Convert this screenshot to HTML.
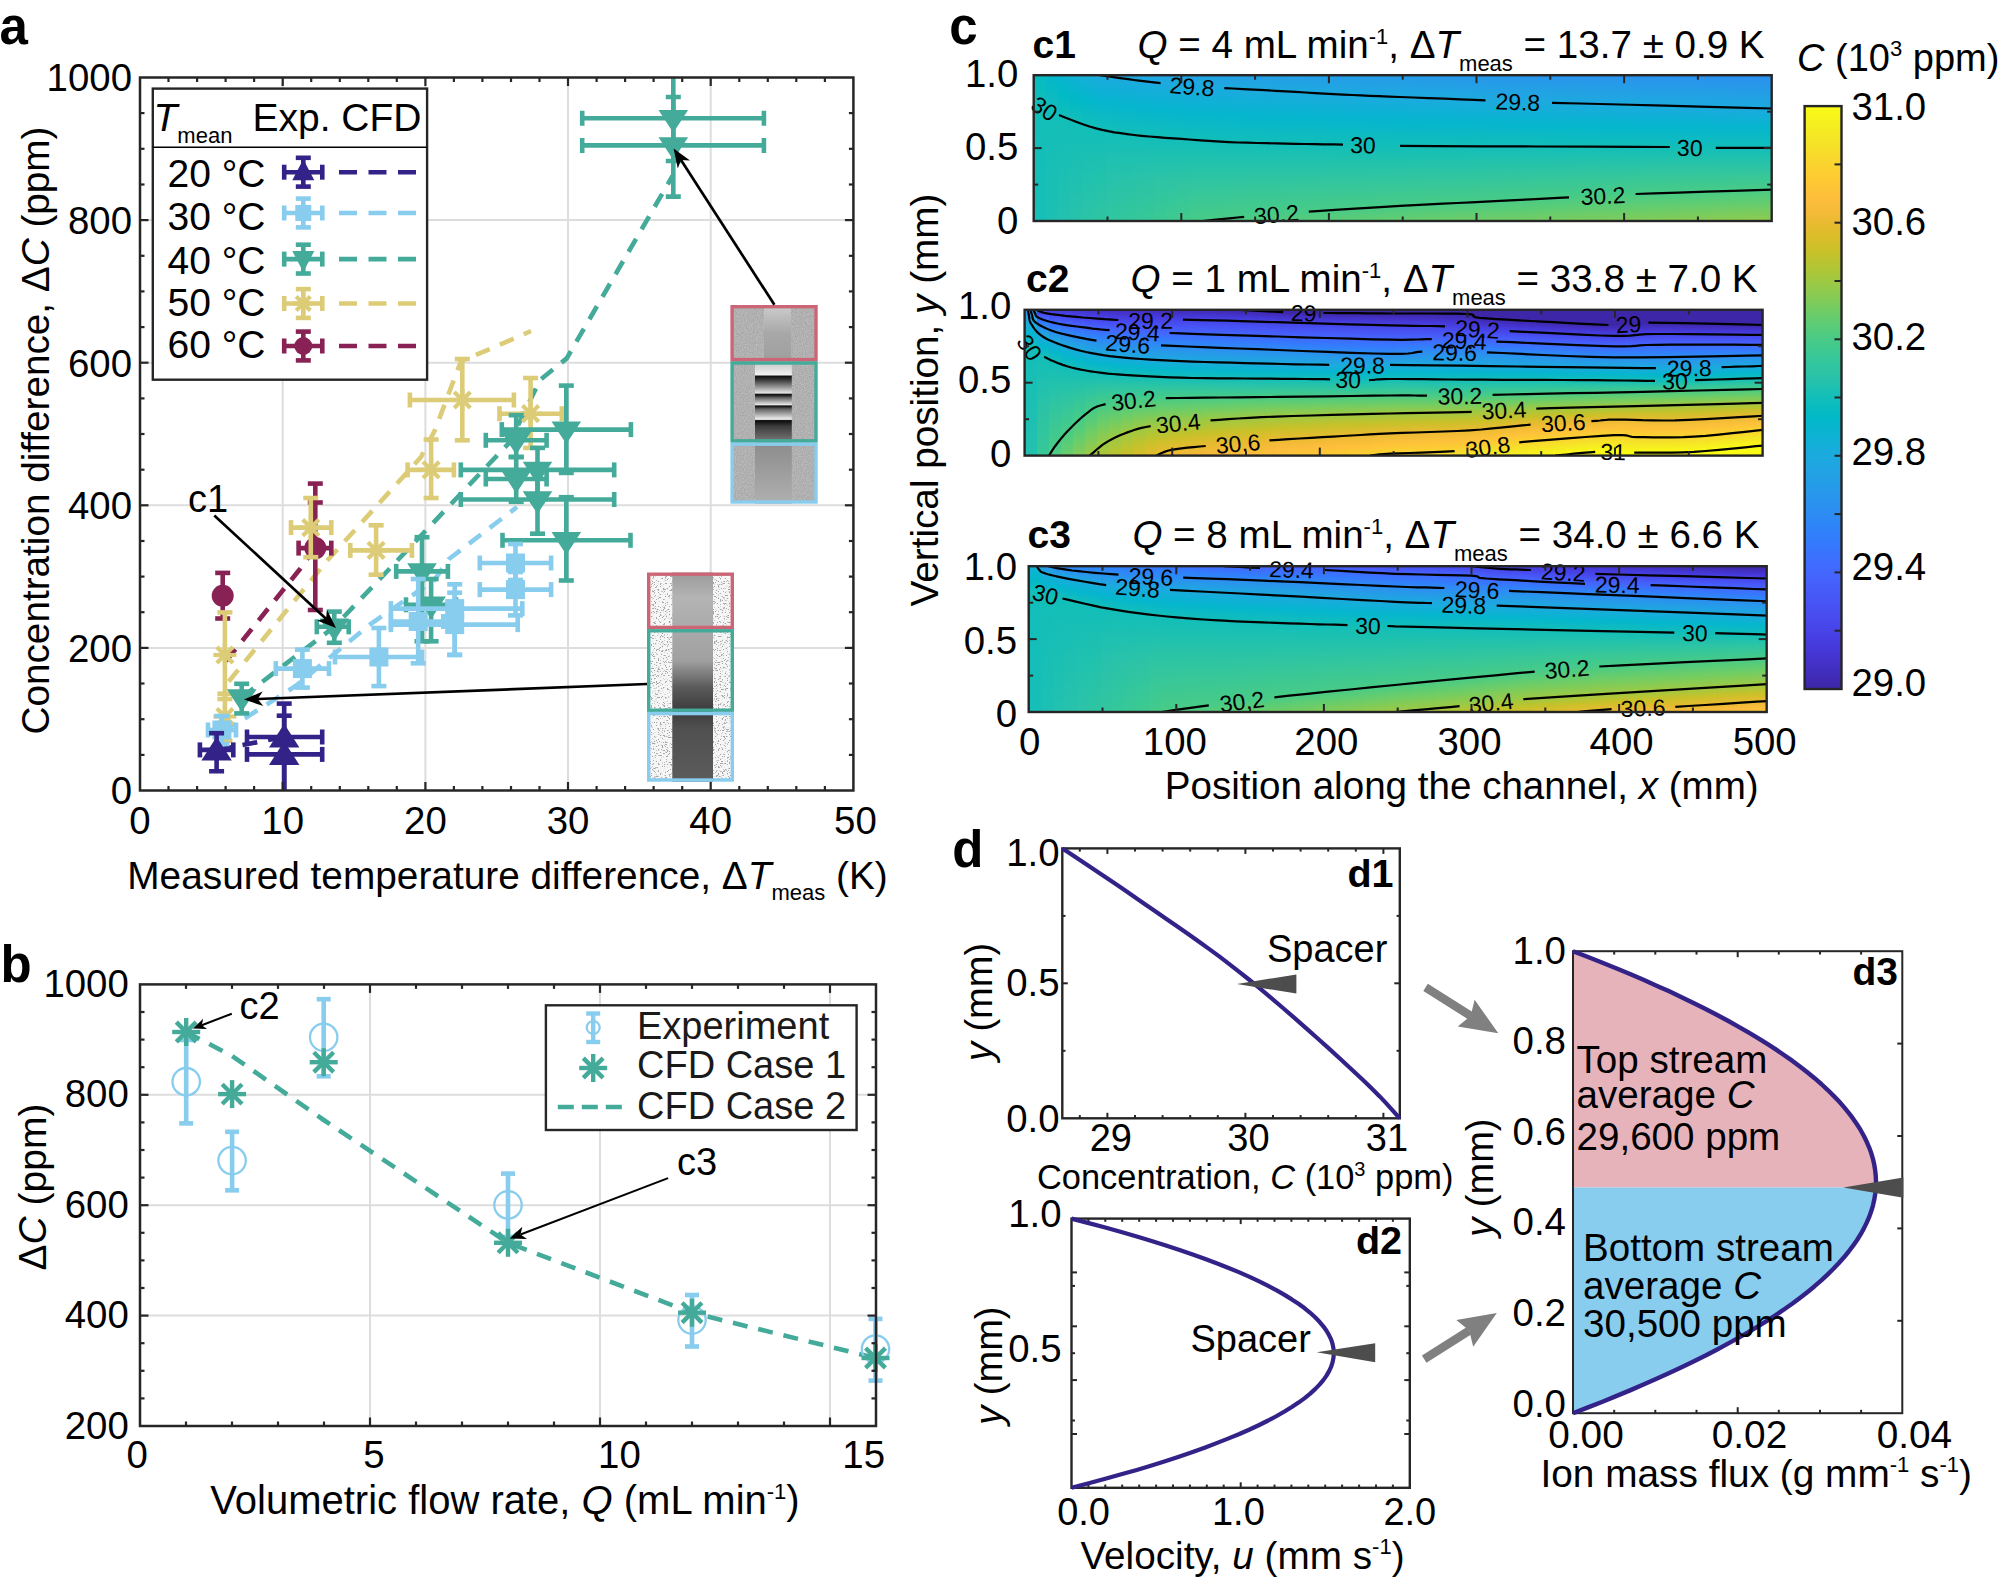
<!DOCTYPE html>
<html lang="en"><head><meta charset="utf-8"><title>Figure</title>
<style>
html,body{margin:0;padding:0;background:#fff;}
body{width:2000px;height:1580px;overflow:hidden;}
svg{display:block;font-family:"Liberation Sans",sans-serif;}
</style></head><body>
<svg width="2000" height="1580" viewBox="0 0 2000 1580">
<defs>
<filter id="noise1" x="0" y="0" width="100%" height="100%"><feTurbulence type="fractalNoise" baseFrequency="0.9" numOctaves="2" seed="3" result="n"/><feColorMatrix in="n" type="matrix" values="0 0 0 0 0.66  0 0 0 0 0.66  0 0 0 0 0.66  0.9 0 0 0 -0.25" result="m"/><feComposite in="m" in2="SourceGraphic" operator="over"/></filter>
<filter id="noise2" x="0" y="0" width="100%" height="100%"><feTurbulence type="fractalNoise" baseFrequency="0.55 0.85" numOctaves="2" seed="7" result="n"/><feColorMatrix in="n" type="matrix" values="0 0 0 0 0.38  0 0 0 0 0.38  0 0 0 0 0.38  11 0 0 0 -6.3" result="m"/><feComposite in="m" in2="SourceGraphic" operator="over"/></filter>
<linearGradient id="gi1a" x1="0" y1="0" x2="0" y2="1"><stop offset="0" stop-color="#cdcdcd"/><stop offset="0.5" stop-color="#a8a8a8"/><stop offset="1" stop-color="#9e9e9e"/></linearGradient>
<linearGradient id="gi1b" x1="0" y1="0" x2="0" y2="1"><stop offset="0" stop-color="#c4c4c4"/><stop offset="0.17" stop-color="#f2f2f2"/><stop offset="0.18" stop-color="#0a0a0a"/><stop offset="0.24" stop-color="#444"/><stop offset="0.39" stop-color="#e4e4e4"/><stop offset="0.41" stop-color="#0a0a0a"/><stop offset="0.45" stop-color="#666"/><stop offset="0.535" stop-color="#e8e8e8"/><stop offset="0.55" stop-color="#0a0a0a"/><stop offset="0.59" stop-color="#666"/><stop offset="0.715" stop-color="#f0f0f0"/><stop offset="0.73" stop-color="#0a0a0a"/><stop offset="0.8" stop-color="#3c3c3c"/><stop offset="1" stop-color="#7c7c7c"/></linearGradient>
<linearGradient id="gi1c" x1="0" y1="0" x2="0" y2="1"><stop offset="0" stop-color="#8c8c8c"/><stop offset="1" stop-color="#b0b0b0"/></linearGradient>
<linearGradient id="gi2" x1="0" y1="0" x2="0" y2="1"><stop offset="0" stop-color="#9a9a9a"/><stop offset="0.12" stop-color="#b4b4b4"/><stop offset="0.3" stop-color="#a8a8a8"/><stop offset="0.42" stop-color="#a0a0a0"/><stop offset="0.55" stop-color="#5a5a5a"/><stop offset="0.66" stop-color="#3c3c3c"/><stop offset="0.75" stop-color="#505050"/><stop offset="1" stop-color="#5c5c5c"/></linearGradient>
<linearGradient id="ca0" x1="0" y1="0" x2="0" y2="1"><stop offset="0" stop-color="#05bbc1"/><stop offset=".211" stop-color="#12beb9"/><stop offset="1" stop-color="#16bfb7"/></linearGradient>
<linearGradient id="ca1" x1="0" y1="0" x2="0" y2="1"><stop offset="0" stop-color="#02b7cb"/><stop offset=".251" stop-color="#12beb9"/><stop offset="1" stop-color="#1dc0b3"/></linearGradient>
<linearGradient id="ca2" x1="0" y1="0" x2="0" y2="1"><stop offset="0" stop-color="#09b4d1"/><stop offset=".143" stop-color="#01bac5"/><stop offset=".285" stop-color="#12beb9"/><stop offset="1" stop-color="#23c1af"/></linearGradient>
<linearGradient id="ca3" x1="0" y1="0" x2="0" y2="1"><stop offset="0" stop-color="#12b1d6"/><stop offset=".157" stop-color="#01b8c8"/><stop offset=".315" stop-color="#12beb9"/><stop offset="1" stop-color="#28c2ab"/></linearGradient>
<linearGradient id="ca4" x1="0" y1="0" x2="0" y2="1"><stop offset="0" stop-color="#18aedb"/><stop offset=".172" stop-color="#02b7cb"/><stop offset=".344" stop-color="#12beb9"/><stop offset="1" stop-color="#2cc4a7"/></linearGradient>
<linearGradient id="ca5" x1="0" y1="0" x2="0" y2="1"><stop offset="0" stop-color="#1caadf"/><stop offset=".185" stop-color="#05b6ce"/><stop offset=".369" stop-color="#12beb9"/><stop offset="1" stop-color="#2fc5a2"/></linearGradient>
<linearGradient id="ca6" x1="0" y1="0" x2="0" y2="1"><stop offset="0" stop-color="#1ca9df"/><stop offset=".011" stop-color="#1caadf"/><stop offset=".198" stop-color="#05b6ce"/><stop offset=".384" stop-color="#12beb9"/><stop offset=".692" stop-color="#26c2ad"/><stop offset="1" stop-color="#31c69f"/></linearGradient>
<linearGradient id="ca7" x1="0" y1="0" x2="0" y2="1"><stop offset="0" stop-color="#1da8e0"/><stop offset=".023" stop-color="#1caadf"/><stop offset=".21" stop-color="#05b6ce"/><stop offset=".398" stop-color="#12beb9"/><stop offset=".699" stop-color="#27c2ab"/><stop offset="1" stop-color="#34c79c"/></linearGradient>
<linearGradient id="ca8" x1="0" y1="0" x2="0" y2="1"><stop offset="0" stop-color="#1ea7e1"/><stop offset=".034" stop-color="#1caadf"/><stop offset=".223" stop-color="#05b6ce"/><stop offset=".411" stop-color="#12beb9"/><stop offset=".706" stop-color="#29c3aa"/><stop offset="1" stop-color="#36c799"/></linearGradient>
<linearGradient id="ca9" x1="0" y1="0" x2="0" y2="1"><stop offset="0" stop-color="#1ea6e1"/><stop offset=".044" stop-color="#1caadf"/><stop offset=".231" stop-color="#05b6ce"/><stop offset=".418" stop-color="#12beb9"/><stop offset=".709" stop-color="#2ac3a9"/><stop offset="1" stop-color="#38c896"/></linearGradient>
<linearGradient id="ca10" x1="0" y1="0" x2="0" y2="1"><stop offset="0" stop-color="#1fa6e2"/><stop offset=".054" stop-color="#1caadf"/><stop offset=".239" stop-color="#05b6ce"/><stop offset=".425" stop-color="#12beb9"/><stop offset=".712" stop-color="#2cc4a7"/><stop offset="1" stop-color="#3bc993"/></linearGradient>
<linearGradient id="ca11" x1="0" y1="0" x2="0" y2="1"><stop offset="0" stop-color="#20a5e3"/><stop offset=".063" stop-color="#1caadf"/><stop offset=".247" stop-color="#05b6ce"/><stop offset=".431" stop-color="#12beb9"/><stop offset=".716" stop-color="#2dc4a6"/><stop offset="1" stop-color="#3eca8f"/></linearGradient>
<linearGradient id="ca12" x1="0" y1="0" x2="0" y2="1"><stop offset="0" stop-color="#21a4e3"/><stop offset=".072" stop-color="#1caadf"/><stop offset=".255" stop-color="#05b6ce"/><stop offset=".438" stop-color="#12beb9"/><stop offset=".719" stop-color="#2ec4a4"/><stop offset="1" stop-color="#41ca8c"/></linearGradient>
<linearGradient id="ca13" x1="0" y1="0" x2="0" y2="1"><stop offset="0" stop-color="#21a3e3"/><stop offset=".079" stop-color="#1caadf"/><stop offset=".261" stop-color="#05b6ce"/><stop offset=".443" stop-color="#12beb9"/><stop offset=".722" stop-color="#2fc5a3"/><stop offset="1" stop-color="#46cb88"/></linearGradient>
<linearGradient id="ca14" x1="0" y1="0" x2="0" y2="1"><stop offset="0" stop-color="#22a2e4"/><stop offset=".083" stop-color="#1caadf"/><stop offset=".266" stop-color="#05b6ce"/><stop offset=".449" stop-color="#12beb9"/><stop offset=".723" stop-color="#2fc5a2"/><stop offset=".997" stop-color="#48cb86"/><stop offset="1" stop-color="#49cb86"/></linearGradient>
<linearGradient id="ca15" x1="0" y1="0" x2="0" y2="1"><stop offset="0" stop-color="#23a1e4"/><stop offset=".087" stop-color="#1caadf"/><stop offset=".271" stop-color="#05b6ce"/><stop offset=".455" stop-color="#12beb9"/><stop offset=".722" stop-color="#2fc5a2"/><stop offset=".988" stop-color="#48cb86"/><stop offset="1" stop-color="#4acb84"/></linearGradient>
<linearGradient id="ca16" x1="0" y1="0" x2="0" y2="1"><stop offset="0" stop-color="#23a0e5"/><stop offset=".091" stop-color="#1caadf"/><stop offset=".275" stop-color="#05b6ce"/><stop offset=".459" stop-color="#12beb9"/><stop offset=".72" stop-color="#2fc5a2"/><stop offset=".98" stop-color="#48cb86"/><stop offset="1" stop-color="#4ccb83"/></linearGradient>
<linearGradient id="ca17" x1="0" y1="0" x2="0" y2="1"><stop offset="0" stop-color="#249fe5"/><stop offset=".096" stop-color="#1caadf"/><stop offset=".279" stop-color="#05b6ce"/><stop offset=".462" stop-color="#12beb9"/><stop offset=".717" stop-color="#2fc5a2"/><stop offset=".972" stop-color="#48cb86"/><stop offset="1" stop-color="#4ecc82"/></linearGradient>
<linearGradient id="ca18" x1="0" y1="0" x2="0" y2="1"><stop offset="0" stop-color="#249ee6"/><stop offset=".1" stop-color="#1caadf"/><stop offset=".282" stop-color="#05b6ce"/><stop offset=".464" stop-color="#12beb9"/><stop offset=".714" stop-color="#2fc5a2"/><stop offset=".965" stop-color="#48cb86"/><stop offset="1" stop-color="#4fcc80"/></linearGradient>
<linearGradient id="ca19" x1="0" y1="0" x2="0" y2="1"><stop offset="0" stop-color="#249ee6"/><stop offset=".104" stop-color="#1caadf"/><stop offset=".285" stop-color="#05b6ce"/><stop offset=".466" stop-color="#12beb9"/><stop offset=".712" stop-color="#2fc5a2"/><stop offset=".958" stop-color="#48cb86"/><stop offset="1" stop-color="#51cc7f"/></linearGradient>
<linearGradient id="ca20" x1="0" y1="0" x2="0" y2="1"><stop offset="0" stop-color="#249de6"/><stop offset=".109" stop-color="#1caadf"/><stop offset=".288" stop-color="#05b6ce"/><stop offset=".468" stop-color="#12beb9"/><stop offset=".71" stop-color="#2fc5a2"/><stop offset=".952" stop-color="#48cb86"/><stop offset="1" stop-color="#53cc7d"/></linearGradient>
<linearGradient id="ca21" x1="0" y1="0" x2="0" y2="1"><stop offset="0" stop-color="#249de7"/><stop offset=".113" stop-color="#1caadf"/><stop offset=".292" stop-color="#05b6ce"/><stop offset=".47" stop-color="#12beb9"/><stop offset=".707" stop-color="#2fc5a2"/><stop offset=".945" stop-color="#48cb86"/><stop offset="1" stop-color="#55cc7c"/></linearGradient>
<linearGradient id="ca22" x1="0" y1="0" x2="0" y2="1"><stop offset="0" stop-color="#259de7"/><stop offset=".118" stop-color="#1caadf"/><stop offset=".295" stop-color="#05b6ce"/><stop offset=".471" stop-color="#12beb9"/><stop offset=".705" stop-color="#2fc5a2"/><stop offset=".938" stop-color="#48cb86"/><stop offset="1" stop-color="#56cc7b"/></linearGradient>
<linearGradient id="ca23" x1="0" y1="0" x2="0" y2="1"><stop offset="0" stop-color="#259ce7"/><stop offset=".123" stop-color="#1caadf"/><stop offset=".298" stop-color="#05b6ce"/><stop offset=".473" stop-color="#12beb9"/><stop offset=".703" stop-color="#2fc5a2"/><stop offset=".933" stop-color="#48cb86"/><stop offset="1" stop-color="#58cc79"/></linearGradient>
<linearGradient id="ca24" x1="0" y1="0" x2="0" y2="1"><stop offset="0" stop-color="#259ce7"/><stop offset=".127" stop-color="#1caadf"/><stop offset=".301" stop-color="#05b6ce"/><stop offset=".474" stop-color="#12beb9"/><stop offset=".701" stop-color="#2fc5a2"/><stop offset=".927" stop-color="#48cb86"/><stop offset="1" stop-color="#5acc78"/></linearGradient>
<linearGradient id="ca25" x1="0" y1="0" x2="0" y2="1"><stop offset="0" stop-color="#259be8"/><stop offset=".066" stop-color="#21a3e3"/><stop offset=".132" stop-color="#1caadf"/><stop offset=".304" stop-color="#05b6ce"/><stop offset=".476" stop-color="#12beb9"/><stop offset=".699" stop-color="#2fc5a2"/><stop offset=".922" stop-color="#48cb86"/><stop offset="1" stop-color="#5ccc76"/></linearGradient>
<linearGradient id="ca26" x1="0" y1="0" x2="0" y2="1"><stop offset="0" stop-color="#259be8"/><stop offset=".068" stop-color="#21a3e4"/><stop offset=".136" stop-color="#1caadf"/><stop offset=".306" stop-color="#05b6ce"/><stop offset=".477" stop-color="#12beb9"/><stop offset=".697" stop-color="#2fc5a2"/><stop offset=".917" stop-color="#48cb86"/><stop offset="1" stop-color="#5dcc74"/></linearGradient>
<linearGradient id="ca27" x1="0" y1="0" x2="0" y2="1"><stop offset="0" stop-color="#269ae8"/><stop offset=".07" stop-color="#21a2e4"/><stop offset=".139" stop-color="#1caadf"/><stop offset=".309" stop-color="#05b6ce"/><stop offset=".479" stop-color="#12beb9"/><stop offset=".696" stop-color="#2fc5a2"/><stop offset=".912" stop-color="#48cb86"/><stop offset="1" stop-color="#5fcd73"/></linearGradient>
<linearGradient id="ca28" x1="0" y1="0" x2="0" y2="1"><stop offset="0" stop-color="#269ae8"/><stop offset=".071" stop-color="#22a2e4"/><stop offset=".143" stop-color="#1caadf"/><stop offset=".312" stop-color="#05b6ce"/><stop offset=".481" stop-color="#12beb9"/><stop offset=".694" stop-color="#2fc5a2"/><stop offset=".907" stop-color="#48cb86"/><stop offset="1" stop-color="#61cd71"/></linearGradient>
<linearGradient id="ca29" x1="0" y1="0" x2="0" y2="1"><stop offset="0" stop-color="#269ae9"/><stop offset=".073" stop-color="#22a2e4"/><stop offset=".146" stop-color="#1caadf"/><stop offset=".314" stop-color="#05b6ce"/><stop offset=".483" stop-color="#12beb9"/><stop offset=".692" stop-color="#2fc5a2"/><stop offset=".902" stop-color="#48cb86"/><stop offset="1" stop-color="#63cd70"/></linearGradient>
<linearGradient id="ca30" x1="0" y1="0" x2="0" y2="1"><stop offset="0" stop-color="#2699e9"/><stop offset=".075" stop-color="#22a2e4"/><stop offset=".149" stop-color="#1caadf"/><stop offset=".317" stop-color="#05b6ce"/><stop offset=".485" stop-color="#12beb9"/><stop offset=".691" stop-color="#2fc5a2"/><stop offset=".897" stop-color="#48cb86"/><stop offset="1" stop-color="#65cd6e"/></linearGradient>
<linearGradient id="ca31" x1="0" y1="0" x2="0" y2="1"><stop offset="0" stop-color="#2699e9"/><stop offset=".076" stop-color="#22a2e4"/><stop offset=".153" stop-color="#1caadf"/><stop offset=".319" stop-color="#05b6ce"/><stop offset=".485" stop-color="#12beb9"/><stop offset=".689" stop-color="#2fc5a2"/><stop offset=".892" stop-color="#48cb86"/><stop offset="1" stop-color="#66cd6d"/></linearGradient>
<linearGradient id="ca32" x1="0" y1="0" x2="0" y2="1"><stop offset="0" stop-color="#2798ea"/><stop offset=".078" stop-color="#22a1e4"/><stop offset=".156" stop-color="#1caadf"/><stop offset=".321" stop-color="#05b6ce"/><stop offset=".486" stop-color="#12beb9"/><stop offset=".687" stop-color="#2fc5a2"/><stop offset=".888" stop-color="#48cb86"/><stop offset="1" stop-color="#68cd6b"/></linearGradient>
<linearGradient id="ca33" x1="0" y1="0" x2="0" y2="1"><stop offset="0" stop-color="#2798ea"/><stop offset=".079" stop-color="#22a1e4"/><stop offset=".159" stop-color="#1caadf"/><stop offset=".322" stop-color="#05b6ce"/><stop offset=".486" stop-color="#12beb9"/><stop offset=".685" stop-color="#2fc5a2"/><stop offset=".884" stop-color="#48cb86"/><stop offset="1" stop-color="#6acd6a"/></linearGradient>
<linearGradient id="ca34" x1="0" y1="0" x2="0" y2="1"><stop offset="0" stop-color="#2797ea"/><stop offset=".081" stop-color="#23a1e4"/><stop offset=".162" stop-color="#1caadf"/><stop offset=".324" stop-color="#05b6ce"/><stop offset=".486" stop-color="#12beb9"/><stop offset=".683" stop-color="#2fc5a2"/><stop offset=".88" stop-color="#48cb86"/><stop offset="1" stop-color="#6ccd68"/></linearGradient>
<linearGradient id="ca35" x1="0" y1="0" x2="0" y2="1"><stop offset="0" stop-color="#2797eb"/><stop offset=".083" stop-color="#23a1e4"/><stop offset=".165" stop-color="#1caadf"/><stop offset=".326" stop-color="#05b6ce"/><stop offset=".487" stop-color="#12beb9"/><stop offset=".681" stop-color="#2fc5a2"/><stop offset=".876" stop-color="#48cb86"/><stop offset="1" stop-color="#6ecd67"/></linearGradient>
<linearGradient id="ca36" x1="0" y1="0" x2="0" y2="1"><stop offset="0" stop-color="#2797eb"/><stop offset=".084" stop-color="#23a1e5"/><stop offset=".169" stop-color="#1caadf"/><stop offset=".328" stop-color="#05b6ce"/><stop offset=".487" stop-color="#12beb9"/><stop offset=".679" stop-color="#2fc5a2"/><stop offset=".872" stop-color="#48cb86"/><stop offset="1" stop-color="#6fcd66"/></linearGradient>
<linearGradient id="ca37" x1="0" y1="0" x2="0" y2="1"><stop offset="0" stop-color="#2896eb"/><stop offset=".086" stop-color="#23a0e5"/><stop offset=".172" stop-color="#1caadf"/><stop offset=".329" stop-color="#05b6ce"/><stop offset=".487" stop-color="#12beb9"/><stop offset=".677" stop-color="#2fc5a2"/><stop offset=".868" stop-color="#48cb86"/><stop offset="1" stop-color="#70cd65"/></linearGradient>
<linearGradient id="ca38" x1="0" y1="0" x2="0" y2="1"><stop offset="0" stop-color="#2896ec"/><stop offset=".088" stop-color="#23a0e5"/><stop offset=".176" stop-color="#1caadf"/><stop offset=".332" stop-color="#05b6ce"/><stop offset=".488" stop-color="#12beb9"/><stop offset=".676" stop-color="#2fc5a2"/><stop offset=".863" stop-color="#48cb86"/><stop offset=".932" stop-color="#5ccc76"/><stop offset="1" stop-color="#72cd64"/></linearGradient>
<linearGradient id="ca39" x1="0" y1="0" x2="0" y2="1"><stop offset="0" stop-color="#2895ec"/><stop offset=".09" stop-color="#23a0e5"/><stop offset=".18" stop-color="#1caadf"/><stop offset=".334" stop-color="#05b6ce"/><stop offset=".488" stop-color="#12beb9"/><stop offset=".674" stop-color="#2fc5a2"/><stop offset=".859" stop-color="#48cb86"/><stop offset=".93" stop-color="#5dcc75"/><stop offset="1" stop-color="#73cd63"/></linearGradient>
<linearGradient id="ca40" x1="0" y1="0" x2="0" y2="1"><stop offset="0" stop-color="#2895ec"/><stop offset=".092" stop-color="#23a0e5"/><stop offset=".184" stop-color="#1caadf"/><stop offset=".336" stop-color="#05b6ce"/><stop offset=".488" stop-color="#12beb9"/><stop offset=".672" stop-color="#2fc5a2"/><stop offset=".855" stop-color="#48cb86"/><stop offset=".928" stop-color="#5dcc75"/><stop offset="1" stop-color="#74cc62"/></linearGradient>
<linearGradient id="ca41" x1="0" y1="0" x2="0" y2="1"><stop offset="0" stop-color="#2995ec"/><stop offset=".093" stop-color="#23a0e5"/><stop offset=".186" stop-color="#1caadf"/><stop offset=".337" stop-color="#05b6ce"/><stop offset=".489" stop-color="#12beb9"/><stop offset=".67" stop-color="#2fc5a2"/><stop offset=".851" stop-color="#48cb86"/><stop offset=".926" stop-color="#5ecc74"/><stop offset="1" stop-color="#76cc61"/></linearGradient>
<linearGradient id="ca42" x1="0" y1="0" x2="0" y2="1"><stop offset="0" stop-color="#2994ed"/><stop offset=".094" stop-color="#23a0e5"/><stop offset=".188" stop-color="#1caadf"/><stop offset=".338" stop-color="#05b6ce"/><stop offset=".489" stop-color="#12beb9"/><stop offset=".668" stop-color="#2fc5a2"/><stop offset=".847" stop-color="#48cb86"/><stop offset=".923" stop-color="#5ecd74"/><stop offset="1" stop-color="#77cc60"/></linearGradient>
<linearGradient id="ca43" x1="0" y1="0" x2="0" y2="1"><stop offset="0" stop-color="#2994ed"/><stop offset=".095" stop-color="#239fe5"/><stop offset=".19" stop-color="#1caadf"/><stop offset=".34" stop-color="#05b6ce"/><stop offset=".489" stop-color="#12beb9"/><stop offset=".666" stop-color="#2fc5a2"/><stop offset=".843" stop-color="#48cb86"/><stop offset=".921" stop-color="#5fcd73"/><stop offset="1" stop-color="#79cc5f"/></linearGradient>
<linearGradient id="ca44" x1="0" y1="0" x2="0" y2="1"><stop offset="0" stop-color="#2994ed"/><stop offset=".096" stop-color="#249fe5"/><stop offset=".192" stop-color="#1caadf"/><stop offset=".341" stop-color="#05b6ce"/><stop offset=".49" stop-color="#12beb9"/><stop offset=".664" stop-color="#2fc5a2"/><stop offset=".839" stop-color="#48cb86"/><stop offset=".919" stop-color="#60cd73"/><stop offset="1" stop-color="#7acc5e"/></linearGradient>
<linearGradient id="ca45" x1="0" y1="0" x2="0" y2="1"><stop offset="0" stop-color="#2994ed"/><stop offset=".097" stop-color="#249fe5"/><stop offset=".194" stop-color="#1caadf"/><stop offset=".342" stop-color="#05b6ce"/><stop offset=".49" stop-color="#12beb9"/><stop offset=".662" stop-color="#2fc5a2"/><stop offset=".835" stop-color="#48cb86"/><stop offset=".917" stop-color="#60cd72"/><stop offset="1" stop-color="#7bcc5d"/></linearGradient>
<linearGradient id="ca46" x1="0" y1="0" x2="0" y2="1"><stop offset="0" stop-color="#2a93ed"/><stop offset=".098" stop-color="#249fe5"/><stop offset=".196" stop-color="#1caadf"/><stop offset=".343" stop-color="#05b6ce"/><stop offset=".49" stop-color="#12beb9"/><stop offset=".661" stop-color="#2fc5a2"/><stop offset=".831" stop-color="#48cb86"/><stop offset=".915" stop-color="#61cd72"/><stop offset="1" stop-color="#7dcc5c"/></linearGradient>
<linearGradient id="ca47" x1="0" y1="0" x2="0" y2="1"><stop offset="0" stop-color="#2a93ee"/><stop offset=".099" stop-color="#249fe5"/><stop offset=".198" stop-color="#1caadf"/><stop offset=".345" stop-color="#05b6ce"/><stop offset=".491" stop-color="#12beb9"/><stop offset=".659" stop-color="#2fc5a2"/><stop offset=".827" stop-color="#48cb86"/><stop offset=".913" stop-color="#61cd71"/><stop offset="1" stop-color="#7ecc5b"/></linearGradient>
<linearGradient id="ca48" x1="0" y1="0" x2="0" y2="1"><stop offset="0" stop-color="#2a93ee"/><stop offset=".1" stop-color="#249fe6"/><stop offset=".201" stop-color="#1caadf"/><stop offset=".346" stop-color="#05b6ce"/><stop offset=".491" stop-color="#12beb9"/><stop offset=".657" stop-color="#2fc5a2"/><stop offset=".822" stop-color="#48cb86"/><stop offset=".911" stop-color="#62cd71"/><stop offset="1" stop-color="#80cc5a"/></linearGradient>
<linearGradient id="ca49" x1="0" y1="0" x2="0" y2="1"><stop offset="0" stop-color="#2a92ee"/><stop offset=".101" stop-color="#249fe6"/><stop offset=".203" stop-color="#1caadf"/><stop offset=".347" stop-color="#05b6ce"/><stop offset=".491" stop-color="#12beb9"/><stop offset=".655" stop-color="#2fc5a2"/><stop offset=".818" stop-color="#48cb86"/><stop offset=".909" stop-color="#63cd70"/><stop offset="1" stop-color="#81cc58"/></linearGradient>
<linearGradient id="ca50" x1="0" y1="0" x2="0" y2="1"><stop offset="0" stop-color="#2a92ee"/><stop offset=".102" stop-color="#249ee6"/><stop offset=".205" stop-color="#1caadf"/><stop offset=".348" stop-color="#05b6ce"/><stop offset=".492" stop-color="#12beb9"/><stop offset=".653" stop-color="#2fc5a2"/><stop offset=".814" stop-color="#48cb86"/><stop offset=".907" stop-color="#63cd6f"/><stop offset="1" stop-color="#82cc57"/></linearGradient>
<linearGradient id="ca51" x1="0" y1="0" x2="0" y2="1"><stop offset="0" stop-color="#2b92ee"/><stop offset=".103" stop-color="#249ee6"/><stop offset=".207" stop-color="#1caadf"/><stop offset=".349" stop-color="#05b6ce"/><stop offset=".492" stop-color="#12beb9"/><stop offset=".652" stop-color="#2fc5a2"/><stop offset=".811" stop-color="#48cb86"/><stop offset=".906" stop-color="#64cd6f"/><stop offset="1" stop-color="#84cc56"/></linearGradient>
<linearGradient id="ca52" x1="0" y1="0" x2="0" y2="1"><stop offset="0" stop-color="#2b92ef"/><stop offset=".105" stop-color="#249ee6"/><stop offset=".209" stop-color="#1caadf"/><stop offset=".351" stop-color="#05b6ce"/><stop offset=".492" stop-color="#12beb9"/><stop offset=".65" stop-color="#2fc5a2"/><stop offset=".809" stop-color="#48cb86"/><stop offset=".904" stop-color="#64cd6e"/><stop offset="1" stop-color="#85cb55"/></linearGradient>
<linearGradient id="ca53" x1="0" y1="0" x2="0" y2="1"><stop offset="0" stop-color="#2b91ef"/><stop offset=".106" stop-color="#249ee6"/><stop offset=".211" stop-color="#1caadf"/><stop offset=".353" stop-color="#05b6ce"/><stop offset=".494" stop-color="#12beb9"/><stop offset=".65" stop-color="#2fc5a2"/><stop offset=".806" stop-color="#48cb86"/><stop offset=".903" stop-color="#65cd6e"/><stop offset="1" stop-color="#86cb54"/></linearGradient>
<linearGradient id="ca54" x1="0" y1="0" x2="0" y2="1"><stop offset="0" stop-color="#2b91ef"/><stop offset=".107" stop-color="#249ee6"/><stop offset=".213" stop-color="#1caadf"/><stop offset=".355" stop-color="#05b6ce"/><stop offset=".497" stop-color="#12beb9"/><stop offset=".65" stop-color="#2fc5a2"/><stop offset=".803" stop-color="#48cb86"/><stop offset=".902" stop-color="#66cd6d"/><stop offset="1" stop-color="#88cb53"/></linearGradient>
<linearGradient id="ca55" x1="0" y1="0" x2="0" y2="1"><stop offset="0" stop-color="#2b91ef"/><stop offset=".108" stop-color="#249ee6"/><stop offset=".215" stop-color="#1caadf"/><stop offset=".357" stop-color="#05b6ce"/><stop offset=".498" stop-color="#12beb9"/><stop offset=".649" stop-color="#2fc5a2"/><stop offset=".801" stop-color="#48cb86"/><stop offset=".9" stop-color="#66cd6d"/><stop offset="1" stop-color="#89cb52"/></linearGradient>
<linearGradient id="ca56" x1="0" y1="0" x2="0" y2="1"><stop offset="0" stop-color="#2b90ef"/><stop offset=".109" stop-color="#249ee6"/><stop offset=".218" stop-color="#1caadf"/><stop offset=".358" stop-color="#05b6ce"/><stop offset=".498" stop-color="#12beb9"/><stop offset=".648" stop-color="#2fc5a2"/><stop offset=".798" stop-color="#48cb86"/><stop offset=".899" stop-color="#67cd6c"/><stop offset="1" stop-color="#8bcb51"/></linearGradient>
<linearGradient id="ca57" x1="0" y1="0" x2="0" y2="1"><stop offset="0" stop-color="#2b90f0"/><stop offset=".11" stop-color="#249ee6"/><stop offset=".22" stop-color="#1caadf"/><stop offset=".359" stop-color="#05b6ce"/><stop offset=".498" stop-color="#12beb9"/><stop offset=".647" stop-color="#2fc5a2"/><stop offset=".795" stop-color="#48cb86"/><stop offset=".898" stop-color="#68cd6c"/><stop offset="1" stop-color="#8ccb50"/></linearGradient>
<linearGradient id="ca58" x1="0" y1="0" x2="0" y2="1"><stop offset="0" stop-color="#2c90f0"/><stop offset=".111" stop-color="#249de6"/><stop offset=".222" stop-color="#1caadf"/><stop offset=".36" stop-color="#05b6ce"/><stop offset=".498" stop-color="#12beb9"/><stop offset=".645" stop-color="#2fc5a2"/><stop offset=".793" stop-color="#48cb86"/><stop offset=".896" stop-color="#68cd6b"/><stop offset="1" stop-color="#8dcb4f"/></linearGradient>
<linearGradient id="ca59" x1="0" y1="0" x2="0" y2="1"><stop offset="0" stop-color="#2c90f0"/><stop offset=".112" stop-color="#249de6"/><stop offset=".224" stop-color="#1caadf"/><stop offset=".361" stop-color="#05b6ce"/><stop offset=".498" stop-color="#12beb9"/><stop offset=".644" stop-color="#2fc5a2"/><stop offset=".79" stop-color="#48cb86"/><stop offset=".895" stop-color="#69cd6b"/><stop offset="1" stop-color="#8fcb4e"/></linearGradient>
<linearGradient id="ca60" x1="0" y1="0" x2="0" y2="1"><stop offset="0" stop-color="#2c8ff0"/><stop offset=".113" stop-color="#249de6"/><stop offset=".226" stop-color="#1caadf"/><stop offset=".362" stop-color="#05b6ce"/><stop offset=".498" stop-color="#12beb9"/><stop offset=".643" stop-color="#2fc5a2"/><stop offset=".787" stop-color="#48cb86"/><stop offset=".894" stop-color="#6acd6a"/><stop offset="1" stop-color="#90ca4d"/></linearGradient>
<linearGradient id="ca61" x1="0" y1="0" x2="0" y2="1"><stop offset="0" stop-color="#2c8ff1"/><stop offset=".114" stop-color="#249de7"/><stop offset=".228" stop-color="#1caadf"/><stop offset=".363" stop-color="#05b6ce"/><stop offset=".498" stop-color="#12beb9"/><stop offset=".642" stop-color="#2fc5a2"/><stop offset=".786" stop-color="#48cb86"/><stop offset=".893" stop-color="#6acd6a"/><stop offset="1" stop-color="#91ca4c"/></linearGradient>
<linearGradient id="cb0" x1="0" y1="0" x2="0" y2="1"><stop offset="0" stop-color="#2d8cf3"/><stop offset=".043" stop-color="#259ce7"/><stop offset=".086" stop-color="#1caadf"/><stop offset=".172" stop-color="#05b6ce"/><stop offset=".259" stop-color="#12beb9"/><stop offset="1" stop-color="#24c1ae"/></linearGradient>
<linearGradient id="cb1" x1="0" y1="0" x2="0" y2="1"><stop offset="0" stop-color="#4741e4"/><stop offset=".016" stop-color="#4743e7"/><stop offset=".04" stop-color="#4755f6"/><stop offset=".063" stop-color="#4367fd"/><stop offset=".088" stop-color="#347afd"/><stop offset=".112" stop-color="#2d8cf3"/><stop offset=".146" stop-color="#259ce7"/><stop offset=".18" stop-color="#1caadf"/><stop offset=".247" stop-color="#05b6ce"/><stop offset=".315" stop-color="#12beb9"/><stop offset=".657" stop-color="#2ac3a8"/><stop offset="1" stop-color="#38c896"/></linearGradient>
<linearGradient id="cb2" x1="0" y1="0" x2="0" y2="1"><stop offset="0" stop-color="#463cdf"/><stop offset=".031" stop-color="#4743e7"/><stop offset=".06" stop-color="#4755f6"/><stop offset=".088" stop-color="#4367fd"/><stop offset=".117" stop-color="#347afd"/><stop offset=".147" stop-color="#2d8cf3"/><stop offset=".184" stop-color="#259ce7"/><stop offset=".221" stop-color="#1caadf"/><stop offset=".287" stop-color="#05b6ce"/><stop offset=".352" stop-color="#12beb9"/><stop offset=".647" stop-color="#2fc5a2"/><stop offset=".942" stop-color="#48cb86"/><stop offset="1" stop-color="#53cc7e"/></linearGradient>
<linearGradient id="cb3" x1="0" y1="0" x2="0" y2="1"><stop offset="0" stop-color="#4538d8"/><stop offset=".041" stop-color="#4743e7"/><stop offset=".072" stop-color="#4755f6"/><stop offset=".103" stop-color="#4367fd"/><stop offset=".137" stop-color="#347afd"/><stop offset=".171" stop-color="#2d8cf3"/><stop offset=".211" stop-color="#259ce7"/><stop offset=".25" stop-color="#1caadf"/><stop offset=".318" stop-color="#05b6ce"/><stop offset=".386" stop-color="#12beb9"/><stop offset=".613" stop-color="#2fc5a2"/><stop offset=".84" stop-color="#48cb86"/><stop offset="1" stop-color="#6bcd69"/></linearGradient>
<linearGradient id="cb4" x1="0" y1="0" x2="0" y2="1"><stop offset="0" stop-color="#4435d1"/><stop offset=".05" stop-color="#4743e7"/><stop offset=".083" stop-color="#4755f6"/><stop offset=".115" stop-color="#4367fd"/><stop offset=".151" stop-color="#347afd"/><stop offset=".188" stop-color="#2d8cf3"/><stop offset=".231" stop-color="#259ce7"/><stop offset=".274" stop-color="#1caadf"/><stop offset=".339" stop-color="#05b6ce"/><stop offset=".403" stop-color="#12beb9"/><stop offset=".582" stop-color="#2fc5a2"/><stop offset=".761" stop-color="#48cb86"/><stop offset=".881" stop-color="#65cd6e"/><stop offset="1" stop-color="#86cb55"/></linearGradient>
<linearGradient id="cb5" x1="0" y1="0" x2="0" y2="1"><stop offset="0" stop-color="#4332c9"/><stop offset=".028" stop-color="#4639da"/><stop offset=".056" stop-color="#4743e7"/><stop offset=".091" stop-color="#4755f6"/><stop offset=".126" stop-color="#4367fd"/><stop offset=".165" stop-color="#347afd"/><stop offset=".203" stop-color="#2d8cf3"/><stop offset=".249" stop-color="#259ce7"/><stop offset=".294" stop-color="#1caadf"/><stop offset=".357" stop-color="#05b6ce"/><stop offset=".42" stop-color="#12beb9"/><stop offset=".558" stop-color="#2fc5a2"/><stop offset=".695" stop-color="#48cb86"/><stop offset=".845" stop-color="#71cd64"/><stop offset=".996" stop-color="#9fc942"/><stop offset="1" stop-color="#a0c841"/></linearGradient>
<linearGradient id="cb6" x1="0" y1="0" x2="0" y2="1"><stop offset="0" stop-color="#422fc1"/><stop offset=".031" stop-color="#4538d7"/><stop offset=".062" stop-color="#4743e7"/><stop offset=".099" stop-color="#4755f6"/><stop offset=".135" stop-color="#4367fd"/><stop offset=".176" stop-color="#347afd"/><stop offset=".216" stop-color="#2d8cf3"/><stop offset=".261" stop-color="#259ce7"/><stop offset=".307" stop-color="#1caadf"/><stop offset=".369" stop-color="#05b6ce"/><stop offset=".431" stop-color="#12beb9"/><stop offset=".542" stop-color="#2fc5a2"/><stop offset=".653" stop-color="#48cb86"/><stop offset=".791" stop-color="#71cd64"/><stop offset=".928" stop-color="#9fc942"/><stop offset="1" stop-color="#b0c636"/></linearGradient>
<linearGradient id="cb7" x1="0" y1="0" x2="0" y2="1"><stop offset="0" stop-color="#422ebf"/><stop offset=".034" stop-color="#4537d6"/><stop offset=".068" stop-color="#4743e7"/><stop offset=".105" stop-color="#4755f6"/><stop offset=".142" stop-color="#4367fd"/><stop offset=".183" stop-color="#347afd"/><stop offset=".225" stop-color="#2d8cf3"/><stop offset=".272" stop-color="#259ce7"/><stop offset=".319" stop-color="#1caadf"/><stop offset=".379" stop-color="#05b6ce"/><stop offset=".439" stop-color="#12beb9"/><stop offset=".54" stop-color="#2fc5a2"/><stop offset=".641" stop-color="#48cb86"/><stop offset=".761" stop-color="#71cd64"/><stop offset=".882" stop-color="#9fc942"/><stop offset="1" stop-color="#bec32e"/></linearGradient>
<linearGradient id="cb8" x1="0" y1="0" x2="0" y2="1"><stop offset="0" stop-color="#412dbd"/><stop offset=".036" stop-color="#4537d6"/><stop offset=".071" stop-color="#4743e7"/><stop offset=".109" stop-color="#4755f6"/><stop offset=".147" stop-color="#4367fd"/><stop offset=".19" stop-color="#347afd"/><stop offset=".234" stop-color="#2d8cf3"/><stop offset=".282" stop-color="#259ce7"/><stop offset=".33" stop-color="#1caadf"/><stop offset=".388" stop-color="#05b6ce"/><stop offset=".447" stop-color="#12beb9"/><stop offset=".538" stop-color="#2fc5a2"/><stop offset=".628" stop-color="#48cb86"/><stop offset=".736" stop-color="#71cd64"/><stop offset=".844" stop-color="#9fc942"/><stop offset=".922" stop-color="#b7c532"/><stop offset="1" stop-color="#ccc028"/></linearGradient>
<linearGradient id="cb9" x1="0" y1="0" x2="0" y2="1"><stop offset="0" stop-color="#412dbb"/><stop offset=".036" stop-color="#4537d5"/><stop offset=".073" stop-color="#4743e7"/><stop offset=".113" stop-color="#4755f6"/><stop offset=".153" stop-color="#4367fd"/><stop offset=".195" stop-color="#347afd"/><stop offset=".238" stop-color="#2d8cf3"/><stop offset=".286" stop-color="#259ce7"/><stop offset=".335" stop-color="#1caadf"/><stop offset=".393" stop-color="#05b6ce"/><stop offset=".451" stop-color="#12beb9"/><stop offset=".535" stop-color="#2fc5a2"/><stop offset=".619" stop-color="#48cb86"/><stop offset=".719" stop-color="#71cd64"/><stop offset=".819" stop-color="#9fc942"/><stop offset=".91" stop-color="#bec32e"/><stop offset="1" stop-color="#d9be28"/></linearGradient>
<linearGradient id="cb10" x1="0" y1="0" x2="0" y2="1"><stop offset="0" stop-color="#412cb9"/><stop offset=".037" stop-color="#4536d4"/><stop offset=".074" stop-color="#4743e7"/><stop offset=".115" stop-color="#4755f6"/><stop offset=".155" stop-color="#4367fd"/><stop offset=".198" stop-color="#347afd"/><stop offset=".241" stop-color="#2d8cf3"/><stop offset=".29" stop-color="#259ce7"/><stop offset=".339" stop-color="#1caadf"/><stop offset=".397" stop-color="#05b6ce"/><stop offset=".455" stop-color="#12beb9"/><stop offset=".534" stop-color="#2fc5a2"/><stop offset=".613" stop-color="#48cb86"/><stop offset=".707" stop-color="#71cd64"/><stop offset=".8" stop-color="#9fc942"/><stop offset=".9" stop-color="#c5c22a"/><stop offset="1" stop-color="#e5bb2d"/></linearGradient>
<linearGradient id="cb11" x1="0" y1="0" x2="0" y2="1"><stop offset="0" stop-color="#402bb7"/><stop offset=".036" stop-color="#4536d3"/><stop offset=".072" stop-color="#4743e7"/><stop offset=".115" stop-color="#4755f6"/><stop offset=".158" stop-color="#4367fd"/><stop offset=".201" stop-color="#347afd"/><stop offset=".245" stop-color="#2d8cf3"/><stop offset=".294" stop-color="#259ce7"/><stop offset=".344" stop-color="#1caadf"/><stop offset=".402" stop-color="#05b6ce"/><stop offset=".459" stop-color="#12beb9"/><stop offset=".534" stop-color="#2fc5a2"/><stop offset=".608" stop-color="#48cb86"/><stop offset=".699" stop-color="#71cd64"/><stop offset=".79" stop-color="#9fc942"/><stop offset=".887" stop-color="#c8c129"/><stop offset=".984" stop-color="#eaba31"/><stop offset="1" stop-color="#ecba32"/></linearGradient>
<linearGradient id="cb12" x1="0" y1="0" x2="0" y2="1"><stop offset="0" stop-color="#402ab5"/><stop offset=".035" stop-color="#4435d2"/><stop offset=".069" stop-color="#4743e7"/><stop offset=".115" stop-color="#4755f6"/><stop offset=".16" stop-color="#4367fd"/><stop offset=".204" stop-color="#347afd"/><stop offset=".248" stop-color="#2d8cf3"/><stop offset=".299" stop-color="#259ce7"/><stop offset=".349" stop-color="#1caadf"/><stop offset=".406" stop-color="#05b6ce"/><stop offset=".463" stop-color="#12beb9"/><stop offset=".535" stop-color="#2fc5a2"/><stop offset=".606" stop-color="#48cb86"/><stop offset=".693" stop-color="#71cd64"/><stop offset=".781" stop-color="#9fc942"/><stop offset=".87" stop-color="#c8c129"/><stop offset=".958" stop-color="#eaba31"/><stop offset="1" stop-color="#efba35"/></linearGradient>
<linearGradient id="cb13" x1="0" y1="0" x2="0" y2="1"><stop offset="0" stop-color="#4029b3"/><stop offset=".034" stop-color="#4435d1"/><stop offset=".069" stop-color="#4743e7"/><stop offset=".116" stop-color="#4755f6"/><stop offset=".163" stop-color="#4367fd"/><stop offset=".207" stop-color="#347afd"/><stop offset=".251" stop-color="#2d8cf3"/><stop offset=".302" stop-color="#259ce7"/><stop offset=".353" stop-color="#1caadf"/><stop offset=".41" stop-color="#05b6ce"/><stop offset=".466" stop-color="#12beb9"/><stop offset=".535" stop-color="#2fc5a2"/><stop offset=".605" stop-color="#48cb86"/><stop offset=".689" stop-color="#71cd64"/><stop offset=".773" stop-color="#9fc942"/><stop offset=".861" stop-color="#c8c129"/><stop offset=".949" stop-color="#eaba31"/><stop offset="1" stop-color="#f2ba38"/></linearGradient>
<linearGradient id="cb14" x1="0" y1="0" x2="0" y2="1"><stop offset="0" stop-color="#3f29b0"/><stop offset=".035" stop-color="#4434d0"/><stop offset=".071" stop-color="#4743e7"/><stop offset=".118" stop-color="#4755f6"/><stop offset=".166" stop-color="#4367fd"/><stop offset=".21" stop-color="#347afd"/><stop offset=".254" stop-color="#2d8cf3"/><stop offset=".305" stop-color="#259ce7"/><stop offset=".356" stop-color="#1caadf"/><stop offset=".411" stop-color="#05b6ce"/><stop offset=".467" stop-color="#12beb9"/><stop offset=".535" stop-color="#2fc5a2"/><stop offset=".604" stop-color="#48cb86"/><stop offset=".685" stop-color="#71cd64"/><stop offset=".766" stop-color="#9fc942"/><stop offset=".853" stop-color="#c8c129"/><stop offset=".94" stop-color="#eaba31"/><stop offset="1" stop-color="#f5ba3a"/></linearGradient>
<linearGradient id="cb15" x1="0" y1="0" x2="0" y2="1"><stop offset="0" stop-color="#3f28ae"/><stop offset=".036" stop-color="#4434cf"/><stop offset=".073" stop-color="#4743e7"/><stop offset=".121" stop-color="#4755f6"/><stop offset=".168" stop-color="#4367fd"/><stop offset=".213" stop-color="#347afd"/><stop offset=".258" stop-color="#2d8cf3"/><stop offset=".308" stop-color="#259ce7"/><stop offset=".358" stop-color="#1caadf"/><stop offset=".413" stop-color="#05b6ce"/><stop offset=".468" stop-color="#12beb9"/><stop offset=".536" stop-color="#2fc5a2"/><stop offset=".603" stop-color="#48cb86"/><stop offset=".681" stop-color="#71cd64"/><stop offset=".759" stop-color="#9fc942"/><stop offset=".845" stop-color="#c8c129"/><stop offset=".932" stop-color="#eaba31"/><stop offset="1" stop-color="#f8ba3d"/></linearGradient>
<linearGradient id="cb16" x1="0" y1="0" x2="0" y2="1"><stop offset="0" stop-color="#3e27ac"/><stop offset=".037" stop-color="#4434ce"/><stop offset=".075" stop-color="#4743e7"/><stop offset=".123" stop-color="#4755f6"/><stop offset=".171" stop-color="#4367fd"/><stop offset=".216" stop-color="#347afd"/><stop offset=".261" stop-color="#2d8cf3"/><stop offset=".311" stop-color="#259ce7"/><stop offset=".36" stop-color="#1caadf"/><stop offset=".415" stop-color="#05b6ce"/><stop offset=".469" stop-color="#12beb9"/><stop offset=".536" stop-color="#2fc5a2"/><stop offset=".602" stop-color="#48cb86"/><stop offset=".678" stop-color="#71cd64"/><stop offset=".754" stop-color="#9fc942"/><stop offset=".84" stop-color="#c8c129"/><stop offset=".926" stop-color="#eaba31"/><stop offset="1" stop-color="#fabb3d"/></linearGradient>
<linearGradient id="cb17" x1="0" y1="0" x2="0" y2="1"><stop offset="0" stop-color="#3e27a9"/><stop offset=".038" stop-color="#4433cd"/><stop offset=".077" stop-color="#4743e7"/><stop offset=".125" stop-color="#4755f6"/><stop offset=".174" stop-color="#4367fd"/><stop offset=".219" stop-color="#347afd"/><stop offset=".264" stop-color="#2d8cf3"/><stop offset=".314" stop-color="#259ce7"/><stop offset=".363" stop-color="#1caadf"/><stop offset=".417" stop-color="#05b6ce"/><stop offset=".47" stop-color="#12beb9"/><stop offset=".536" stop-color="#2fc5a2"/><stop offset=".601" stop-color="#48cb86"/><stop offset=".675" stop-color="#71cd64"/><stop offset=".749" stop-color="#9fc942"/><stop offset=".834" stop-color="#c8c129"/><stop offset=".919" stop-color="#eaba31"/><stop offset="1" stop-color="#fcbd3d"/></linearGradient>
<linearGradient id="cb18" x1="0" y1="0" x2="0" y2="1"><stop offset="0" stop-color="#3e26a8"/><stop offset=".002" stop-color="#3e26a8"/><stop offset=".041" stop-color="#4433cc"/><stop offset=".079" stop-color="#4743e7"/><stop offset=".128" stop-color="#4755f6"/><stop offset=".177" stop-color="#4367fd"/><stop offset=".222" stop-color="#347afd"/><stop offset=".267" stop-color="#2d8cf3"/><stop offset=".316" stop-color="#259ce7"/><stop offset=".365" stop-color="#1caadf"/><stop offset=".418" stop-color="#05b6ce"/><stop offset=".471" stop-color="#12beb9"/><stop offset=".536" stop-color="#2fc5a2"/><stop offset=".6" stop-color="#48cb86"/><stop offset=".672" stop-color="#71cd64"/><stop offset=".744" stop-color="#9fc942"/><stop offset=".828" stop-color="#c8c129"/><stop offset=".912" stop-color="#eaba31"/><stop offset="1" stop-color="#febe3c"/></linearGradient>
<linearGradient id="cb19" x1="0" y1="0" x2="0" y2="1"><stop offset="0" stop-color="#3e26a8"/><stop offset=".007" stop-color="#3e26a8"/><stop offset=".044" stop-color="#4433cc"/><stop offset=".081" stop-color="#4743e7"/><stop offset=".13" stop-color="#4755f6"/><stop offset=".179" stop-color="#4367fd"/><stop offset=".225" stop-color="#347afd"/><stop offset=".271" stop-color="#2d8cf3"/><stop offset=".319" stop-color="#259ce7"/><stop offset=".368" stop-color="#1caadf"/><stop offset=".42" stop-color="#05b6ce"/><stop offset=".472" stop-color="#12beb9"/><stop offset=".536" stop-color="#2fc5a2"/><stop offset=".599" stop-color="#48cb86"/><stop offset=".669" stop-color="#71cd64"/><stop offset=".739" stop-color="#9fc942"/><stop offset=".821" stop-color="#c8c129"/><stop offset=".903" stop-color="#eaba31"/><stop offset="1" stop-color="#fec03b"/></linearGradient>
<linearGradient id="cb20" x1="0" y1="0" x2="0" y2="1"><stop offset="0" stop-color="#3e26a8"/><stop offset=".011" stop-color="#3e26a8"/><stop offset=".047" stop-color="#4433cc"/><stop offset=".084" stop-color="#4743e7"/><stop offset=".133" stop-color="#4755f6"/><stop offset=".182" stop-color="#4367fd"/><stop offset=".228" stop-color="#347afd"/><stop offset=".274" stop-color="#2d8cf3"/><stop offset=".322" stop-color="#259ce7"/><stop offset=".37" stop-color="#1caadf"/><stop offset=".421" stop-color="#05b6ce"/><stop offset=".473" stop-color="#12beb9"/><stop offset=".535" stop-color="#2fc5a2"/><stop offset=".598" stop-color="#48cb86"/><stop offset=".666" stop-color="#71cd64"/><stop offset=".735" stop-color="#9fc942"/><stop offset=".815" stop-color="#c8c129"/><stop offset=".895" stop-color="#eaba31"/><stop offset=".948" stop-color="#f9ba3d"/><stop offset="1" stop-color="#fec239"/></linearGradient>
<linearGradient id="cb21" x1="0" y1="0" x2="0" y2="1"><stop offset="0" stop-color="#3e26a8"/><stop offset=".016" stop-color="#3e26a8"/><stop offset=".051" stop-color="#4433cc"/><stop offset=".086" stop-color="#4743e7"/><stop offset=".135" stop-color="#4755f6"/><stop offset=".184" stop-color="#4367fd"/><stop offset=".23" stop-color="#347afd"/><stop offset=".276" stop-color="#2d8cf3"/><stop offset=".324" stop-color="#259ce7"/><stop offset=".371" stop-color="#1caadf"/><stop offset=".422" stop-color="#05b6ce"/><stop offset=".473" stop-color="#12beb9"/><stop offset=".535" stop-color="#2fc5a2"/><stop offset=".597" stop-color="#48cb86"/><stop offset=".664" stop-color="#71cd64"/><stop offset=".731" stop-color="#9fc942"/><stop offset=".811" stop-color="#c8c129"/><stop offset=".89" stop-color="#eaba31"/><stop offset=".945" stop-color="#fabb3d"/><stop offset="1" stop-color="#fec438"/></linearGradient>
<linearGradient id="cb22" x1="0" y1="0" x2="0" y2="1"><stop offset="0" stop-color="#3e26a8"/><stop offset=".02" stop-color="#3e26a8"/><stop offset=".054" stop-color="#4433cc"/><stop offset=".088" stop-color="#4743e7"/><stop offset=".137" stop-color="#4755f6"/><stop offset=".186" stop-color="#4367fd"/><stop offset=".233" stop-color="#347afd"/><stop offset=".279" stop-color="#2d8cf3"/><stop offset=".326" stop-color="#259ce7"/><stop offset=".373" stop-color="#1caadf"/><stop offset=".424" stop-color="#05b6ce"/><stop offset=".474" stop-color="#12beb9"/><stop offset=".535" stop-color="#2fc5a2"/><stop offset=".596" stop-color="#48cb86"/><stop offset=".663" stop-color="#71cd64"/><stop offset=".729" stop-color="#9fc942"/><stop offset=".807" stop-color="#c8c129"/><stop offset=".885" stop-color="#eaba31"/><stop offset=".943" stop-color="#fbbc3d"/><stop offset="1" stop-color="#fec636"/></linearGradient>
<linearGradient id="cb23" x1="0" y1="0" x2="0" y2="1"><stop offset="0" stop-color="#3e26a8"/><stop offset=".022" stop-color="#3e26a8"/><stop offset=".056" stop-color="#4433cc"/><stop offset=".091" stop-color="#4743e7"/><stop offset=".14" stop-color="#4755f6"/><stop offset=".189" stop-color="#4367fd"/><stop offset=".235" stop-color="#347afd"/><stop offset=".282" stop-color="#2d8cf3"/><stop offset=".328" stop-color="#259ce7"/><stop offset=".375" stop-color="#1caadf"/><stop offset=".425" stop-color="#05b6ce"/><stop offset=".475" stop-color="#12beb9"/><stop offset=".535" stop-color="#2fc5a2"/><stop offset=".595" stop-color="#48cb86"/><stop offset=".661" stop-color="#71cd64"/><stop offset=".727" stop-color="#9fc942"/><stop offset=".804" stop-color="#c8c129"/><stop offset=".881" stop-color="#eaba31"/><stop offset=".94" stop-color="#fcbc3d"/><stop offset="1" stop-color="#fec834"/></linearGradient>
<linearGradient id="cb24" x1="0" y1="0" x2="0" y2="1"><stop offset="0" stop-color="#3e26a8"/><stop offset=".022" stop-color="#3e26a8"/><stop offset=".057" stop-color="#4433cc"/><stop offset=".093" stop-color="#4743e7"/><stop offset=".142" stop-color="#4755f6"/><stop offset=".191" stop-color="#4367fd"/><stop offset=".238" stop-color="#347afd"/><stop offset=".285" stop-color="#2d8cf3"/><stop offset=".331" stop-color="#259ce7"/><stop offset=".376" stop-color="#1caadf"/><stop offset=".426" stop-color="#05b6ce"/><stop offset=".476" stop-color="#12beb9"/><stop offset=".535" stop-color="#2fc5a2"/><stop offset=".594" stop-color="#48cb86"/><stop offset=".659" stop-color="#71cd64"/><stop offset=".725" stop-color="#9fc942"/><stop offset=".8" stop-color="#c8c129"/><stop offset=".876" stop-color="#eaba31"/><stop offset=".938" stop-color="#fdbd3d"/><stop offset="1" stop-color="#fdca33"/></linearGradient>
<linearGradient id="cb25" x1="0" y1="0" x2="0" y2="1"><stop offset="0" stop-color="#3e26a8"/><stop offset=".022" stop-color="#3e26a8"/><stop offset=".059" stop-color="#4433cc"/><stop offset=".095" stop-color="#4743e7"/><stop offset=".144" stop-color="#4755f6"/><stop offset=".193" stop-color="#4367fd"/><stop offset=".241" stop-color="#347afd"/><stop offset=".288" stop-color="#2d8cf3"/><stop offset=".333" stop-color="#259ce7"/><stop offset=".378" stop-color="#1caadf"/><stop offset=".428" stop-color="#05b6ce"/><stop offset=".477" stop-color="#12beb9"/><stop offset=".535" stop-color="#2fc5a2"/><stop offset=".593" stop-color="#48cb86"/><stop offset=".658" stop-color="#71cd64"/><stop offset=".722" stop-color="#9fc942"/><stop offset=".796" stop-color="#c8c129"/><stop offset=".871" stop-color="#eaba31"/><stop offset=".935" stop-color="#febd3c"/><stop offset="1" stop-color="#fdcd32"/></linearGradient>
<linearGradient id="cb26" x1="0" y1="0" x2="0" y2="1"><stop offset="0" stop-color="#3e26a8"/><stop offset=".023" stop-color="#3e26a8"/><stop offset=".06" stop-color="#4433cc"/><stop offset=".098" stop-color="#4743e7"/><stop offset=".147" stop-color="#4755f6"/><stop offset=".196" stop-color="#4367fd"/><stop offset=".243" stop-color="#347afd"/><stop offset=".291" stop-color="#2d8cf3"/><stop offset=".335" stop-color="#259ce7"/><stop offset=".379" stop-color="#1caadf"/><stop offset=".429" stop-color="#05b6ce"/><stop offset=".48" stop-color="#12beb9"/><stop offset=".536" stop-color="#2fc5a2"/><stop offset=".592" stop-color="#48cb86"/><stop offset=".656" stop-color="#71cd64"/><stop offset=".72" stop-color="#9fc942"/><stop offset=".793" stop-color="#c8c129"/><stop offset=".866" stop-color="#eaba31"/><stop offset=".933" stop-color="#febe3c"/><stop offset="1" stop-color="#fccf30"/></linearGradient>
<linearGradient id="cb27" x1="0" y1="0" x2="0" y2="1"><stop offset="0" stop-color="#3e26a8"/><stop offset=".023" stop-color="#3e26a8"/><stop offset=".062" stop-color="#4433cc"/><stop offset=".1" stop-color="#4743e7"/><stop offset=".149" stop-color="#4755f6"/><stop offset=".198" stop-color="#4367fd"/><stop offset=".246" stop-color="#347afd"/><stop offset=".294" stop-color="#2d8cf3"/><stop offset=".337" stop-color="#259ce7"/><stop offset=".38" stop-color="#1caadf"/><stop offset=".431" stop-color="#05b6ce"/><stop offset=".481" stop-color="#12beb9"/><stop offset=".536" stop-color="#2fc5a2"/><stop offset=".591" stop-color="#48cb86"/><stop offset=".654" stop-color="#71cd64"/><stop offset=".718" stop-color="#9fc942"/><stop offset=".79" stop-color="#c8c129"/><stop offset=".861" stop-color="#eaba31"/><stop offset=".931" stop-color="#febf3b"/><stop offset="1" stop-color="#fcd12f"/></linearGradient>
<linearGradient id="cb28" x1="0" y1="0" x2="0" y2="1"><stop offset="0" stop-color="#3e26a8"/><stop offset=".024" stop-color="#3e26a8"/><stop offset=".063" stop-color="#4433cc"/><stop offset=".102" stop-color="#4743e7"/><stop offset=".151" stop-color="#4755f6"/><stop offset=".2" stop-color="#4367fd"/><stop offset=".249" stop-color="#347afd"/><stop offset=".297" stop-color="#2d8cf3"/><stop offset=".339" stop-color="#259ce7"/><stop offset=".38" stop-color="#1caadf"/><stop offset=".431" stop-color="#05b6ce"/><stop offset=".482" stop-color="#12beb9"/><stop offset=".536" stop-color="#2fc5a2"/><stop offset=".59" stop-color="#48cb86"/><stop offset=".653" stop-color="#71cd64"/><stop offset=".716" stop-color="#9fc942"/><stop offset=".786" stop-color="#c8c129"/><stop offset=".857" stop-color="#eaba31"/><stop offset=".928" stop-color="#fec03a"/><stop offset="1" stop-color="#fbd32e"/></linearGradient>
<linearGradient id="cb29" x1="0" y1="0" x2="0" y2="1"><stop offset="0" stop-color="#3e26a8"/><stop offset=".025" stop-color="#3e26a8"/><stop offset=".065" stop-color="#4433cc"/><stop offset=".105" stop-color="#4743e7"/><stop offset=".154" stop-color="#4755f6"/><stop offset=".203" stop-color="#4367fd"/><stop offset=".251" stop-color="#347afd"/><stop offset=".3" stop-color="#2d8cf3"/><stop offset=".339" stop-color="#259ce7"/><stop offset=".379" stop-color="#1caadf"/><stop offset=".429" stop-color="#05b6ce"/><stop offset=".479" stop-color="#12beb9"/><stop offset=".534" stop-color="#2fc5a2"/><stop offset=".589" stop-color="#48cb86"/><stop offset=".651" stop-color="#71cd64"/><stop offset=".713" stop-color="#9fc942"/><stop offset=".783" stop-color="#c8c129"/><stop offset=".852" stop-color="#eaba31"/><stop offset=".923" stop-color="#fec13a"/><stop offset=".994" stop-color="#fad42e"/><stop offset="1" stop-color="#fad62d"/></linearGradient>
<linearGradient id="cb30" x1="0" y1="0" x2="0" y2="1"><stop offset="0" stop-color="#3e26a8"/><stop offset=".025" stop-color="#3e26a8"/><stop offset=".066" stop-color="#4433cc"/><stop offset=".107" stop-color="#4743e7"/><stop offset=".156" stop-color="#4755f6"/><stop offset=".205" stop-color="#4367fd"/><stop offset=".254" stop-color="#347afd"/><stop offset=".302" stop-color="#2d8cf3"/><stop offset=".34" stop-color="#259ce7"/><stop offset=".378" stop-color="#1caadf"/><stop offset=".426" stop-color="#05b6ce"/><stop offset=".475" stop-color="#12beb9"/><stop offset=".531" stop-color="#2fc5a2"/><stop offset=".588" stop-color="#48cb86"/><stop offset=".649" stop-color="#71cd64"/><stop offset=".711" stop-color="#9fc942"/><stop offset=".779" stop-color="#c8c129"/><stop offset=".848" stop-color="#eaba31"/><stop offset=".917" stop-color="#fec13a"/><stop offset=".987" stop-color="#fad42e"/><stop offset="1" stop-color="#f8d82c"/></linearGradient>
<linearGradient id="cb31" x1="0" y1="0" x2="0" y2="1"><stop offset="0" stop-color="#3e26a8"/><stop offset=".026" stop-color="#3e26a8"/><stop offset=".067" stop-color="#4433cc"/><stop offset=".109" stop-color="#4743e7"/><stop offset=".156" stop-color="#4755f6"/><stop offset=".204" stop-color="#4367fd"/><stop offset=".25" stop-color="#347afd"/><stop offset=".296" stop-color="#2d8cf3"/><stop offset=".338" stop-color="#259ce7"/><stop offset=".379" stop-color="#1caadf"/><stop offset=".427" stop-color="#05b6ce"/><stop offset=".475" stop-color="#12beb9"/><stop offset=".532" stop-color="#2fc5a2"/><stop offset=".588" stop-color="#48cb86"/><stop offset=".649" stop-color="#71cd64"/><stop offset=".71" stop-color="#9fc942"/><stop offset=".777" stop-color="#c8c129"/><stop offset=".844" stop-color="#eaba31"/><stop offset=".914" stop-color="#fec13a"/><stop offset=".984" stop-color="#fad42e"/><stop offset="1" stop-color="#f7db2a"/></linearGradient>
<linearGradient id="cb32" x1="0" y1="0" x2="0" y2="1"><stop offset="0" stop-color="#3e26a8"/><stop offset=".026" stop-color="#3e26a8"/><stop offset=".068" stop-color="#4433cc"/><stop offset=".11" stop-color="#4743e7"/><stop offset=".156" stop-color="#4755f6"/><stop offset=".203" stop-color="#4367fd"/><stop offset=".247" stop-color="#347afd"/><stop offset=".29" stop-color="#2d8cf3"/><stop offset=".335" stop-color="#259ce7"/><stop offset=".38" stop-color="#1caadf"/><stop offset=".428" stop-color="#05b6ce"/><stop offset=".476" stop-color="#12beb9"/><stop offset=".532" stop-color="#2fc5a2"/><stop offset=".589" stop-color="#48cb86"/><stop offset=".648" stop-color="#71cd64"/><stop offset=".708" stop-color="#9fc942"/><stop offset=".775" stop-color="#c8c129"/><stop offset=".841" stop-color="#eaba31"/><stop offset=".911" stop-color="#fec13a"/><stop offset=".98" stop-color="#fad42e"/><stop offset="1" stop-color="#f6de29"/></linearGradient>
<linearGradient id="cb33" x1="0" y1="0" x2="0" y2="1"><stop offset="0" stop-color="#3e26a8"/><stop offset=".027" stop-color="#3e26a8"/><stop offset=".069" stop-color="#4433cc"/><stop offset=".112" stop-color="#4743e7"/><stop offset=".157" stop-color="#4755f6"/><stop offset=".201" stop-color="#4367fd"/><stop offset=".244" stop-color="#347afd"/><stop offset=".287" stop-color="#2d8cf3"/><stop offset=".334" stop-color="#259ce7"/><stop offset=".381" stop-color="#1caadf"/><stop offset=".429" stop-color="#05b6ce"/><stop offset=".477" stop-color="#12beb9"/><stop offset=".533" stop-color="#2fc5a2"/><stop offset=".589" stop-color="#48cb86"/><stop offset=".648" stop-color="#71cd64"/><stop offset=".706" stop-color="#9fc942"/><stop offset=".772" stop-color="#c8c129"/><stop offset=".838" stop-color="#eaba31"/><stop offset=".908" stop-color="#fec13a"/><stop offset=".977" stop-color="#fad42e"/><stop offset="1" stop-color="#f6e028"/></linearGradient>
<linearGradient id="cb34" x1="0" y1="0" x2="0" y2="1"><stop offset="0" stop-color="#3e26a8"/><stop offset=".028" stop-color="#3e26a8"/><stop offset=".07" stop-color="#4433cc"/><stop offset=".113" stop-color="#4743e7"/><stop offset=".158" stop-color="#4755f6"/><stop offset=".203" stop-color="#4367fd"/><stop offset=".246" stop-color="#347afd"/><stop offset=".289" stop-color="#2d8cf3"/><stop offset=".336" stop-color="#259ce7"/><stop offset=".382" stop-color="#1caadf"/><stop offset=".43" stop-color="#05b6ce"/><stop offset=".477" stop-color="#12beb9"/><stop offset=".534" stop-color="#2fc5a2"/><stop offset=".59" stop-color="#48cb86"/><stop offset=".647" stop-color="#71cd64"/><stop offset=".705" stop-color="#9fc942"/><stop offset=".77" stop-color="#c8c129"/><stop offset=".835" stop-color="#eaba31"/><stop offset=".904" stop-color="#fec13a"/><stop offset=".974" stop-color="#fad42e"/><stop offset="1" stop-color="#f5e327"/></linearGradient>
<linearGradient id="cb35" x1="0" y1="0" x2="0" y2="1"><stop offset="0" stop-color="#3e26a8"/><stop offset=".028" stop-color="#3e26a8"/><stop offset=".073" stop-color="#4433cc"/><stop offset=".117" stop-color="#4743e7"/><stop offset=".162" stop-color="#4755f6"/><stop offset=".207" stop-color="#4367fd"/><stop offset=".249" stop-color="#347afd"/><stop offset=".292" stop-color="#2d8cf3"/><stop offset=".337" stop-color="#259ce7"/><stop offset=".383" stop-color="#1caadf"/><stop offset=".431" stop-color="#05b6ce"/><stop offset=".478" stop-color="#12beb9"/><stop offset=".534" stop-color="#2fc5a2"/><stop offset=".591" stop-color="#48cb86"/><stop offset=".647" stop-color="#71cd64"/><stop offset=".703" stop-color="#9fc942"/><stop offset=".767" stop-color="#c8c129"/><stop offset=".832" stop-color="#eaba31"/><stop offset=".901" stop-color="#fec13a"/><stop offset=".971" stop-color="#fad42e"/><stop offset="1" stop-color="#f5e526"/></linearGradient>
<linearGradient id="cb36" x1="0" y1="0" x2="0" y2="1"><stop offset="0" stop-color="#3e26a8"/><stop offset=".029" stop-color="#3e26a8"/><stop offset=".076" stop-color="#4433cc"/><stop offset=".124" stop-color="#4743e7"/><stop offset=".168" stop-color="#4755f6"/><stop offset=".211" stop-color="#4367fd"/><stop offset=".251" stop-color="#347afd"/><stop offset=".292" stop-color="#2d8cf3"/><stop offset=".338" stop-color="#259ce7"/><stop offset=".384" stop-color="#1caadf"/><stop offset=".431" stop-color="#05b6ce"/><stop offset=".479" stop-color="#12beb9"/><stop offset=".535" stop-color="#2fc5a2"/><stop offset=".591" stop-color="#48cb86"/><stop offset=".646" stop-color="#71cd64"/><stop offset=".701" stop-color="#9fc942"/><stop offset=".765" stop-color="#c8c129"/><stop offset=".828" stop-color="#eaba31"/><stop offset=".896" stop-color="#fec13a"/><stop offset=".963" stop-color="#fad42e"/><stop offset="1" stop-color="#f5e825"/></linearGradient>
<linearGradient id="cb37" x1="0" y1="0" x2="0" y2="1"><stop offset="0" stop-color="#3e26a8"/><stop offset=".046" stop-color="#3e26a8"/><stop offset=".089" stop-color="#4433cc"/><stop offset=".131" stop-color="#4743e7"/><stop offset=".172" stop-color="#4755f6"/><stop offset=".213" stop-color="#4367fd"/><stop offset=".253" stop-color="#347afd"/><stop offset=".292" stop-color="#2d8cf3"/><stop offset=".339" stop-color="#259ce7"/><stop offset=".385" stop-color="#1caadf"/><stop offset=".432" stop-color="#05b6ce"/><stop offset=".479" stop-color="#12beb9"/><stop offset=".533" stop-color="#2fc5a2"/><stop offset=".588" stop-color="#48cb86"/><stop offset=".643" stop-color="#71cd64"/><stop offset=".699" stop-color="#9fc942"/><stop offset=".761" stop-color="#c8c129"/><stop offset=".823" stop-color="#eaba31"/><stop offset=".888" stop-color="#fec13a"/><stop offset=".953" stop-color="#fad42e"/><stop offset=".976" stop-color="#f6df29"/><stop offset="1" stop-color="#f5ea23"/></linearGradient>
<linearGradient id="cb38" x1="0" y1="0" x2="0" y2="1"><stop offset="0" stop-color="#3e26a8"/><stop offset=".058" stop-color="#3e26a8"/><stop offset=".097" stop-color="#4433cc"/><stop offset=".137" stop-color="#4743e7"/><stop offset=".176" stop-color="#4755f6"/><stop offset=".216" stop-color="#4367fd"/><stop offset=".254" stop-color="#347afd"/><stop offset=".292" stop-color="#2d8cf3"/><stop offset=".339" stop-color="#259ce7"/><stop offset=".386" stop-color="#1caadf"/><stop offset=".433" stop-color="#05b6ce"/><stop offset=".479" stop-color="#12beb9"/><stop offset=".532" stop-color="#2fc5a2"/><stop offset=".585" stop-color="#48cb86"/><stop offset=".64" stop-color="#71cd64"/><stop offset=".695" stop-color="#9fc942"/><stop offset=".755" stop-color="#c8c129"/><stop offset=".816" stop-color="#eaba31"/><stop offset=".879" stop-color="#fec13a"/><stop offset=".942" stop-color="#fad42e"/><stop offset=".971" stop-color="#f6e128"/><stop offset="1" stop-color="#f5ed22"/></linearGradient>
<linearGradient id="cb39" x1="0" y1="0" x2="0" y2="1"><stop offset="0" stop-color="#3e26a8"/><stop offset=".063" stop-color="#3e26a8"/><stop offset=".102" stop-color="#4433cc"/><stop offset=".142" stop-color="#4743e7"/><stop offset=".18" stop-color="#4755f6"/><stop offset=".219" stop-color="#4367fd"/><stop offset=".257" stop-color="#347afd"/><stop offset=".295" stop-color="#2d8cf3"/><stop offset=".341" stop-color="#259ce7"/><stop offset=".387" stop-color="#1caadf"/><stop offset=".433" stop-color="#05b6ce"/><stop offset=".48" stop-color="#12beb9"/><stop offset=".531" stop-color="#2fc5a2"/><stop offset=".582" stop-color="#48cb86"/><stop offset=".637" stop-color="#71cd64"/><stop offset=".691" stop-color="#9fc942"/><stop offset=".75" stop-color="#c8c129"/><stop offset=".808" stop-color="#eaba31"/><stop offset=".869" stop-color="#fec13a"/><stop offset=".93" stop-color="#fad42e"/><stop offset=".965" stop-color="#f5e228"/><stop offset="1" stop-color="#f6ef20"/></linearGradient>
<linearGradient id="cb40" x1="0" y1="0" x2="0" y2="1"><stop offset="0" stop-color="#3e26a8"/><stop offset=".068" stop-color="#3e26a8"/><stop offset=".107" stop-color="#4433cc"/><stop offset=".146" stop-color="#4743e7"/><stop offset=".184" stop-color="#4755f6"/><stop offset=".222" stop-color="#4367fd"/><stop offset=".26" stop-color="#347afd"/><stop offset=".298" stop-color="#2d8cf3"/><stop offset=".343" stop-color="#259ce7"/><stop offset=".388" stop-color="#1caadf"/><stop offset=".434" stop-color="#05b6ce"/><stop offset=".48" stop-color="#12beb9"/><stop offset=".53" stop-color="#2fc5a2"/><stop offset=".581" stop-color="#48cb86"/><stop offset=".634" stop-color="#71cd64"/><stop offset=".687" stop-color="#9fc942"/><stop offset=".744" stop-color="#c8c129"/><stop offset=".8" stop-color="#eaba31"/><stop offset=".859" stop-color="#fec13a"/><stop offset=".918" stop-color="#fad42e"/><stop offset=".959" stop-color="#f5e327"/><stop offset="1" stop-color="#f6f21e"/></linearGradient>
<linearGradient id="cb41" x1="0" y1="0" x2="0" y2="1"><stop offset="0" stop-color="#3e26a8"/><stop offset=".073" stop-color="#3e26a8"/><stop offset=".112" stop-color="#4433cc"/><stop offset=".15" stop-color="#4743e7"/><stop offset=".188" stop-color="#4755f6"/><stop offset=".225" stop-color="#4367fd"/><stop offset=".263" stop-color="#347afd"/><stop offset=".302" stop-color="#2d8cf3"/><stop offset=".345" stop-color="#259ce7"/><stop offset=".389" stop-color="#1caadf"/><stop offset=".435" stop-color="#05b6ce"/><stop offset=".48" stop-color="#12beb9"/><stop offset=".53" stop-color="#2fc5a2"/><stop offset=".579" stop-color="#48cb86"/><stop offset=".631" stop-color="#71cd64"/><stop offset=".683" stop-color="#9fc942"/><stop offset=".738" stop-color="#c8c129"/><stop offset=".793" stop-color="#eaba31"/><stop offset=".85" stop-color="#fec13a"/><stop offset=".907" stop-color="#fad42e"/><stop offset=".954" stop-color="#f5e526"/><stop offset="1" stop-color="#f7f41c"/></linearGradient>
<linearGradient id="cb42" x1="0" y1="0" x2="0" y2="1"><stop offset="0" stop-color="#3e26a8"/><stop offset=".078" stop-color="#3e26a8"/><stop offset=".116" stop-color="#4433cc"/><stop offset=".154" stop-color="#4743e7"/><stop offset=".191" stop-color="#4755f6"/><stop offset=".229" stop-color="#4367fd"/><stop offset=".267" stop-color="#347afd"/><stop offset=".305" stop-color="#2d8cf3"/><stop offset=".348" stop-color="#259ce7"/><stop offset=".39" stop-color="#1caadf"/><stop offset=".436" stop-color="#05b6ce"/><stop offset=".481" stop-color="#12beb9"/><stop offset=".529" stop-color="#2fc5a2"/><stop offset=".577" stop-color="#48cb86"/><stop offset=".628" stop-color="#71cd64"/><stop offset=".678" stop-color="#9fc942"/><stop offset=".732" stop-color="#c8c129"/><stop offset=".786" stop-color="#eaba31"/><stop offset=".843" stop-color="#fec13a"/><stop offset=".901" stop-color="#fad42e"/><stop offset=".95" stop-color="#f5e626"/><stop offset="1" stop-color="#f8f719"/></linearGradient>
<linearGradient id="cb43" x1="0" y1="0" x2="0" y2="1"><stop offset="0" stop-color="#3e26a8"/><stop offset=".083" stop-color="#3e26a8"/><stop offset=".12" stop-color="#4433cc"/><stop offset=".158" stop-color="#4743e7"/><stop offset=".195" stop-color="#4755f6"/><stop offset=".232" stop-color="#4367fd"/><stop offset=".27" stop-color="#347afd"/><stop offset=".308" stop-color="#2d8cf3"/><stop offset=".35" stop-color="#259ce7"/><stop offset=".391" stop-color="#1caadf"/><stop offset=".436" stop-color="#05b6ce"/><stop offset=".481" stop-color="#12beb9"/><stop offset=".528" stop-color="#2fc5a2"/><stop offset=".576" stop-color="#48cb86"/><stop offset=".626" stop-color="#71cd64"/><stop offset=".676" stop-color="#9fc942"/><stop offset=".729" stop-color="#c8c129"/><stop offset=".781" stop-color="#eaba31"/><stop offset=".838" stop-color="#fec13a"/><stop offset=".895" stop-color="#fad42e"/><stop offset=".947" stop-color="#f5e725"/><stop offset="1" stop-color="#f9f916"/></linearGradient>
<linearGradient id="cb44" x1="0" y1="0" x2="0" y2="1"><stop offset="0" stop-color="#3e26a8"/><stop offset=".087" stop-color="#3e26a8"/><stop offset=".124" stop-color="#4433cc"/><stop offset=".161" stop-color="#4743e7"/><stop offset=".198" stop-color="#4755f6"/><stop offset=".235" stop-color="#4367fd"/><stop offset=".273" stop-color="#347afd"/><stop offset=".311" stop-color="#2d8cf3"/><stop offset=".352" stop-color="#259ce7"/><stop offset=".392" stop-color="#1caadf"/><stop offset=".437" stop-color="#05b6ce"/><stop offset=".482" stop-color="#12beb9"/><stop offset=".528" stop-color="#2fc5a2"/><stop offset=".574" stop-color="#48cb86"/><stop offset=".624" stop-color="#71cd64"/><stop offset=".674" stop-color="#9fc942"/><stop offset=".725" stop-color="#c8c129"/><stop offset=".777" stop-color="#eaba31"/><stop offset=".833" stop-color="#fec13a"/><stop offset=".889" stop-color="#fad42e"/><stop offset=".943" stop-color="#f5e825"/><stop offset=".998" stop-color="#f9fb15"/><stop offset="1" stop-color="#f9fb15"/></linearGradient>
<linearGradient id="cb45" x1="0" y1="0" x2="0" y2="1"><stop offset="0" stop-color="#3e26a8"/><stop offset=".091" stop-color="#3e26a8"/><stop offset=".128" stop-color="#4433cc"/><stop offset=".165" stop-color="#4743e7"/><stop offset=".202" stop-color="#4755f6"/><stop offset=".238" stop-color="#4367fd"/><stop offset=".276" stop-color="#347afd"/><stop offset=".314" stop-color="#2d8cf3"/><stop offset=".354" stop-color="#259ce7"/><stop offset=".393" stop-color="#1caadf"/><stop offset=".438" stop-color="#05b6ce"/><stop offset=".482" stop-color="#12beb9"/><stop offset=".527" stop-color="#2fc5a2"/><stop offset=".572" stop-color="#48cb86"/><stop offset=".622" stop-color="#71cd64"/><stop offset=".672" stop-color="#9fc942"/><stop offset=".722" stop-color="#c8c129"/><stop offset=".772" stop-color="#eaba31"/><stop offset=".827" stop-color="#fec13a"/><stop offset=".882" stop-color="#fad42e"/><stop offset=".936" stop-color="#f5e825"/><stop offset=".99" stop-color="#f9fb15"/><stop offset="1" stop-color="#f9fb15"/></linearGradient>
<linearGradient id="cb46" x1="0" y1="0" x2="0" y2="1"><stop offset="0" stop-color="#3e26a8"/><stop offset=".095" stop-color="#3e26a8"/><stop offset=".132" stop-color="#4433cc"/><stop offset=".169" stop-color="#4743e7"/><stop offset=".205" stop-color="#4755f6"/><stop offset=".242" stop-color="#4367fd"/><stop offset=".28" stop-color="#347afd"/><stop offset=".317" stop-color="#2d8cf3"/><stop offset=".356" stop-color="#259ce7"/><stop offset=".394" stop-color="#1caadf"/><stop offset=".438" stop-color="#05b6ce"/><stop offset=".482" stop-color="#12beb9"/><stop offset=".527" stop-color="#2fc5a2"/><stop offset=".571" stop-color="#48cb86"/><stop offset=".62" stop-color="#71cd64"/><stop offset=".67" stop-color="#9fc942"/><stop offset=".718" stop-color="#c8c129"/><stop offset=".767" stop-color="#eaba31"/><stop offset=".822" stop-color="#fec13a"/><stop offset=".876" stop-color="#fad42e"/><stop offset=".929" stop-color="#f5e825"/><stop offset=".982" stop-color="#f9fb15"/><stop offset="1" stop-color="#f9fb15"/></linearGradient>
<linearGradient id="cb47" x1="0" y1="0" x2="0" y2="1"><stop offset="0" stop-color="#3e26a8"/><stop offset=".099" stop-color="#3e26a8"/><stop offset=".136" stop-color="#4433cc"/><stop offset=".173" stop-color="#4743e7"/><stop offset=".209" stop-color="#4755f6"/><stop offset=".245" stop-color="#4367fd"/><stop offset=".283" stop-color="#347afd"/><stop offset=".321" stop-color="#2d8cf3"/><stop offset=".358" stop-color="#259ce7"/><stop offset=".395" stop-color="#1caadf"/><stop offset=".439" stop-color="#05b6ce"/><stop offset=".483" stop-color="#12beb9"/><stop offset=".526" stop-color="#2fc5a2"/><stop offset=".569" stop-color="#48cb86"/><stop offset=".618" stop-color="#71cd64"/><stop offset=".668" stop-color="#9fc942"/><stop offset=".715" stop-color="#c8c129"/><stop offset=".762" stop-color="#eaba31"/><stop offset=".816" stop-color="#fec13a"/><stop offset=".87" stop-color="#fad42e"/><stop offset=".922" stop-color="#f5e825"/><stop offset=".974" stop-color="#f9fb15"/><stop offset="1" stop-color="#f9fb15"/></linearGradient>
<linearGradient id="cb48" x1="0" y1="0" x2="0" y2="1"><stop offset="0" stop-color="#3e26a8"/><stop offset=".104" stop-color="#3e26a8"/><stop offset=".14" stop-color="#4433cc"/><stop offset=".177" stop-color="#4743e7"/><stop offset=".212" stop-color="#4755f6"/><stop offset=".248" stop-color="#4367fd"/><stop offset=".286" stop-color="#347afd"/><stop offset=".324" stop-color="#2d8cf3"/><stop offset=".36" stop-color="#259ce7"/><stop offset=".396" stop-color="#1caadf"/><stop offset=".44" stop-color="#05b6ce"/><stop offset=".484" stop-color="#12beb9"/><stop offset=".526" stop-color="#2fc5a2"/><stop offset=".567" stop-color="#48cb86"/><stop offset=".616" stop-color="#71cd64"/><stop offset=".666" stop-color="#9fc942"/><stop offset=".711" stop-color="#c8c129"/><stop offset=".757" stop-color="#eaba31"/><stop offset=".811" stop-color="#fec13a"/><stop offset=".864" stop-color="#fad42e"/><stop offset=".919" stop-color="#f5e825"/><stop offset=".974" stop-color="#f9fb15"/><stop offset="1" stop-color="#f9fb15"/></linearGradient>
<linearGradient id="cb49" x1="0" y1="0" x2="0" y2="1"><stop offset="0" stop-color="#3e26a8"/><stop offset=".102" stop-color="#3e26a8"/><stop offset=".14" stop-color="#4433cc"/><stop offset=".178" stop-color="#4743e7"/><stop offset=".213" stop-color="#4755f6"/><stop offset=".249" stop-color="#4367fd"/><stop offset=".287" stop-color="#347afd"/><stop offset=".325" stop-color="#2d8cf3"/><stop offset=".361" stop-color="#259ce7"/><stop offset=".397" stop-color="#1caadf"/><stop offset=".441" stop-color="#05b6ce"/><stop offset=".485" stop-color="#12beb9"/><stop offset=".525" stop-color="#2fc5a2"/><stop offset=".566" stop-color="#48cb86"/><stop offset=".615" stop-color="#71cd64"/><stop offset=".663" stop-color="#9fc942"/><stop offset=".708" stop-color="#c8c129"/><stop offset=".752" stop-color="#eaba31"/><stop offset=".808" stop-color="#fec13a"/><stop offset=".863" stop-color="#fad42e"/><stop offset=".919" stop-color="#f5e825"/><stop offset=".976" stop-color="#f9fb15"/><stop offset="1" stop-color="#f9fb15"/></linearGradient>
<linearGradient id="cb50" x1="0" y1="0" x2="0" y2="1"><stop offset="0" stop-color="#3e26a8"/><stop offset=".099" stop-color="#3e26a8"/><stop offset=".136" stop-color="#4433cc"/><stop offset=".174" stop-color="#4743e7"/><stop offset=".21" stop-color="#4755f6"/><stop offset=".246" stop-color="#4367fd"/><stop offset=".285" stop-color="#347afd"/><stop offset=".324" stop-color="#2d8cf3"/><stop offset=".361" stop-color="#259ce7"/><stop offset=".398" stop-color="#1caadf"/><stop offset=".442" stop-color="#05b6ce"/><stop offset=".486" stop-color="#12beb9"/><stop offset=".525" stop-color="#2fc5a2"/><stop offset=".564" stop-color="#48cb86"/><stop offset=".613" stop-color="#71cd64"/><stop offset=".661" stop-color="#9fc942"/><stop offset=".708" stop-color="#c8c129"/><stop offset=".754" stop-color="#eaba31"/><stop offset=".812" stop-color="#fec13a"/><stop offset=".869" stop-color="#fad42e"/><stop offset=".924" stop-color="#f5e825"/><stop offset=".979" stop-color="#f9fb15"/><stop offset="1" stop-color="#f9fb15"/></linearGradient>
<linearGradient id="cb51" x1="0" y1="0" x2="0" y2="1"><stop offset="0" stop-color="#3e26a8"/><stop offset=".091" stop-color="#3e26a8"/><stop offset=".131" stop-color="#4433cc"/><stop offset=".17" stop-color="#4743e7"/><stop offset=".207" stop-color="#4755f6"/><stop offset=".243" stop-color="#4367fd"/><stop offset=".283" stop-color="#347afd"/><stop offset=".323" stop-color="#2d8cf3"/><stop offset=".361" stop-color="#259ce7"/><stop offset=".399" stop-color="#1caadf"/><stop offset=".443" stop-color="#05b6ce"/><stop offset=".487" stop-color="#12beb9"/><stop offset=".524" stop-color="#2fc5a2"/><stop offset=".562" stop-color="#48cb86"/><stop offset=".611" stop-color="#71cd64"/><stop offset=".659" stop-color="#9fc942"/><stop offset=".707" stop-color="#c8c129"/><stop offset=".755" stop-color="#eaba31"/><stop offset=".814" stop-color="#fec13a"/><stop offset=".873" stop-color="#fad42e"/><stop offset=".926" stop-color="#f5e825"/><stop offset=".979" stop-color="#f9fb15"/><stop offset="1" stop-color="#f9fb15"/></linearGradient>
<linearGradient id="cb52" x1="0" y1="0" x2="0" y2="1"><stop offset="0" stop-color="#3e26a8"/><stop offset=".089" stop-color="#3e26a8"/><stop offset=".128" stop-color="#4433cc"/><stop offset=".166" stop-color="#4743e7"/><stop offset=".203" stop-color="#4755f6"/><stop offset=".24" stop-color="#4367fd"/><stop offset=".281" stop-color="#347afd"/><stop offset=".322" stop-color="#2d8cf3"/><stop offset=".361" stop-color="#259ce7"/><stop offset=".4" stop-color="#1caadf"/><stop offset=".444" stop-color="#05b6ce"/><stop offset=".488" stop-color="#12beb9"/><stop offset=".524" stop-color="#2fc5a2"/><stop offset=".56" stop-color="#48cb86"/><stop offset=".609" stop-color="#71cd64"/><stop offset=".657" stop-color="#9fc942"/><stop offset=".707" stop-color="#c8c129"/><stop offset=".756" stop-color="#eaba31"/><stop offset=".814" stop-color="#fec13a"/><stop offset=".872" stop-color="#fad42e"/><stop offset=".925" stop-color="#f5e825"/><stop offset=".978" stop-color="#f9fb15"/><stop offset="1" stop-color="#f9fb15"/></linearGradient>
<linearGradient id="cb53" x1="0" y1="0" x2="0" y2="1"><stop offset="0" stop-color="#3e26a8"/><stop offset=".09" stop-color="#3e26a8"/><stop offset=".128" stop-color="#4433cc"/><stop offset=".167" stop-color="#4743e7"/><stop offset=".203" stop-color="#4755f6"/><stop offset=".24" stop-color="#4367fd"/><stop offset=".281" stop-color="#347afd"/><stop offset=".321" stop-color="#2d8cf3"/><stop offset=".361" stop-color="#259ce7"/><stop offset=".4" stop-color="#1caadf"/><stop offset=".444" stop-color="#05b6ce"/><stop offset=".488" stop-color="#12beb9"/><stop offset=".523" stop-color="#2fc5a2"/><stop offset=".558" stop-color="#48cb86"/><stop offset=".607" stop-color="#71cd64"/><stop offset=".655" stop-color="#9fc942"/><stop offset=".706" stop-color="#c8c129"/><stop offset=".758" stop-color="#eaba31"/><stop offset=".814" stop-color="#fec13a"/><stop offset=".871" stop-color="#fad42e"/><stop offset=".924" stop-color="#f5e825"/><stop offset=".977" stop-color="#f9fb15"/><stop offset="1" stop-color="#f9fb15"/></linearGradient>
<linearGradient id="cb54" x1="0" y1="0" x2="0" y2="1"><stop offset="0" stop-color="#3e26a8"/><stop offset=".092" stop-color="#3e26a8"/><stop offset=".13" stop-color="#4433cc"/><stop offset=".167" stop-color="#4743e7"/><stop offset=".204" stop-color="#4755f6"/><stop offset=".24" stop-color="#4367fd"/><stop offset=".28" stop-color="#347afd"/><stop offset=".32" stop-color="#2d8cf3"/><stop offset=".36" stop-color="#259ce7"/><stop offset=".4" stop-color="#1caadf"/><stop offset=".444" stop-color="#05b6ce"/><stop offset=".487" stop-color="#12beb9"/><stop offset=".522" stop-color="#2fc5a2"/><stop offset=".556" stop-color="#48cb86"/><stop offset=".605" stop-color="#71cd64"/><stop offset=".653" stop-color="#9fc942"/><stop offset=".705" stop-color="#c8c129"/><stop offset=".757" stop-color="#eaba31"/><stop offset=".814" stop-color="#fec13a"/><stop offset=".871" stop-color="#fad42e"/><stop offset=".923" stop-color="#f5e825"/><stop offset=".976" stop-color="#f9fb15"/><stop offset="1" stop-color="#f9fb15"/></linearGradient>
<linearGradient id="cb55" x1="0" y1="0" x2="0" y2="1"><stop offset="0" stop-color="#3e26a8"/><stop offset=".094" stop-color="#3e26a8"/><stop offset=".131" stop-color="#4433cc"/><stop offset=".168" stop-color="#4743e7"/><stop offset=".204" stop-color="#4755f6"/><stop offset=".24" stop-color="#4367fd"/><stop offset=".28" stop-color="#347afd"/><stop offset=".319" stop-color="#2d8cf3"/><stop offset=".359" stop-color="#259ce7"/><stop offset=".4" stop-color="#1caadf"/><stop offset=".442" stop-color="#05b6ce"/><stop offset=".484" stop-color="#12beb9"/><stop offset=".519" stop-color="#2fc5a2"/><stop offset=".555" stop-color="#48cb86"/><stop offset=".603" stop-color="#71cd64"/><stop offset=".651" stop-color="#9fc942"/><stop offset=".702" stop-color="#c8c129"/><stop offset=".753" stop-color="#eaba31"/><stop offset=".811" stop-color="#fec13a"/><stop offset=".87" stop-color="#fad42e"/><stop offset=".922" stop-color="#f5e825"/><stop offset=".974" stop-color="#f9fb15"/><stop offset="1" stop-color="#f9fb15"/></linearGradient>
<linearGradient id="cb56" x1="0" y1="0" x2="0" y2="1"><stop offset="0" stop-color="#3e26a8"/><stop offset=".096" stop-color="#3e26a8"/><stop offset=".132" stop-color="#4433cc"/><stop offset=".169" stop-color="#4743e7"/><stop offset=".204" stop-color="#4755f6"/><stop offset=".24" stop-color="#4367fd"/><stop offset=".279" stop-color="#347afd"/><stop offset=".318" stop-color="#2d8cf3"/><stop offset=".358" stop-color="#259ce7"/><stop offset=".397" stop-color="#1caadf"/><stop offset=".439" stop-color="#05b6ce"/><stop offset=".481" stop-color="#12beb9"/><stop offset=".517" stop-color="#2fc5a2"/><stop offset=".553" stop-color="#48cb86"/><stop offset=".601" stop-color="#71cd64"/><stop offset=".649" stop-color="#9fc942"/><stop offset=".699" stop-color="#c8c129"/><stop offset=".749" stop-color="#eaba31"/><stop offset=".806" stop-color="#fec13a"/><stop offset=".864" stop-color="#fad42e"/><stop offset=".916" stop-color="#f5e825"/><stop offset=".969" stop-color="#f9fb15"/><stop offset="1" stop-color="#f9fb15"/></linearGradient>
<linearGradient id="cb57" x1="0" y1="0" x2="0" y2="1"><stop offset="0" stop-color="#3e26a8"/><stop offset=".097" stop-color="#3e26a8"/><stop offset=".133" stop-color="#4433cc"/><stop offset=".169" stop-color="#4743e7"/><stop offset=".205" stop-color="#4755f6"/><stop offset=".24" stop-color="#4367fd"/><stop offset=".279" stop-color="#347afd"/><stop offset=".317" stop-color="#2d8cf3"/><stop offset=".356" stop-color="#259ce7"/><stop offset=".395" stop-color="#1caadf"/><stop offset=".437" stop-color="#05b6ce"/><stop offset=".478" stop-color="#12beb9"/><stop offset=".515" stop-color="#2fc5a2"/><stop offset=".551" stop-color="#48cb86"/><stop offset=".599" stop-color="#71cd64"/><stop offset=".647" stop-color="#9fc942"/><stop offset=".696" stop-color="#c8c129"/><stop offset=".744" stop-color="#eaba31"/><stop offset=".8" stop-color="#fec13a"/><stop offset=".856" stop-color="#fad42e"/><stop offset=".909" stop-color="#f5e825"/><stop offset=".961" stop-color="#f9fb15"/><stop offset="1" stop-color="#f9fb15"/></linearGradient>
<linearGradient id="cb58" x1="0" y1="0" x2="0" y2="1"><stop offset="0" stop-color="#3e26a8"/><stop offset=".099" stop-color="#3e26a8"/><stop offset=".134" stop-color="#4433cc"/><stop offset=".17" stop-color="#4743e7"/><stop offset=".205" stop-color="#4755f6"/><stop offset=".24" stop-color="#4367fd"/><stop offset=".278" stop-color="#347afd"/><stop offset=".316" stop-color="#2d8cf3"/><stop offset=".354" stop-color="#259ce7"/><stop offset=".393" stop-color="#1caadf"/><stop offset=".434" stop-color="#05b6ce"/><stop offset=".476" stop-color="#12beb9"/><stop offset=".513" stop-color="#2fc5a2"/><stop offset=".549" stop-color="#48cb86"/><stop offset=".597" stop-color="#71cd64"/><stop offset=".645" stop-color="#9fc942"/><stop offset=".692" stop-color="#c8c129"/><stop offset=".74" stop-color="#eaba31"/><stop offset=".794" stop-color="#fec13a"/><stop offset=".848" stop-color="#fad42e"/><stop offset=".901" stop-color="#f5e825"/><stop offset=".954" stop-color="#f9fb15"/><stop offset="1" stop-color="#f9fb15"/></linearGradient>
<linearGradient id="cb59" x1="0" y1="0" x2="0" y2="1"><stop offset="0" stop-color="#3e26a8"/><stop offset=".101" stop-color="#3e26a8"/><stop offset=".136" stop-color="#4433cc"/><stop offset=".171" stop-color="#4743e7"/><stop offset=".205" stop-color="#4755f6"/><stop offset=".24" stop-color="#4367fd"/><stop offset=".277" stop-color="#347afd"/><stop offset=".315" stop-color="#2d8cf3"/><stop offset=".353" stop-color="#259ce7"/><stop offset=".39" stop-color="#1caadf"/><stop offset=".432" stop-color="#05b6ce"/><stop offset=".474" stop-color="#12beb9"/><stop offset=".51" stop-color="#2fc5a2"/><stop offset=".547" stop-color="#48cb86"/><stop offset=".595" stop-color="#71cd64"/><stop offset=".643" stop-color="#9fc942"/><stop offset=".689" stop-color="#c8c129"/><stop offset=".735" stop-color="#eaba31"/><stop offset=".788" stop-color="#fec13a"/><stop offset=".84" stop-color="#fad42e"/><stop offset=".893" stop-color="#f5e825"/><stop offset=".946" stop-color="#f9fb15"/><stop offset="1" stop-color="#f9fb15"/></linearGradient>
<linearGradient id="cb60" x1="0" y1="0" x2="0" y2="1"><stop offset="0" stop-color="#3e26a8"/><stop offset=".102" stop-color="#3e26a8"/><stop offset=".137" stop-color="#4433cc"/><stop offset=".171" stop-color="#4743e7"/><stop offset=".206" stop-color="#4755f6"/><stop offset=".24" stop-color="#4367fd"/><stop offset=".277" stop-color="#347afd"/><stop offset=".314" stop-color="#2d8cf3"/><stop offset=".351" stop-color="#259ce7"/><stop offset=".388" stop-color="#1caadf"/><stop offset=".43" stop-color="#05b6ce"/><stop offset=".472" stop-color="#12beb9"/><stop offset=".508" stop-color="#2fc5a2"/><stop offset=".545" stop-color="#48cb86"/><stop offset=".593" stop-color="#71cd64"/><stop offset=".641" stop-color="#9fc942"/><stop offset=".686" stop-color="#c8c129"/><stop offset=".731" stop-color="#eaba31"/><stop offset=".782" stop-color="#fec13a"/><stop offset=".832" stop-color="#fad42e"/><stop offset=".886" stop-color="#f5e825"/><stop offset=".939" stop-color="#f9fb15"/><stop offset="1" stop-color="#f9fb15"/></linearGradient>
<linearGradient id="cb61" x1="0" y1="0" x2="0" y2="1"><stop offset="0" stop-color="#3e26a8"/><stop offset=".104" stop-color="#3e26a8"/><stop offset=".138" stop-color="#4433cc"/><stop offset=".172" stop-color="#4743e7"/><stop offset=".206" stop-color="#4755f6"/><stop offset=".24" stop-color="#4367fd"/><stop offset=".277" stop-color="#347afd"/><stop offset=".313" stop-color="#2d8cf3"/><stop offset=".349" stop-color="#259ce7"/><stop offset=".386" stop-color="#1caadf"/><stop offset=".428" stop-color="#05b6ce"/><stop offset=".47" stop-color="#12beb9"/><stop offset=".507" stop-color="#2fc5a2"/><stop offset=".544" stop-color="#48cb86"/><stop offset=".592" stop-color="#71cd64"/><stop offset=".639" stop-color="#9fc942"/><stop offset=".684" stop-color="#c8c129"/><stop offset=".728" stop-color="#eaba31"/><stop offset=".777" stop-color="#fec13a"/><stop offset=".826" stop-color="#fad42e"/><stop offset=".88" stop-color="#f5e825"/><stop offset=".933" stop-color="#f9fb15"/><stop offset="1" stop-color="#f9fb15"/></linearGradient>
<linearGradient id="cc0" x1="0" y1="0" x2="0" y2="1"><stop offset="0" stop-color="#12b1d7"/><stop offset=".089" stop-color="#01b8c9"/><stop offset=".179" stop-color="#12beb9"/><stop offset="1" stop-color="#16bfb7"/></linearGradient>
<linearGradient id="cc1" x1="0" y1="0" x2="0" y2="1"><stop offset="0" stop-color="#2c90f0"/><stop offset=".025" stop-color="#249ee6"/><stop offset=".051" stop-color="#1caadf"/><stop offset=".124" stop-color="#05b6ce"/><stop offset=".198" stop-color="#12beb9"/><stop offset="1" stop-color="#1dc0b3"/></linearGradient>
<linearGradient id="cc2" x1="0" y1="0" x2="0" y2="1"><stop offset="0" stop-color="#2d8af5"/><stop offset=".013" stop-color="#2d8cf3"/><stop offset=".042" stop-color="#259ce7"/><stop offset=".072" stop-color="#1caadf"/><stop offset=".144" stop-color="#05b6ce"/><stop offset=".216" stop-color="#12beb9"/><stop offset="1" stop-color="#23c1af"/></linearGradient>
<linearGradient id="cc3" x1="0" y1="0" x2="0" y2="1"><stop offset="0" stop-color="#2d87f7"/><stop offset=".028" stop-color="#2d8cf3"/><stop offset=".058" stop-color="#259ce7"/><stop offset=".088" stop-color="#1caadf"/><stop offset=".161" stop-color="#05b6ce"/><stop offset=".234" stop-color="#12beb9"/><stop offset="1" stop-color="#28c2ab"/></linearGradient>
<linearGradient id="cc4" x1="0" y1="0" x2="0" y2="1"><stop offset="0" stop-color="#2e85f8"/><stop offset=".036" stop-color="#2d8cf3"/><stop offset=".069" stop-color="#259ce7"/><stop offset=".102" stop-color="#1caadf"/><stop offset=".177" stop-color="#05b6ce"/><stop offset=".252" stop-color="#12beb9"/><stop offset="1" stop-color="#2cc4a7"/></linearGradient>
<linearGradient id="cc5" x1="0" y1="0" x2="0" y2="1"><stop offset="0" stop-color="#2e83f9"/><stop offset=".044" stop-color="#2d8cf3"/><stop offset=".08" stop-color="#259ce7"/><stop offset=".117" stop-color="#1caadf"/><stop offset=".193" stop-color="#05b6ce"/><stop offset=".27" stop-color="#12beb9"/><stop offset="1" stop-color="#2fc5a2"/></linearGradient>
<linearGradient id="cc6" x1="0" y1="0" x2="0" y2="1"><stop offset="0" stop-color="#2f80fa"/><stop offset=".051" stop-color="#2d8cf3"/><stop offset=".091" stop-color="#259ce7"/><stop offset=".131" stop-color="#1caadf"/><stop offset=".209" stop-color="#05b6ce"/><stop offset=".288" stop-color="#12beb9"/><stop offset=".644" stop-color="#27c2ac"/><stop offset="1" stop-color="#33c69e"/></linearGradient>
<linearGradient id="cc7" x1="0" y1="0" x2="0" y2="1"><stop offset="0" stop-color="#317efb"/><stop offset=".058" stop-color="#2d8cf3"/><stop offset=".098" stop-color="#259ce7"/><stop offset=".138" stop-color="#1caadf"/><stop offset=".219" stop-color="#05b6ce"/><stop offset=".301" stop-color="#12beb9"/><stop offset=".65" stop-color="#29c3aa"/><stop offset="1" stop-color="#36c899"/></linearGradient>
<linearGradient id="cc8" x1="0" y1="0" x2="0" y2="1"><stop offset="0" stop-color="#327bfc"/><stop offset=".063" stop-color="#2d8cf3"/><stop offset=".104" stop-color="#259ce7"/><stop offset=".145" stop-color="#1caadf"/><stop offset=".229" stop-color="#05b6ce"/><stop offset=".312" stop-color="#12beb9"/><stop offset=".656" stop-color="#2bc3a8"/><stop offset="1" stop-color="#3ac994"/></linearGradient>
<linearGradient id="cc9" x1="0" y1="0" x2="0" y2="1"><stop offset="0" stop-color="#3579fd"/><stop offset=".034" stop-color="#2f83f9"/><stop offset=".068" stop-color="#2d8cf3"/><stop offset=".11" stop-color="#259ce7"/><stop offset=".152" stop-color="#1caadf"/><stop offset=".237" stop-color="#05b6ce"/><stop offset=".323" stop-color="#12beb9"/><stop offset=".661" stop-color="#2dc4a6"/><stop offset="1" stop-color="#3eca8f"/></linearGradient>
<linearGradient id="cc10" x1="0" y1="0" x2="0" y2="1"><stop offset="0" stop-color="#3876fe"/><stop offset=".036" stop-color="#2f81fa"/><stop offset=".072" stop-color="#2d8cf3"/><stop offset=".114" stop-color="#259ce7"/><stop offset=".156" stop-color="#1caadf"/><stop offset=".245" stop-color="#05b6ce"/><stop offset=".334" stop-color="#12beb9"/><stop offset=".667" stop-color="#2fc5a3"/><stop offset="1" stop-color="#44cb89"/></linearGradient>
<linearGradient id="cc11" x1="0" y1="0" x2="0" y2="1"><stop offset="0" stop-color="#3a73fe"/><stop offset=".037" stop-color="#3080fa"/><stop offset=".075" stop-color="#2d8cf3"/><stop offset=".118" stop-color="#259ce7"/><stop offset=".161" stop-color="#1caadf"/><stop offset=".253" stop-color="#05b6ce"/><stop offset=".345" stop-color="#12beb9"/><stop offset=".67" stop-color="#2fc5a2"/><stop offset=".995" stop-color="#48cb86"/><stop offset="1" stop-color="#49cb85"/></linearGradient>
<linearGradient id="cc12" x1="0" y1="0" x2="0" y2="1"><stop offset="0" stop-color="#3d71ff"/><stop offset=".039" stop-color="#307ffb"/><stop offset=".077" stop-color="#2d8cf3"/><stop offset=".121" stop-color="#259ce7"/><stop offset=".166" stop-color="#1caadf"/><stop offset=".258" stop-color="#05b6ce"/><stop offset=".351" stop-color="#12beb9"/><stop offset=".667" stop-color="#2fc5a2"/><stop offset=".983" stop-color="#48cb86"/><stop offset="1" stop-color="#4ecc82"/></linearGradient>
<linearGradient id="cc13" x1="0" y1="0" x2="0" y2="1"><stop offset="0" stop-color="#3f6eff"/><stop offset=".04" stop-color="#317efb"/><stop offset=".08" stop-color="#2d8cf3"/><stop offset=".125" stop-color="#259ce7"/><stop offset=".17" stop-color="#1caadf"/><stop offset=".263" stop-color="#05b6ce"/><stop offset=".357" stop-color="#12beb9"/><stop offset=".664" stop-color="#2fc5a2"/><stop offset=".972" stop-color="#48cb86"/><stop offset="1" stop-color="#52cc7e"/></linearGradient>
<linearGradient id="cc14" x1="0" y1="0" x2="0" y2="1"><stop offset="0" stop-color="#416bfe"/><stop offset=".042" stop-color="#327cfc"/><stop offset=".083" stop-color="#2d8cf3"/><stop offset=".129" stop-color="#259ce7"/><stop offset=".174" stop-color="#1caadf"/><stop offset=".269" stop-color="#05b6ce"/><stop offset=".363" stop-color="#12beb9"/><stop offset=".662" stop-color="#2fc5a2"/><stop offset=".961" stop-color="#48cb86"/><stop offset="1" stop-color="#56cc7b"/></linearGradient>
<linearGradient id="cc15" x1="0" y1="0" x2="0" y2="1"><stop offset="0" stop-color="#4369fe"/><stop offset=".043" stop-color="#337bfc"/><stop offset=".087" stop-color="#2d8cf3"/><stop offset=".132" stop-color="#259ce7"/><stop offset=".178" stop-color="#1caadf"/><stop offset=".274" stop-color="#05b6ce"/><stop offset=".369" stop-color="#12beb9"/><stop offset=".66" stop-color="#2fc5a2"/><stop offset=".95" stop-color="#48cb86"/><stop offset="1" stop-color="#5acc77"/></linearGradient>
<linearGradient id="cc16" x1="0" y1="0" x2="0" y2="1"><stop offset="0" stop-color="#4466fd"/><stop offset=".001" stop-color="#4367fd"/><stop offset=".045" stop-color="#347afd"/><stop offset=".09" stop-color="#2d8cf3"/><stop offset=".136" stop-color="#259ce7"/><stop offset=".183" stop-color="#1caadf"/><stop offset=".279" stop-color="#05b6ce"/><stop offset=".375" stop-color="#12beb9"/><stop offset=".657" stop-color="#2fc5a2"/><stop offset=".94" stop-color="#48cb86"/><stop offset="1" stop-color="#5ecd74"/></linearGradient>
<linearGradient id="cc17" x1="0" y1="0" x2="0" y2="1"><stop offset="0" stop-color="#4465fd"/><stop offset=".005" stop-color="#4367fd"/><stop offset=".049" stop-color="#347afd"/><stop offset=".093" stop-color="#2d8cf3"/><stop offset=".14" stop-color="#259ce7"/><stop offset=".187" stop-color="#1caadf"/><stop offset=".282" stop-color="#05b6ce"/><stop offset=".378" stop-color="#12beb9"/><stop offset=".654" stop-color="#2fc5a2"/><stop offset=".931" stop-color="#48cb86"/><stop offset="1" stop-color="#62cd70"/></linearGradient>
<linearGradient id="cc18" x1="0" y1="0" x2="0" y2="1"><stop offset="0" stop-color="#4563fc"/><stop offset=".009" stop-color="#4367fd"/><stop offset=".053" stop-color="#347afd"/><stop offset=".096" stop-color="#2d8cf3"/><stop offset=".144" stop-color="#259ce7"/><stop offset=".191" stop-color="#1caadf"/><stop offset=".286" stop-color="#05b6ce"/><stop offset=".381" stop-color="#12beb9"/><stop offset=".651" stop-color="#2fc5a2"/><stop offset=".92" stop-color="#48cb86"/><stop offset="1" stop-color="#67cd6d"/></linearGradient>
<linearGradient id="cc19" x1="0" y1="0" x2="0" y2="1"><stop offset="0" stop-color="#4561fc"/><stop offset=".013" stop-color="#4367fd"/><stop offset=".056" stop-color="#347afd"/><stop offset=".099" stop-color="#2d8cf3"/><stop offset=".147" stop-color="#259ce7"/><stop offset=".195" stop-color="#1caadf"/><stop offset=".29" stop-color="#05b6ce"/><stop offset=".384" stop-color="#12beb9"/><stop offset=".647" stop-color="#2fc5a2"/><stop offset=".91" stop-color="#48cb86"/><stop offset="1" stop-color="#6bcd69"/></linearGradient>
<linearGradient id="cc20" x1="0" y1="0" x2="0" y2="1"><stop offset="0" stop-color="#465ffb"/><stop offset=".017" stop-color="#4367fd"/><stop offset=".06" stop-color="#347afd"/><stop offset=".103" stop-color="#2d8cf3"/><stop offset=".151" stop-color="#259ce7"/><stop offset=".199" stop-color="#1caadf"/><stop offset=".293" stop-color="#05b6ce"/><stop offset=".388" stop-color="#12beb9"/><stop offset=".643" stop-color="#2fc5a2"/><stop offset=".899" stop-color="#48cb86"/><stop offset="1" stop-color="#70cd65"/></linearGradient>
<linearGradient id="cc21" x1="0" y1="0" x2="0" y2="1"><stop offset="0" stop-color="#465efb"/><stop offset=".021" stop-color="#4367fd"/><stop offset=".064" stop-color="#347afd"/><stop offset=".106" stop-color="#2d8cf3"/><stop offset=".155" stop-color="#259ce7"/><stop offset=".204" stop-color="#1caadf"/><stop offset=".297" stop-color="#05b6ce"/><stop offset=".391" stop-color="#12beb9"/><stop offset=".641" stop-color="#2fc5a2"/><stop offset=".891" stop-color="#48cb86"/><stop offset=".945" stop-color="#5dcc75"/><stop offset="1" stop-color="#74cc62"/></linearGradient>
<linearGradient id="cc22" x1="0" y1="0" x2="0" y2="1"><stop offset="0" stop-color="#475cfa"/><stop offset=".023" stop-color="#4367fd"/><stop offset=".067" stop-color="#347afd"/><stop offset=".11" stop-color="#2d8cf3"/><stop offset=".159" stop-color="#259ce7"/><stop offset=".208" stop-color="#1caadf"/><stop offset=".301" stop-color="#05b6ce"/><stop offset=".394" stop-color="#12beb9"/><stop offset=".638" stop-color="#2fc5a2"/><stop offset=".882" stop-color="#48cb86"/><stop offset=".941" stop-color="#5fcd73"/><stop offset="1" stop-color="#79cc5e"/></linearGradient>
<linearGradient id="cc23" x1="0" y1="0" x2="0" y2="1"><stop offset="0" stop-color="#475af9"/><stop offset=".025" stop-color="#4367fd"/><stop offset=".069" stop-color="#347afd"/><stop offset=".113" stop-color="#2d8cf3"/><stop offset=".163" stop-color="#259ce7"/><stop offset=".213" stop-color="#1caadf"/><stop offset=".305" stop-color="#05b6ce"/><stop offset=".397" stop-color="#12beb9"/><stop offset=".635" stop-color="#2fc5a2"/><stop offset=".874" stop-color="#48cb86"/><stop offset=".937" stop-color="#61cd71"/><stop offset="1" stop-color="#7ecc5b"/></linearGradient>
<linearGradient id="cc24" x1="0" y1="0" x2="0" y2="1"><stop offset="0" stop-color="#4758f8"/><stop offset=".026" stop-color="#4367fd"/><stop offset=".071" stop-color="#347afd"/><stop offset=".117" stop-color="#2d8cf3"/><stop offset=".167" stop-color="#259ce7"/><stop offset=".217" stop-color="#1caadf"/><stop offset=".308" stop-color="#05b6ce"/><stop offset=".399" stop-color="#12beb9"/><stop offset=".632" stop-color="#2fc5a2"/><stop offset=".865" stop-color="#48cb86"/><stop offset=".933" stop-color="#63cd6f"/><stop offset="1" stop-color="#83cc57"/></linearGradient>
<linearGradient id="cc25" x1="0" y1="0" x2="0" y2="1"><stop offset="0" stop-color="#4757f7"/><stop offset=".03" stop-color="#4367fd"/><stop offset=".075" stop-color="#347afd"/><stop offset=".121" stop-color="#2d8cf3"/><stop offset=".171" stop-color="#259ce7"/><stop offset=".222" stop-color="#1caadf"/><stop offset=".312" stop-color="#05b6ce"/><stop offset=".401" stop-color="#12beb9"/><stop offset=".629" stop-color="#2fc5a2"/><stop offset=".857" stop-color="#48cb86"/><stop offset=".928" stop-color="#66cd6d"/><stop offset="1" stop-color="#88cb53"/></linearGradient>
<linearGradient id="cc26" x1="0" y1="0" x2="0" y2="1"><stop offset="0" stop-color="#4755f6"/><stop offset=".034" stop-color="#4367fd"/><stop offset=".079" stop-color="#347afd"/><stop offset=".124" stop-color="#2d8cf3"/><stop offset=".175" stop-color="#259ce7"/><stop offset=".226" stop-color="#1caadf"/><stop offset=".315" stop-color="#05b6ce"/><stop offset=".404" stop-color="#12beb9"/><stop offset=".626" stop-color="#2fc5a2"/><stop offset=".849" stop-color="#48cb86"/><stop offset=".924" stop-color="#68cd6c"/><stop offset="1" stop-color="#8ccb50"/></linearGradient>
<linearGradient id="cc27" x1="0" y1="0" x2="0" y2="1"><stop offset="0" stop-color="#4853f5"/><stop offset=".019" stop-color="#465dfa"/><stop offset=".039" stop-color="#4367fd"/><stop offset=".083" stop-color="#347afd"/><stop offset=".128" stop-color="#2d8cf3"/><stop offset=".179" stop-color="#259ce7"/><stop offset=".231" stop-color="#1caadf"/><stop offset=".319" stop-color="#05b6ce"/><stop offset=".407" stop-color="#12beb9"/><stop offset=".623" stop-color="#2fc5a2"/><stop offset=".84" stop-color="#48cb86"/><stop offset=".92" stop-color="#6acd6a"/><stop offset="1" stop-color="#91ca4c"/></linearGradient>
<linearGradient id="cc28" x1="0" y1="0" x2="0" y2="1"><stop offset="0" stop-color="#4852f4"/><stop offset=".022" stop-color="#475cfa"/><stop offset=".043" stop-color="#4367fd"/><stop offset=".087" stop-color="#347afd"/><stop offset=".132" stop-color="#2d8cf3"/><stop offset=".183" stop-color="#259ce7"/><stop offset=".235" stop-color="#1caadf"/><stop offset=".322" stop-color="#05b6ce"/><stop offset=".409" stop-color="#12beb9"/><stop offset=".62" stop-color="#2fc5a2"/><stop offset=".832" stop-color="#48cb86"/><stop offset=".916" stop-color="#6ccd68"/><stop offset="1" stop-color="#96ca49"/></linearGradient>
<linearGradient id="cc29" x1="0" y1="0" x2="0" y2="1"><stop offset="0" stop-color="#4850f2"/><stop offset=".024" stop-color="#475bf9"/><stop offset=".048" stop-color="#4367fd"/><stop offset=".092" stop-color="#347afd"/><stop offset=".135" stop-color="#2d8cf3"/><stop offset=".188" stop-color="#259ce7"/><stop offset=".24" stop-color="#1caadf"/><stop offset=".325" stop-color="#05b6ce"/><stop offset=".41" stop-color="#12beb9"/><stop offset=".617" stop-color="#2fc5a2"/><stop offset=".823" stop-color="#48cb86"/><stop offset=".912" stop-color="#6fcd66"/><stop offset="1" stop-color="#9ac945"/></linearGradient>
<linearGradient id="cc30" x1="0" y1="0" x2="0" y2="1"><stop offset="0" stop-color="#484ef1"/><stop offset=".026" stop-color="#475af9"/><stop offset=".052" stop-color="#4367fd"/><stop offset=".096" stop-color="#347afd"/><stop offset=".139" stop-color="#2d8cf3"/><stop offset=".192" stop-color="#259ce7"/><stop offset=".244" stop-color="#1caadf"/><stop offset=".328" stop-color="#05b6ce"/><stop offset=".413" stop-color="#12beb9"/><stop offset=".614" stop-color="#2fc5a2"/><stop offset=".815" stop-color="#48cb86"/><stop offset=".908" stop-color="#71cd64"/><stop offset="1" stop-color="#9fc942"/></linearGradient>
<linearGradient id="cc31" x1="0" y1="0" x2="0" y2="1"><stop offset="0" stop-color="#484cf0"/><stop offset=".027" stop-color="#4759f9"/><stop offset=".054" stop-color="#4367fd"/><stop offset=".098" stop-color="#347afd"/><stop offset=".142" stop-color="#2d8cf3"/><stop offset=".194" stop-color="#259ce7"/><stop offset=".247" stop-color="#1caadf"/><stop offset=".331" stop-color="#05b6ce"/><stop offset=".415" stop-color="#12beb9"/><stop offset=".611" stop-color="#2fc5a2"/><stop offset=".807" stop-color="#48cb86"/><stop offset=".9" stop-color="#71cd64"/><stop offset=".993" stop-color="#9fc942"/><stop offset="1" stop-color="#a4c83e"/></linearGradient>
<linearGradient id="cc32" x1="0" y1="0" x2="0" y2="1"><stop offset="0" stop-color="#484bee"/><stop offset=".028" stop-color="#4759f8"/><stop offset=".056" stop-color="#4367fd"/><stop offset=".1" stop-color="#347afd"/><stop offset=".144" stop-color="#2d8cf3"/><stop offset=".197" stop-color="#259ce7"/><stop offset=".25" stop-color="#1caadf"/><stop offset=".333" stop-color="#05b6ce"/><stop offset=".417" stop-color="#12beb9"/><stop offset=".608" stop-color="#2fc5a2"/><stop offset=".799" stop-color="#48cb86"/><stop offset=".892" stop-color="#71cd64"/><stop offset=".985" stop-color="#9fc942"/><stop offset="1" stop-color="#aac73a"/></linearGradient>
<linearGradient id="cc33" x1="0" y1="0" x2="0" y2="1"><stop offset="0" stop-color="#4849ed"/><stop offset=".029" stop-color="#4758f8"/><stop offset=".058" stop-color="#4367fd"/><stop offset=".102" stop-color="#347afd"/><stop offset=".147" stop-color="#2d8cf3"/><stop offset=".2" stop-color="#259ce7"/><stop offset=".253" stop-color="#1caadf"/><stop offset=".336" stop-color="#05b6ce"/><stop offset=".418" stop-color="#12beb9"/><stop offset=".605" stop-color="#2fc5a2"/><stop offset=".791" stop-color="#48cb86"/><stop offset=".885" stop-color="#71cd64"/><stop offset=".978" stop-color="#9fc942"/><stop offset="1" stop-color="#b0c636"/></linearGradient>
<linearGradient id="cc34" x1="0" y1="0" x2="0" y2="1"><stop offset="0" stop-color="#4747eb"/><stop offset=".03" stop-color="#4757f7"/><stop offset=".06" stop-color="#4367fd"/><stop offset=".105" stop-color="#347afd"/><stop offset=".149" stop-color="#2d8cf3"/><stop offset=".204" stop-color="#259ce7"/><stop offset=".258" stop-color="#1caadf"/><stop offset=".339" stop-color="#05b6ce"/><stop offset=".42" stop-color="#12beb9"/><stop offset=".602" stop-color="#2fc5a2"/><stop offset=".783" stop-color="#48cb86"/><stop offset=".877" stop-color="#71cd64"/><stop offset=".971" stop-color="#9fc942"/><stop offset="1" stop-color="#b5c533"/></linearGradient>
<linearGradient id="cc35" x1="0" y1="0" x2="0" y2="1"><stop offset="0" stop-color="#4745e9"/><stop offset=".031" stop-color="#4756f7"/><stop offset=".062" stop-color="#4367fd"/><stop offset=".108" stop-color="#347afd"/><stop offset=".154" stop-color="#2d8cf3"/><stop offset=".208" stop-color="#259ce7"/><stop offset=".263" stop-color="#1caadf"/><stop offset=".343" stop-color="#05b6ce"/><stop offset=".422" stop-color="#12beb9"/><stop offset=".599" stop-color="#2fc5a2"/><stop offset=".776" stop-color="#48cb86"/><stop offset=".869" stop-color="#71cd64"/><stop offset=".963" stop-color="#9fc942"/><stop offset="1" stop-color="#bbc430"/></linearGradient>
<linearGradient id="cc36" x1="0" y1="0" x2="0" y2="1"><stop offset="0" stop-color="#4744e8"/><stop offset=".032" stop-color="#4755f6"/><stop offset=".064" stop-color="#4367fd"/><stop offset=".111" stop-color="#347afd"/><stop offset=".158" stop-color="#2d8cf3"/><stop offset=".213" stop-color="#259ce7"/><stop offset=".267" stop-color="#1caadf"/><stop offset=".346" stop-color="#05b6ce"/><stop offset=".424" stop-color="#12beb9"/><stop offset=".596" stop-color="#2fc5a2"/><stop offset=".768" stop-color="#48cb86"/><stop offset=".861" stop-color="#71cd64"/><stop offset=".955" stop-color="#9fc942"/><stop offset="1" stop-color="#c0c32d"/></linearGradient>
<linearGradient id="cc37" x1="0" y1="0" x2="0" y2="1"><stop offset="0" stop-color="#4742e6"/><stop offset=".005" stop-color="#4743e7"/><stop offset=".04" stop-color="#4755f6"/><stop offset=".075" stop-color="#4367fd"/><stop offset=".119" stop-color="#347afd"/><stop offset=".163" stop-color="#2d8cf3"/><stop offset=".216" stop-color="#259ce7"/><stop offset=".269" stop-color="#1caadf"/><stop offset=".347" stop-color="#05b6ce"/><stop offset=".426" stop-color="#12beb9"/><stop offset=".593" stop-color="#2fc5a2"/><stop offset=".76" stop-color="#48cb86"/><stop offset=".853" stop-color="#71cd64"/><stop offset=".946" stop-color="#9fc942"/><stop offset="1" stop-color="#c5c22a"/></linearGradient>
<linearGradient id="cc38" x1="0" y1="0" x2="0" y2="1"><stop offset="0" stop-color="#4740e4"/><stop offset=".012" stop-color="#4743e7"/><stop offset=".049" stop-color="#4755f6"/><stop offset=".086" stop-color="#4367fd"/><stop offset=".126" stop-color="#347afd"/><stop offset=".165" stop-color="#2d8cf3"/><stop offset=".218" stop-color="#259ce7"/><stop offset=".27" stop-color="#1caadf"/><stop offset=".349" stop-color="#05b6ce"/><stop offset=".428" stop-color="#12beb9"/><stop offset=".59" stop-color="#2fc5a2"/><stop offset=".752" stop-color="#48cb86"/><stop offset=".845" stop-color="#71cd64"/><stop offset=".938" stop-color="#9fc942"/><stop offset=".969" stop-color="#b5c533"/><stop offset="1" stop-color="#cac129"/></linearGradient>
<linearGradient id="cc39" x1="0" y1="0" x2="0" y2="1"><stop offset="0" stop-color="#473ee2"/><stop offset=".019" stop-color="#4743e7"/><stop offset=".054" stop-color="#4755f6"/><stop offset=".09" stop-color="#4367fd"/><stop offset=".129" stop-color="#347afd"/><stop offset=".168" stop-color="#2d8cf3"/><stop offset=".22" stop-color="#259ce7"/><stop offset=".272" stop-color="#1caadf"/><stop offset=".351" stop-color="#05b6ce"/><stop offset=".43" stop-color="#12beb9"/><stop offset=".587" stop-color="#2fc5a2"/><stop offset=".744" stop-color="#48cb86"/><stop offset=".836" stop-color="#71cd64"/><stop offset=".928" stop-color="#9fc942"/><stop offset=".964" stop-color="#b8c431"/><stop offset="1" stop-color="#cfc028"/></linearGradient>
<linearGradient id="cc40" x1="0" y1="0" x2="0" y2="1"><stop offset="0" stop-color="#463ddf"/><stop offset=".022" stop-color="#4743e7"/><stop offset=".058" stop-color="#4755f6"/><stop offset=".095" stop-color="#4367fd"/><stop offset=".133" stop-color="#347afd"/><stop offset=".171" stop-color="#2d8cf3"/><stop offset=".223" stop-color="#259ce7"/><stop offset=".275" stop-color="#1caadf"/><stop offset=".353" stop-color="#05b6ce"/><stop offset=".431" stop-color="#12beb9"/><stop offset=".584" stop-color="#2fc5a2"/><stop offset=".736" stop-color="#48cb86"/><stop offset=".828" stop-color="#71cd64"/><stop offset=".919" stop-color="#9fc942"/><stop offset=".959" stop-color="#bbc430"/><stop offset="1" stop-color="#d4bf28"/></linearGradient>
<linearGradient id="cc41" x1="0" y1="0" x2="0" y2="1"><stop offset="0" stop-color="#463bdd"/><stop offset=".025" stop-color="#4743e7"/><stop offset=".062" stop-color="#4755f6"/><stop offset=".099" stop-color="#4367fd"/><stop offset=".137" stop-color="#347afd"/><stop offset=".174" stop-color="#2d8cf3"/><stop offset=".226" stop-color="#259ce7"/><stop offset=".278" stop-color="#1caadf"/><stop offset=".356" stop-color="#05b6ce"/><stop offset=".433" stop-color="#12beb9"/><stop offset=".581" stop-color="#2fc5a2"/><stop offset=".728" stop-color="#48cb86"/><stop offset=".819" stop-color="#71cd64"/><stop offset=".911" stop-color="#9fc942"/><stop offset=".955" stop-color="#bdc32e"/><stop offset="1" stop-color="#d8be28"/></linearGradient>
<linearGradient id="cc42" x1="0" y1="0" x2="0" y2="1"><stop offset="0" stop-color="#463ada"/><stop offset=".03" stop-color="#4743e7"/><stop offset=".067" stop-color="#4755f6"/><stop offset=".104" stop-color="#4367fd"/><stop offset=".141" stop-color="#347afd"/><stop offset=".178" stop-color="#2d8cf3"/><stop offset=".23" stop-color="#259ce7"/><stop offset=".281" stop-color="#1caadf"/><stop offset=".358" stop-color="#05b6ce"/><stop offset=".435" stop-color="#12beb9"/><stop offset=".578" stop-color="#2fc5a2"/><stop offset=".721" stop-color="#48cb86"/><stop offset=".813" stop-color="#71cd64"/><stop offset=".906" stop-color="#9fc942"/><stop offset=".953" stop-color="#c0c32d"/><stop offset="1" stop-color="#ddbd29"/></linearGradient>
<linearGradient id="cc43" x1="0" y1="0" x2="0" y2="1"><stop offset="0" stop-color="#4538d8"/><stop offset=".036" stop-color="#4743e7"/><stop offset=".072" stop-color="#4755f6"/><stop offset=".108" stop-color="#4367fd"/><stop offset=".145" stop-color="#347afd"/><stop offset=".181" stop-color="#2d8cf3"/><stop offset=".233" stop-color="#259ce7"/><stop offset=".284" stop-color="#1caadf"/><stop offset=".361" stop-color="#05b6ce"/><stop offset=".437" stop-color="#12beb9"/><stop offset=".576" stop-color="#2fc5a2"/><stop offset=".714" stop-color="#48cb86"/><stop offset=".807" stop-color="#71cd64"/><stop offset=".901" stop-color="#9fc942"/><stop offset=".95" stop-color="#c3c22b"/><stop offset="1" stop-color="#e1bc2b"/></linearGradient>
<linearGradient id="cc44" x1="0" y1="0" x2="0" y2="1"><stop offset="0" stop-color="#4537d5"/><stop offset=".042" stop-color="#4743e7"/><stop offset=".077" stop-color="#4755f6"/><stop offset=".113" stop-color="#4367fd"/><stop offset=".148" stop-color="#347afd"/><stop offset=".184" stop-color="#2d8cf3"/><stop offset=".236" stop-color="#259ce7"/><stop offset=".287" stop-color="#1caadf"/><stop offset=".363" stop-color="#05b6ce"/><stop offset=".439" stop-color="#12beb9"/><stop offset=".573" stop-color="#2fc5a2"/><stop offset=".707" stop-color="#48cb86"/><stop offset=".801" stop-color="#71cd64"/><stop offset=".895" stop-color="#9fc942"/><stop offset=".948" stop-color="#c5c22a"/><stop offset="1" stop-color="#e5bb2d"/></linearGradient>
<linearGradient id="cc45" x1="0" y1="0" x2="0" y2="1"><stop offset="0" stop-color="#4435d2"/><stop offset=".046" stop-color="#4743e7"/><stop offset=".081" stop-color="#4755f6"/><stop offset=".117" stop-color="#4367fd"/><stop offset=".152" stop-color="#347afd"/><stop offset=".188" stop-color="#2d8cf3"/><stop offset=".239" stop-color="#259ce7"/><stop offset=".29" stop-color="#1caadf"/><stop offset=".366" stop-color="#05b6ce"/><stop offset=".441" stop-color="#12beb9"/><stop offset=".571" stop-color="#2fc5a2"/><stop offset=".701" stop-color="#48cb86"/><stop offset=".796" stop-color="#71cd64"/><stop offset=".89" stop-color="#9fc942"/><stop offset=".945" stop-color="#c8c129"/><stop offset="1" stop-color="#e9bb30"/></linearGradient>
<linearGradient id="cc46" x1="0" y1="0" x2="0" y2="1"><stop offset="0" stop-color="#4434ce"/><stop offset=".049" stop-color="#4743e7"/><stop offset=".085" stop-color="#4755f6"/><stop offset=".121" stop-color="#4367fd"/><stop offset=".156" stop-color="#347afd"/><stop offset=".191" stop-color="#2d8cf3"/><stop offset=".242" stop-color="#259ce7"/><stop offset=".293" stop-color="#1caadf"/><stop offset=".368" stop-color="#05b6ce"/><stop offset=".443" stop-color="#12beb9"/><stop offset=".569" stop-color="#2fc5a2"/><stop offset=".695" stop-color="#48cb86"/><stop offset=".79" stop-color="#71cd64"/><stop offset=".885" stop-color="#9fc942"/><stop offset=".94" stop-color="#c8c129"/><stop offset=".995" stop-color="#eaba31"/><stop offset="1" stop-color="#ecba32"/></linearGradient>
<linearGradient id="cc47" x1="0" y1="0" x2="0" y2="1"><stop offset="0" stop-color="#4433cb"/><stop offset=".026" stop-color="#463adb"/><stop offset=".053" stop-color="#4743e7"/><stop offset=".088" stop-color="#4755f6"/><stop offset=".123" stop-color="#4367fd"/><stop offset=".159" stop-color="#347afd"/><stop offset=".194" stop-color="#2d8cf3"/><stop offset=".245" stop-color="#259ce7"/><stop offset=".296" stop-color="#1caadf"/><stop offset=".37" stop-color="#05b6ce"/><stop offset=".444" stop-color="#12beb9"/><stop offset=".566" stop-color="#2fc5a2"/><stop offset=".688" stop-color="#48cb86"/><stop offset=".784" stop-color="#71cd64"/><stop offset=".88" stop-color="#9fc942"/><stop offset=".934" stop-color="#c8c129"/><stop offset=".988" stop-color="#eaba31"/><stop offset="1" stop-color="#eeba34"/></linearGradient>
<linearGradient id="cc48" x1="0" y1="0" x2="0" y2="1"><stop offset="0" stop-color="#4331c8"/><stop offset=".027" stop-color="#4639da"/><stop offset=".055" stop-color="#4743e7"/><stop offset=".09" stop-color="#4755f6"/><stop offset=".126" stop-color="#4367fd"/><stop offset=".162" stop-color="#347afd"/><stop offset=".197" stop-color="#2d8cf3"/><stop offset=".248" stop-color="#259ce7"/><stop offset=".299" stop-color="#1caadf"/><stop offset=".373" stop-color="#05b6ce"/><stop offset=".446" stop-color="#12beb9"/><stop offset=".565" stop-color="#2fc5a2"/><stop offset=".684" stop-color="#48cb86"/><stop offset=".78" stop-color="#71cd64"/><stop offset=".875" stop-color="#9fc942"/><stop offset=".928" stop-color="#c8c129"/><stop offset=".981" stop-color="#eaba31"/><stop offset="1" stop-color="#f1ba36"/></linearGradient>
<linearGradient id="cc49" x1="0" y1="0" x2="0" y2="1"><stop offset="0" stop-color="#4230c4"/><stop offset=".029" stop-color="#4539d9"/><stop offset=".057" stop-color="#4743e7"/><stop offset=".092" stop-color="#4755f6"/><stop offset=".127" stop-color="#4367fd"/><stop offset=".164" stop-color="#347afd"/><stop offset=".201" stop-color="#2d8cf3"/><stop offset=".252" stop-color="#259ce7"/><stop offset=".302" stop-color="#1caadf"/><stop offset=".375" stop-color="#05b6ce"/><stop offset=".448" stop-color="#12beb9"/><stop offset=".564" stop-color="#2fc5a2"/><stop offset=".68" stop-color="#48cb86"/><stop offset=".775" stop-color="#71cd64"/><stop offset=".87" stop-color="#9fc942"/><stop offset=".924" stop-color="#c8c129"/><stop offset=".978" stop-color="#eaba31"/><stop offset="1" stop-color="#f3ba38"/></linearGradient>
<linearGradient id="cc50" x1="0" y1="0" x2="0" y2="1"><stop offset="0" stop-color="#422fc1"/><stop offset=".03" stop-color="#4538d7"/><stop offset=".059" stop-color="#4743e7"/><stop offset=".094" stop-color="#4755f6"/><stop offset=".129" stop-color="#4367fd"/><stop offset=".166" stop-color="#347afd"/><stop offset=".204" stop-color="#2d8cf3"/><stop offset=".255" stop-color="#259ce7"/><stop offset=".305" stop-color="#1caadf"/><stop offset=".378" stop-color="#05b6ce"/><stop offset=".45" stop-color="#12beb9"/><stop offset=".563" stop-color="#2fc5a2"/><stop offset=".676" stop-color="#48cb86"/><stop offset=".77" stop-color="#71cd64"/><stop offset=".865" stop-color="#9fc942"/><stop offset=".92" stop-color="#c8c129"/><stop offset=".975" stop-color="#eaba31"/><stop offset="1" stop-color="#f5ba3a"/></linearGradient>
<linearGradient id="cc51" x1="0" y1="0" x2="0" y2="1"><stop offset="0" stop-color="#412ebe"/><stop offset=".031" stop-color="#4537d6"/><stop offset=".062" stop-color="#4743e7"/><stop offset=".096" stop-color="#4755f6"/><stop offset=".13" stop-color="#4367fd"/><stop offset=".169" stop-color="#347afd"/><stop offset=".207" stop-color="#2d8cf3"/><stop offset=".258" stop-color="#259ce7"/><stop offset=".309" stop-color="#1caadf"/><stop offset=".38" stop-color="#05b6ce"/><stop offset=".452" stop-color="#12beb9"/><stop offset=".562" stop-color="#2fc5a2"/><stop offset=".672" stop-color="#48cb86"/><stop offset=".766" stop-color="#71cd64"/><stop offset=".86" stop-color="#9fc942"/><stop offset=".916" stop-color="#c8c129"/><stop offset=".972" stop-color="#eaba31"/><stop offset="1" stop-color="#f7ba3c"/></linearGradient>
<linearGradient id="cc52" x1="0" y1="0" x2="0" y2="1"><stop offset="0" stop-color="#412cba"/><stop offset=".032" stop-color="#4536d4"/><stop offset=".064" stop-color="#4743e7"/><stop offset=".098" stop-color="#4755f6"/><stop offset=".132" stop-color="#4367fd"/><stop offset=".172" stop-color="#347afd"/><stop offset=".211" stop-color="#2d8cf3"/><stop offset=".261" stop-color="#259ce7"/><stop offset=".312" stop-color="#1caadf"/><stop offset=".383" stop-color="#05b6ce"/><stop offset=".454" stop-color="#12beb9"/><stop offset=".561" stop-color="#2fc5a2"/><stop offset=".668" stop-color="#48cb86"/><stop offset=".761" stop-color="#71cd64"/><stop offset=".854" stop-color="#9fc942"/><stop offset=".912" stop-color="#c8c129"/><stop offset=".969" stop-color="#eaba31"/><stop offset="1" stop-color="#f9bb3d"/></linearGradient>
<linearGradient id="cc53" x1="0" y1="0" x2="0" y2="1"><stop offset="0" stop-color="#402bb7"/><stop offset=".033" stop-color="#4536d3"/><stop offset=".066" stop-color="#4743e7"/><stop offset=".101" stop-color="#4755f6"/><stop offset=".135" stop-color="#4367fd"/><stop offset=".175" stop-color="#347afd"/><stop offset=".214" stop-color="#2d8cf3"/><stop offset=".264" stop-color="#259ce7"/><stop offset=".315" stop-color="#1caadf"/><stop offset=".385" stop-color="#05b6ce"/><stop offset=".456" stop-color="#12beb9"/><stop offset=".56" stop-color="#2fc5a2"/><stop offset=".664" stop-color="#48cb86"/><stop offset=".757" stop-color="#71cd64"/><stop offset=".849" stop-color="#9fc942"/><stop offset=".907" stop-color="#c8c129"/><stop offset=".966" stop-color="#eaba31"/><stop offset="1" stop-color="#fabc3d"/></linearGradient>
<linearGradient id="cc54" x1="0" y1="0" x2="0" y2="1"><stop offset="0" stop-color="#402ab3"/><stop offset=".034" stop-color="#4435d1"/><stop offset=".068" stop-color="#4743e7"/><stop offset=".103" stop-color="#4755f6"/><stop offset=".138" stop-color="#4367fd"/><stop offset=".178" stop-color="#347afd"/><stop offset=".217" stop-color="#2d8cf3"/><stop offset=".267" stop-color="#259ce7"/><stop offset=".318" stop-color="#1caadf"/><stop offset=".387" stop-color="#05b6ce"/><stop offset=".457" stop-color="#12beb9"/><stop offset=".559" stop-color="#2fc5a2"/><stop offset=".66" stop-color="#48cb86"/><stop offset=".752" stop-color="#71cd64"/><stop offset=".844" stop-color="#9fc942"/><stop offset=".903" stop-color="#c8c129"/><stop offset=".961" stop-color="#eaba31"/><stop offset="1" stop-color="#fcbc3d"/></linearGradient>
<linearGradient id="cc55" x1="0" y1="0" x2="0" y2="1"><stop offset="0" stop-color="#3f29b0"/><stop offset=".035" stop-color="#4434cf"/><stop offset=".071" stop-color="#4743e7"/><stop offset=".106" stop-color="#4755f6"/><stop offset=".141" stop-color="#4367fd"/><stop offset=".181" stop-color="#347afd"/><stop offset=".221" stop-color="#2d8cf3"/><stop offset=".271" stop-color="#259ce7"/><stop offset=".321" stop-color="#1caadf"/><stop offset=".389" stop-color="#05b6ce"/><stop offset=".458" stop-color="#12beb9"/><stop offset=".557" stop-color="#2fc5a2"/><stop offset=".656" stop-color="#48cb86"/><stop offset=".748" stop-color="#71cd64"/><stop offset=".839" stop-color="#9fc942"/><stop offset=".898" stop-color="#c8c129"/><stop offset=".956" stop-color="#eaba31"/><stop offset="1" stop-color="#fdbd3d"/></linearGradient>
<linearGradient id="cc56" x1="0" y1="0" x2="0" y2="1"><stop offset="0" stop-color="#3e27ac"/><stop offset=".036" stop-color="#4434ce"/><stop offset=".073" stop-color="#4743e7"/><stop offset=".109" stop-color="#4755f6"/><stop offset=".144" stop-color="#4367fd"/><stop offset=".184" stop-color="#347afd"/><stop offset=".224" stop-color="#2d8cf3"/><stop offset=".274" stop-color="#259ce7"/><stop offset=".324" stop-color="#1caadf"/><stop offset=".391" stop-color="#05b6ce"/><stop offset=".459" stop-color="#12beb9"/><stop offset=".556" stop-color="#2fc5a2"/><stop offset=".652" stop-color="#48cb86"/><stop offset=".743" stop-color="#71cd64"/><stop offset=".834" stop-color="#9fc942"/><stop offset=".892" stop-color="#c8c129"/><stop offset=".951" stop-color="#eaba31"/><stop offset="1" stop-color="#febf3c"/></linearGradient>
<linearGradient id="cc57" x1="0" y1="0" x2="0" y2="1"><stop offset="0" stop-color="#3e26a8"/><stop offset=".025" stop-color="#422fc1"/><stop offset=".05" stop-color="#4538d7"/><stop offset=".075" stop-color="#4743e7"/><stop offset=".111" stop-color="#4755f6"/><stop offset=".147" stop-color="#4367fd"/><stop offset=".187" stop-color="#347afd"/><stop offset=".227" stop-color="#2d8cf3"/><stop offset=".277" stop-color="#259ce7"/><stop offset=".327" stop-color="#1caadf"/><stop offset=".393" stop-color="#05b6ce"/><stop offset=".46" stop-color="#12beb9"/><stop offset=".554" stop-color="#2fc5a2"/><stop offset=".648" stop-color="#48cb86"/><stop offset=".738" stop-color="#71cd64"/><stop offset=".829" stop-color="#9fc942"/><stop offset=".887" stop-color="#c8c129"/><stop offset=".946" stop-color="#eaba31"/><stop offset="1" stop-color="#fec03b"/></linearGradient>
<linearGradient id="cc58" x1="0" y1="0" x2="0" y2="1"><stop offset="0" stop-color="#3e26a8"/><stop offset=".026" stop-color="#422ebf"/><stop offset=".052" stop-color="#4537d6"/><stop offset=".077" stop-color="#4743e7"/><stop offset=".114" stop-color="#4755f6"/><stop offset=".15" stop-color="#4367fd"/><stop offset=".191" stop-color="#347afd"/><stop offset=".231" stop-color="#2d8cf3"/><stop offset=".28" stop-color="#259ce7"/><stop offset=".33" stop-color="#1caadf"/><stop offset=".396" stop-color="#05b6ce"/><stop offset=".462" stop-color="#12beb9"/><stop offset=".553" stop-color="#2fc5a2"/><stop offset=".644" stop-color="#48cb86"/><stop offset=".734" stop-color="#71cd64"/><stop offset=".824" stop-color="#9fc942"/><stop offset=".882" stop-color="#c8c129"/><stop offset=".94" stop-color="#eaba31"/><stop offset=".97" stop-color="#f8ba3d"/><stop offset="1" stop-color="#fec239"/></linearGradient>
<linearGradient id="cc59" x1="0" y1="0" x2="0" y2="1"><stop offset="0" stop-color="#3e26a8"/><stop offset=".027" stop-color="#412dbd"/><stop offset=".053" stop-color="#4537d6"/><stop offset=".08" stop-color="#4743e7"/><stop offset=".117" stop-color="#4755f6"/><stop offset=".154" stop-color="#4367fd"/><stop offset=".194" stop-color="#347afd"/><stop offset=".234" stop-color="#2d8cf3"/><stop offset=".283" stop-color="#259ce7"/><stop offset=".333" stop-color="#1caadf"/><stop offset=".399" stop-color="#05b6ce"/><stop offset=".465" stop-color="#12beb9"/><stop offset=".552" stop-color="#2fc5a2"/><stop offset=".64" stop-color="#48cb86"/><stop offset=".729" stop-color="#71cd64"/><stop offset=".819" stop-color="#9fc942"/><stop offset=".877" stop-color="#c8c129"/><stop offset=".935" stop-color="#eaba31"/><stop offset=".968" stop-color="#f9bb3d"/><stop offset="1" stop-color="#fec338"/></linearGradient>
<linearGradient id="cc60" x1="0" y1="0" x2="0" y2="1"><stop offset="0" stop-color="#3e26a8"/><stop offset=".027" stop-color="#412dbb"/><stop offset=".055" stop-color="#4537d5"/><stop offset=".082" stop-color="#4743e7"/><stop offset=".119" stop-color="#4755f6"/><stop offset=".157" stop-color="#4367fd"/><stop offset=".197" stop-color="#347afd"/><stop offset=".237" stop-color="#2d8cf3"/><stop offset=".286" stop-color="#259ce7"/><stop offset=".336" stop-color="#1caadf"/><stop offset=".401" stop-color="#05b6ce"/><stop offset=".467" stop-color="#12beb9"/><stop offset=".551" stop-color="#2fc5a2"/><stop offset=".636" stop-color="#48cb86"/><stop offset=".725" stop-color="#71cd64"/><stop offset=".814" stop-color="#9fc942"/><stop offset=".872" stop-color="#c8c129"/><stop offset=".93" stop-color="#eaba31"/><stop offset=".965" stop-color="#fabb3d"/><stop offset="1" stop-color="#fec537"/></linearGradient>
<linearGradient id="cc61" x1="0" y1="0" x2="0" y2="1"><stop offset="0" stop-color="#3e26a8"/><stop offset=".028" stop-color="#412cba"/><stop offset=".056" stop-color="#4536d4"/><stop offset=".084" stop-color="#4743e7"/><stop offset=".121" stop-color="#4755f6"/><stop offset=".159" stop-color="#4367fd"/><stop offset=".199" stop-color="#347afd"/><stop offset=".24" stop-color="#2d8cf3"/><stop offset=".289" stop-color="#259ce7"/><stop offset=".338" stop-color="#1caadf"/><stop offset=".403" stop-color="#05b6ce"/><stop offset=".468" stop-color="#12beb9"/><stop offset=".551" stop-color="#2fc5a2"/><stop offset=".633" stop-color="#48cb86"/><stop offset=".721" stop-color="#71cd64"/><stop offset=".81" stop-color="#9fc942"/><stop offset=".868" stop-color="#c8c129"/><stop offset=".926" stop-color="#eaba31"/><stop offset=".963" stop-color="#fabc3d"/><stop offset="1" stop-color="#fec636"/></linearGradient>
<linearGradient id="cbar" x1="0" y1="0" x2="0" y2="1"><stop offset="0" stop-color="#f9fb15"/><stop offset="0.03125" stop-color="#f6ef20"/><stop offset="0.0625" stop-color="#f5e327"/><stop offset="0.09375" stop-color="#f9d62d"/><stop offset="0.125" stop-color="#feca33"/><stop offset="0.1562" stop-color="#febe3c"/><stop offset="0.1875" stop-color="#f1ba37"/><stop offset="0.2188" stop-color="#debc2a"/><stop offset="0.25" stop-color="#c8c129"/><stop offset="0.2812" stop-color="#afc637"/><stop offset="0.3125" stop-color="#94ca4a"/><stop offset="0.3438" stop-color="#77cc60"/><stop offset="0.375" stop-color="#5ccc76"/><stop offset="0.4062" stop-color="#44ca8a"/><stop offset="0.4375" stop-color="#34c79c"/><stop offset="0.4688" stop-color="#28c2ab"/><stop offset="0.5" stop-color="#12beb9"/><stop offset="0.5312" stop-color="#01b9c6"/><stop offset="0.5625" stop-color="#0cb3d3"/><stop offset="0.5938" stop-color="#1aacdd"/><stop offset="0.625" stop-color="#21a3e3"/><stop offset="0.6562" stop-color="#269ae9"/><stop offset="0.6875" stop-color="#2c90f0"/><stop offset="0.7188" stop-color="#2e85f8"/><stop offset="0.75" stop-color="#347afd"/><stop offset="0.7812" stop-color="#3f6efe"/><stop offset="0.8125" stop-color="#4562fc"/><stop offset="0.8438" stop-color="#4757f7"/><stop offset="0.875" stop-color="#484cef"/><stop offset="0.9062" stop-color="#4741e5"/><stop offset="0.9375" stop-color="#4536d5"/><stop offset="0.9688" stop-color="#422ebf"/><stop offset="1" stop-color="#3e26a8"/></linearGradient></defs>
<rect width="2000" height="1580" fill="#fff"/>
<g id="pa">
<line x1="282.7" y1="77.5" x2="282.7" y2="790.5" stroke="#dddddd" stroke-width="2" />
<line x1="425.4" y1="77.5" x2="425.4" y2="790.5" stroke="#dddddd" stroke-width="2" />
<line x1="568" y1="77.5" x2="568" y2="790.5" stroke="#dddddd" stroke-width="2" />
<line x1="710.7" y1="77.5" x2="710.7" y2="790.5" stroke="#dddddd" stroke-width="2" />
<line x1="140" y1="647.9" x2="853.4" y2="647.9" stroke="#dddddd" stroke-width="2" />
<line x1="140" y1="505.3" x2="853.4" y2="505.3" stroke="#dddddd" stroke-width="2" />
<line x1="140" y1="362.7" x2="853.4" y2="362.7" stroke="#dddddd" stroke-width="2" />
<line x1="140" y1="220.1" x2="853.4" y2="220.1" stroke="#dddddd" stroke-width="2" />
<clipPath id="clipa"><rect x="140" y="77.5" width="713.4" height="713"/></clipPath>
<g clip-path="url(#clipa)">
<path d="M217 750 L284 737" fill="none" stroke="#332288" stroke-width="4.6" stroke-dasharray="15 11"/>
<path d="M222 731 L245.4 718 L295.6 686 L332 655.7 L372 623 L434 580.5 L449 559 L517 507" fill="none" stroke="#88CCEE" stroke-width="4.6" stroke-dasharray="15 11"/>
<path d="M241.7 697.5 L334.3 626.8 L510 442 L540 380 L566.7 358.4 L672.5 176" fill="none" stroke="#44AA99" stroke-width="4.6" stroke-dasharray="15 11"/>
<path d="M228.7 681.5 L327.5 560.3 L421 457 L435 430 L461 361 L497 346 L531 331" fill="none" stroke="#DDCC77" stroke-width="4.6" stroke-dasharray="15 11"/>
<path d="M226 661 L300 569 L315 548" fill="none" stroke="#882255" stroke-width="4.6" stroke-dasharray="15 11"/>
<line x1="298.6" y1="548.1" x2="331.3" y2="548.1" stroke="#882255" stroke-width="4.6" />
<line x1="298.6" y1="540.6" x2="298.6" y2="555.6" stroke="#882255" stroke-width="4.6" />
<line x1="331.3" y1="540.6" x2="331.3" y2="555.6" stroke="#882255" stroke-width="4.6" />
<line x1="315.3" y1="483.6" x2="315.3" y2="610" stroke="#882255" stroke-width="4.6" />
<line x1="307.8" y1="483.6" x2="322.8" y2="483.6" stroke="#882255" stroke-width="4.6" />
<line x1="307.8" y1="610" x2="322.8" y2="610" stroke="#882255" stroke-width="4.6" />
<line x1="307.8" y1="502.5" x2="322.8" y2="502.5" stroke="#882255" stroke-width="4.6" />
<circle cx="315.3" cy="548.1" r="11" fill="#882255"/>
<line x1="222.7" y1="572.9" x2="222.7" y2="618.5" stroke="#882255" stroke-width="4.6" />
<line x1="215.2" y1="572.9" x2="230.2" y2="572.9" stroke="#882255" stroke-width="4.6" />
<line x1="215.2" y1="618.5" x2="230.2" y2="618.5" stroke="#882255" stroke-width="4.6" />
<circle cx="222.7" cy="595.7" r="11" fill="#882255"/>
<line x1="224.9" y1="693.7" x2="224.9" y2="740.8" stroke="#DDCC77" stroke-width="4.6" />
<line x1="217.4" y1="693.7" x2="232.4" y2="693.7" stroke="#DDCC77" stroke-width="4.6" />
<line x1="217.4" y1="740.8" x2="232.4" y2="740.8" stroke="#DDCC77" stroke-width="4.6" />
<line x1="213.4" y1="716.5" x2="236.4" y2="716.5" stroke="#DDCC77" stroke-width="4.2" />
<line x1="224.9" y1="705" x2="224.9" y2="728" stroke="#DDCC77" stroke-width="4.2" />
<line x1="216.8" y1="708.4" x2="233" y2="724.6" stroke="#DDCC77" stroke-width="4.2" />
<line x1="216.8" y1="724.6" x2="233" y2="708.4" stroke="#DDCC77" stroke-width="4.2" />
<line x1="224.9" y1="612.4" x2="224.9" y2="699" stroke="#DDCC77" stroke-width="4.6" />
<line x1="217.4" y1="612.4" x2="232.4" y2="612.4" stroke="#DDCC77" stroke-width="4.6" />
<line x1="217.4" y1="699" x2="232.4" y2="699" stroke="#DDCC77" stroke-width="4.6" />
<line x1="213.4" y1="655" x2="236.4" y2="655" stroke="#DDCC77" stroke-width="4.2" />
<line x1="224.9" y1="643.5" x2="224.9" y2="666.5" stroke="#DDCC77" stroke-width="4.2" />
<line x1="216.8" y1="646.9" x2="233" y2="663.1" stroke="#DDCC77" stroke-width="4.2" />
<line x1="216.8" y1="663.1" x2="233" y2="646.9" stroke="#DDCC77" stroke-width="4.2" />
<line x1="291" y1="527.6" x2="331.3" y2="527.6" stroke="#DDCC77" stroke-width="4.6" />
<line x1="291" y1="520.1" x2="291" y2="535.1" stroke="#DDCC77" stroke-width="4.6" />
<line x1="331.3" y1="520.1" x2="331.3" y2="535.1" stroke="#DDCC77" stroke-width="4.6" />
<line x1="310.8" y1="498" x2="310.8" y2="557.2" stroke="#DDCC77" stroke-width="4.6" />
<line x1="303.3" y1="498" x2="318.3" y2="498" stroke="#DDCC77" stroke-width="4.6" />
<line x1="303.3" y1="557.2" x2="318.3" y2="557.2" stroke="#DDCC77" stroke-width="4.6" />
<line x1="299.3" y1="527.6" x2="322.3" y2="527.6" stroke="#DDCC77" stroke-width="4.2" />
<line x1="310.8" y1="516.1" x2="310.8" y2="539.1" stroke="#DDCC77" stroke-width="4.2" />
<line x1="302.7" y1="519.5" x2="318.9" y2="535.7" stroke="#DDCC77" stroke-width="4.2" />
<line x1="302.7" y1="535.7" x2="318.9" y2="519.5" stroke="#DDCC77" stroke-width="4.2" />
<line x1="350.3" y1="550.4" x2="411.9" y2="550.4" stroke="#DDCC77" stroke-width="4.6" />
<line x1="350.3" y1="542.9" x2="350.3" y2="557.9" stroke="#DDCC77" stroke-width="4.6" />
<line x1="411.9" y1="542.9" x2="411.9" y2="557.9" stroke="#DDCC77" stroke-width="4.6" />
<line x1="376.1" y1="525.3" x2="376.1" y2="574.7" stroke="#DDCC77" stroke-width="4.6" />
<line x1="368.6" y1="525.3" x2="383.6" y2="525.3" stroke="#DDCC77" stroke-width="4.6" />
<line x1="368.6" y1="574.7" x2="383.6" y2="574.7" stroke="#DDCC77" stroke-width="4.6" />
<line x1="364.6" y1="550.4" x2="387.6" y2="550.4" stroke="#DDCC77" stroke-width="4.2" />
<line x1="376.1" y1="538.9" x2="376.1" y2="561.9" stroke="#DDCC77" stroke-width="4.2" />
<line x1="368" y1="542.3" x2="384.2" y2="558.5" stroke="#DDCC77" stroke-width="4.2" />
<line x1="368" y1="558.5" x2="384.2" y2="542.3" stroke="#DDCC77" stroke-width="4.2" />
<line x1="407.6" y1="469.9" x2="453.9" y2="469.9" stroke="#DDCC77" stroke-width="4.6" />
<line x1="407.6" y1="462.4" x2="407.6" y2="477.4" stroke="#DDCC77" stroke-width="4.6" />
<line x1="453.9" y1="462.4" x2="453.9" y2="477.4" stroke="#DDCC77" stroke-width="4.6" />
<line x1="431.1" y1="439.5" x2="431.1" y2="498" stroke="#DDCC77" stroke-width="4.6" />
<line x1="423.6" y1="439.5" x2="438.6" y2="439.5" stroke="#DDCC77" stroke-width="4.6" />
<line x1="423.6" y1="498" x2="438.6" y2="498" stroke="#DDCC77" stroke-width="4.6" />
<line x1="419.6" y1="469.9" x2="442.6" y2="469.9" stroke="#DDCC77" stroke-width="4.2" />
<line x1="431.1" y1="458.4" x2="431.1" y2="481.4" stroke="#DDCC77" stroke-width="4.2" />
<line x1="423" y1="461.8" x2="439.2" y2="478" stroke="#DDCC77" stroke-width="4.2" />
<line x1="423" y1="478" x2="439.2" y2="461.8" stroke="#DDCC77" stroke-width="4.2" />
<line x1="409.9" y1="400" x2="513.9" y2="400" stroke="#DDCC77" stroke-width="4.6" />
<line x1="409.9" y1="392.5" x2="409.9" y2="407.5" stroke="#DDCC77" stroke-width="4.6" />
<line x1="513.9" y1="392.5" x2="513.9" y2="407.5" stroke="#DDCC77" stroke-width="4.6" />
<line x1="462.3" y1="359" x2="462.3" y2="440.3" stroke="#DDCC77" stroke-width="4.6" />
<line x1="454.8" y1="359" x2="469.8" y2="359" stroke="#DDCC77" stroke-width="4.6" />
<line x1="454.8" y1="440.3" x2="469.8" y2="440.3" stroke="#DDCC77" stroke-width="4.6" />
<line x1="450.8" y1="400" x2="473.8" y2="400" stroke="#DDCC77" stroke-width="4.2" />
<line x1="462.3" y1="388.5" x2="462.3" y2="411.5" stroke="#DDCC77" stroke-width="4.2" />
<line x1="454.2" y1="391.9" x2="470.4" y2="408.1" stroke="#DDCC77" stroke-width="4.2" />
<line x1="454.2" y1="408.1" x2="470.4" y2="391.9" stroke="#DDCC77" stroke-width="4.2" />
<line x1="499.5" y1="413.7" x2="561.8" y2="413.7" stroke="#DDCC77" stroke-width="4.6" />
<line x1="499.5" y1="406.2" x2="499.5" y2="421.2" stroke="#DDCC77" stroke-width="4.6" />
<line x1="561.8" y1="406.2" x2="561.8" y2="421.2" stroke="#DDCC77" stroke-width="4.6" />
<line x1="530.6" y1="378" x2="530.6" y2="447.9" stroke="#DDCC77" stroke-width="4.6" />
<line x1="523.1" y1="378" x2="538.1" y2="378" stroke="#DDCC77" stroke-width="4.6" />
<line x1="523.1" y1="447.9" x2="538.1" y2="447.9" stroke="#DDCC77" stroke-width="4.6" />
<line x1="519.1" y1="413.7" x2="542.1" y2="413.7" stroke="#DDCC77" stroke-width="4.2" />
<line x1="530.6" y1="402.2" x2="530.6" y2="425.2" stroke="#DDCC77" stroke-width="4.2" />
<line x1="522.5" y1="405.6" x2="538.7" y2="421.8" stroke="#DDCC77" stroke-width="4.2" />
<line x1="522.5" y1="421.8" x2="538.7" y2="405.6" stroke="#DDCC77" stroke-width="4.2" />
<line x1="241.7" y1="683.8" x2="241.7" y2="713.4" stroke="#44AA99" stroke-width="4.6" />
<line x1="234.2" y1="683.8" x2="249.2" y2="683.8" stroke="#44AA99" stroke-width="4.6" />
<line x1="234.2" y1="713.4" x2="249.2" y2="713.4" stroke="#44AA99" stroke-width="4.6" />
<line x1="316.8" y1="626.8" x2="348.7" y2="626.8" stroke="#44AA99" stroke-width="4.6" />
<line x1="316.8" y1="619.3" x2="316.8" y2="634.3" stroke="#44AA99" stroke-width="4.6" />
<line x1="348.7" y1="619.3" x2="348.7" y2="634.3" stroke="#44AA99" stroke-width="4.6" />
<line x1="334.3" y1="611.6" x2="334.3" y2="642.8" stroke="#44AA99" stroke-width="4.6" />
<line x1="326.8" y1="611.6" x2="341.8" y2="611.6" stroke="#44AA99" stroke-width="4.6" />
<line x1="326.8" y1="642.8" x2="341.8" y2="642.8" stroke="#44AA99" stroke-width="4.6" />
<line x1="396.2" y1="571.4" x2="447.9" y2="571.4" stroke="#44AA99" stroke-width="4.6" />
<line x1="396.2" y1="563.9" x2="396.2" y2="578.9" stroke="#44AA99" stroke-width="4.6" />
<line x1="447.9" y1="563.9" x2="447.9" y2="578.9" stroke="#44AA99" stroke-width="4.6" />
<line x1="422" y1="537.2" x2="422" y2="641.3" stroke="#44AA99" stroke-width="4.6" />
<line x1="414.5" y1="537.2" x2="429.5" y2="537.2" stroke="#44AA99" stroke-width="4.6" />
<line x1="414.5" y1="641.3" x2="429.5" y2="641.3" stroke="#44AA99" stroke-width="4.6" />
<line x1="406" y1="604.8" x2="456" y2="604.8" stroke="#44AA99" stroke-width="4.6" />
<line x1="406" y1="597.3" x2="406" y2="612.3" stroke="#44AA99" stroke-width="4.6" />
<line x1="456" y1="597.3" x2="456" y2="612.3" stroke="#44AA99" stroke-width="4.6" />
<line x1="431.1" y1="579" x2="431.1" y2="641.3" stroke="#44AA99" stroke-width="4.6" />
<line x1="423.6" y1="579" x2="438.6" y2="579" stroke="#44AA99" stroke-width="4.6" />
<line x1="423.6" y1="641.3" x2="438.6" y2="641.3" stroke="#44AA99" stroke-width="4.6" />
<line x1="485.8" y1="440.3" x2="546.6" y2="440.3" stroke="#44AA99" stroke-width="4.6" />
<line x1="485.8" y1="432.8" x2="485.8" y2="447.8" stroke="#44AA99" stroke-width="4.6" />
<line x1="546.6" y1="432.8" x2="546.6" y2="447.8" stroke="#44AA99" stroke-width="4.6" />
<line x1="516.2" y1="415.2" x2="516.2" y2="457" stroke="#44AA99" stroke-width="4.6" />
<line x1="508.7" y1="415.2" x2="523.7" y2="415.2" stroke="#44AA99" stroke-width="4.6" />
<line x1="508.7" y1="457" x2="523.7" y2="457" stroke="#44AA99" stroke-width="4.6" />
<line x1="485.8" y1="479" x2="546.6" y2="479" stroke="#44AA99" stroke-width="4.6" />
<line x1="485.8" y1="471.5" x2="485.8" y2="486.5" stroke="#44AA99" stroke-width="4.6" />
<line x1="546.6" y1="471.5" x2="546.6" y2="486.5" stroke="#44AA99" stroke-width="4.6" />
<line x1="516.2" y1="457" x2="516.2" y2="501.8" stroke="#44AA99" stroke-width="4.6" />
<line x1="508.7" y1="457" x2="523.7" y2="457" stroke="#44AA99" stroke-width="4.6" />
<line x1="508.7" y1="501.8" x2="523.7" y2="501.8" stroke="#44AA99" stroke-width="4.6" />
<line x1="460.8" y1="469.9" x2="614.2" y2="469.9" stroke="#44AA99" stroke-width="4.6" />
<line x1="460.8" y1="462.4" x2="460.8" y2="477.4" stroke="#44AA99" stroke-width="4.6" />
<line x1="614.2" y1="462.4" x2="614.2" y2="477.4" stroke="#44AA99" stroke-width="4.6" />
<line x1="537.5" y1="447.9" x2="537.5" y2="501" stroke="#44AA99" stroke-width="4.6" />
<line x1="530" y1="447.9" x2="545" y2="447.9" stroke="#44AA99" stroke-width="4.6" />
<line x1="530" y1="501" x2="545" y2="501" stroke="#44AA99" stroke-width="4.6" />
<line x1="460.8" y1="499.5" x2="614.2" y2="499.5" stroke="#44AA99" stroke-width="4.6" />
<line x1="460.8" y1="492" x2="460.8" y2="507" stroke="#44AA99" stroke-width="4.6" />
<line x1="614.2" y1="492" x2="614.2" y2="507" stroke="#44AA99" stroke-width="4.6" />
<line x1="537.5" y1="470" x2="537.5" y2="533.7" stroke="#44AA99" stroke-width="4.6" />
<line x1="530" y1="470" x2="545" y2="470" stroke="#44AA99" stroke-width="4.6" />
<line x1="530" y1="533.7" x2="545" y2="533.7" stroke="#44AA99" stroke-width="4.6" />
<line x1="501.8" y1="429.6" x2="630.9" y2="429.6" stroke="#44AA99" stroke-width="4.6" />
<line x1="501.8" y1="422.1" x2="501.8" y2="437.1" stroke="#44AA99" stroke-width="4.6" />
<line x1="630.9" y1="422.1" x2="630.9" y2="437.1" stroke="#44AA99" stroke-width="4.6" />
<line x1="566.3" y1="385.6" x2="566.3" y2="472.9" stroke="#44AA99" stroke-width="4.6" />
<line x1="558.8" y1="385.6" x2="573.8" y2="385.6" stroke="#44AA99" stroke-width="4.6" />
<line x1="558.8" y1="472.9" x2="573.8" y2="472.9" stroke="#44AA99" stroke-width="4.6" />
<line x1="502.5" y1="540.3" x2="630.5" y2="540.3" stroke="#44AA99" stroke-width="4.6" />
<line x1="502.5" y1="532.8" x2="502.5" y2="547.8" stroke="#44AA99" stroke-width="4.6" />
<line x1="630.5" y1="532.8" x2="630.5" y2="547.8" stroke="#44AA99" stroke-width="4.6" />
<line x1="566.3" y1="497.2" x2="566.3" y2="580.5" stroke="#44AA99" stroke-width="4.6" />
<line x1="558.8" y1="497.2" x2="573.8" y2="497.2" stroke="#44AA99" stroke-width="4.6" />
<line x1="558.8" y1="580.5" x2="573.8" y2="580.5" stroke="#44AA99" stroke-width="4.6" />
<line x1="582.2" y1="118.3" x2="763.9" y2="118.3" stroke="#44AA99" stroke-width="4.6" />
<line x1="582.2" y1="110.8" x2="582.2" y2="125.8" stroke="#44AA99" stroke-width="4.6" />
<line x1="763.9" y1="110.8" x2="763.9" y2="125.8" stroke="#44AA99" stroke-width="4.6" />
<line x1="673.3" y1="60" x2="673.3" y2="161" stroke="#44AA99" stroke-width="4.6" />
<line x1="665.8" y1="60" x2="680.8" y2="60" stroke="#44AA99" stroke-width="4.6" />
<line x1="665.8" y1="161" x2="680.8" y2="161" stroke="#44AA99" stroke-width="4.6" />
<line x1="582.2" y1="145.4" x2="763.9" y2="145.4" stroke="#44AA99" stroke-width="4.6" />
<line x1="582.2" y1="137.9" x2="582.2" y2="152.9" stroke="#44AA99" stroke-width="4.6" />
<line x1="763.9" y1="137.9" x2="763.9" y2="152.9" stroke="#44AA99" stroke-width="4.6" />
<line x1="673.3" y1="97" x2="673.3" y2="196.6" stroke="#44AA99" stroke-width="4.6" />
<line x1="665.8" y1="97" x2="680.8" y2="97" stroke="#44AA99" stroke-width="4.6" />
<line x1="665.8" y1="196.6" x2="680.8" y2="196.6" stroke="#44AA99" stroke-width="4.6" />
<path d="M226.9 689.3 L256.5 689.3 L241.7 712Z" fill="#44AA99" stroke="none" stroke-width="0" />
<path d="M319.5 618.6 L349.1 618.6 L334.3 641.3Z" fill="#44AA99" stroke="none" stroke-width="0" />
<path d="M407.2 563.2 L436.8 563.2 L422 585.9Z" fill="#44AA99" stroke="none" stroke-width="0" />
<path d="M416.3 596.6 L445.9 596.6 L431.1 619.3Z" fill="#44AA99" stroke="none" stroke-width="0" />
<path d="M501.4 432.1 L531 432.1 L516.2 454.8Z" fill="#44AA99" stroke="none" stroke-width="0" />
<path d="M501.4 470.8 L531 470.8 L516.2 493.5Z" fill="#44AA99" stroke="none" stroke-width="0" />
<path d="M522.7 461.7 L552.3 461.7 L537.5 484.4Z" fill="#44AA99" stroke="none" stroke-width="0" />
<path d="M522.7 491.3 L552.3 491.3 L537.5 514Z" fill="#44AA99" stroke="none" stroke-width="0" />
<path d="M551.5 421.4 L581.1 421.4 L566.3 444.1Z" fill="#44AA99" stroke="none" stroke-width="0" />
<path d="M551.5 532.1 L581.1 532.1 L566.3 554.8Z" fill="#44AA99" stroke="none" stroke-width="0" />
<path d="M658.5 110.1 L688.1 110.1 L673.3 132.8Z" fill="#44AA99" stroke="none" stroke-width="0" />
<path d="M658.5 137.2 L688.1 137.2 L673.3 159.9Z" fill="#44AA99" stroke="none" stroke-width="0" />
<line x1="208" y1="730" x2="236" y2="730" stroke="#88CCEE" stroke-width="4.6" />
<line x1="208" y1="722.5" x2="208" y2="737.5" stroke="#88CCEE" stroke-width="4.6" />
<line x1="236" y1="722.5" x2="236" y2="737.5" stroke="#88CCEE" stroke-width="4.6" />
<line x1="221.9" y1="716" x2="221.9" y2="744" stroke="#88CCEE" stroke-width="4.6" />
<line x1="214.4" y1="716" x2="229.4" y2="716" stroke="#88CCEE" stroke-width="4.6" />
<line x1="214.4" y1="744" x2="229.4" y2="744" stroke="#88CCEE" stroke-width="4.6" />
<line x1="275.8" y1="668.6" x2="329" y2="668.6" stroke="#88CCEE" stroke-width="4.6" />
<line x1="275.8" y1="661.1" x2="275.8" y2="676.1" stroke="#88CCEE" stroke-width="4.6" />
<line x1="329" y1="661.1" x2="329" y2="676.1" stroke="#88CCEE" stroke-width="4.6" />
<line x1="302.4" y1="649.6" x2="302.4" y2="687.6" stroke="#88CCEE" stroke-width="4.6" />
<line x1="294.9" y1="649.6" x2="309.9" y2="649.6" stroke="#88CCEE" stroke-width="4.6" />
<line x1="294.9" y1="687.6" x2="309.9" y2="687.6" stroke="#88CCEE" stroke-width="4.6" />
<line x1="335" y1="657" x2="422" y2="657" stroke="#88CCEE" stroke-width="4.6" />
<line x1="335" y1="649.5" x2="335" y2="664.5" stroke="#88CCEE" stroke-width="4.6" />
<line x1="422" y1="649.5" x2="422" y2="664.5" stroke="#88CCEE" stroke-width="4.6" />
<line x1="378.9" y1="628" x2="378.9" y2="686.1" stroke="#88CCEE" stroke-width="4.6" />
<line x1="371.4" y1="628" x2="386.4" y2="628" stroke="#88CCEE" stroke-width="4.6" />
<line x1="371.4" y1="686.1" x2="386.4" y2="686.1" stroke="#88CCEE" stroke-width="4.6" />
<line x1="390.9" y1="621.5" x2="443.3" y2="621.5" stroke="#88CCEE" stroke-width="4.6" />
<line x1="390.9" y1="614" x2="390.9" y2="629" stroke="#88CCEE" stroke-width="4.6" />
<line x1="443.3" y1="614" x2="443.3" y2="629" stroke="#88CCEE" stroke-width="4.6" />
<line x1="418.2" y1="579" x2="418.2" y2="663.3" stroke="#88CCEE" stroke-width="4.6" />
<line x1="410.7" y1="579" x2="425.7" y2="579" stroke="#88CCEE" stroke-width="4.6" />
<line x1="410.7" y1="663.3" x2="425.7" y2="663.3" stroke="#88CCEE" stroke-width="4.6" />
<line x1="390.9" y1="608.6" x2="522.3" y2="608.6" stroke="#88CCEE" stroke-width="4.6" />
<line x1="390.9" y1="601.1" x2="390.9" y2="616.1" stroke="#88CCEE" stroke-width="4.6" />
<line x1="522.3" y1="601.1" x2="522.3" y2="616.1" stroke="#88CCEE" stroke-width="4.6" />
<line x1="454.7" y1="584.3" x2="454.7" y2="654.9" stroke="#88CCEE" stroke-width="4.6" />
<line x1="447.2" y1="584.3" x2="462.2" y2="584.3" stroke="#88CCEE" stroke-width="4.6" />
<line x1="447.2" y1="654.9" x2="462.2" y2="654.9" stroke="#88CCEE" stroke-width="4.6" />
<line x1="390.9" y1="624.6" x2="517.7" y2="624.6" stroke="#88CCEE" stroke-width="4.6" />
<line x1="390.9" y1="617.1" x2="390.9" y2="632.1" stroke="#88CCEE" stroke-width="4.6" />
<line x1="517.7" y1="617.1" x2="517.7" y2="632.1" stroke="#88CCEE" stroke-width="4.6" />
<line x1="454.7" y1="592.7" x2="454.7" y2="654.9" stroke="#88CCEE" stroke-width="4.6" />
<line x1="447.2" y1="592.7" x2="462.2" y2="592.7" stroke="#88CCEE" stroke-width="4.6" />
<line x1="447.2" y1="654.9" x2="462.2" y2="654.9" stroke="#88CCEE" stroke-width="4.6" />
<line x1="479.8" y1="563" x2="551.1" y2="563" stroke="#88CCEE" stroke-width="4.6" />
<line x1="479.8" y1="555.5" x2="479.8" y2="570.5" stroke="#88CCEE" stroke-width="4.6" />
<line x1="551.1" y1="555.5" x2="551.1" y2="570.5" stroke="#88CCEE" stroke-width="4.6" />
<line x1="515.5" y1="544" x2="515.5" y2="580" stroke="#88CCEE" stroke-width="4.6" />
<line x1="508" y1="544" x2="523" y2="544" stroke="#88CCEE" stroke-width="4.6" />
<line x1="508" y1="580" x2="523" y2="580" stroke="#88CCEE" stroke-width="4.6" />
<line x1="479.8" y1="589.6" x2="551.1" y2="589.6" stroke="#88CCEE" stroke-width="4.6" />
<line x1="479.8" y1="582.1" x2="479.8" y2="597.1" stroke="#88CCEE" stroke-width="4.6" />
<line x1="551.1" y1="582.1" x2="551.1" y2="597.1" stroke="#88CCEE" stroke-width="4.6" />
<line x1="515.5" y1="572" x2="515.5" y2="615.4" stroke="#88CCEE" stroke-width="4.6" />
<line x1="508" y1="572" x2="523" y2="572" stroke="#88CCEE" stroke-width="4.6" />
<line x1="508" y1="615.4" x2="523" y2="615.4" stroke="#88CCEE" stroke-width="4.6" />
<rect x="212.4" y="720.5" width="19" height="19" fill="#88CCEE" stroke="none" stroke-width="0" />
<rect x="292.9" y="659.1" width="19" height="19" fill="#88CCEE" stroke="none" stroke-width="0" />
<rect x="369.4" y="647.5" width="19" height="19" fill="#88CCEE" stroke="none" stroke-width="0" />
<rect x="408.7" y="612" width="19" height="19" fill="#88CCEE" stroke="none" stroke-width="0" />
<rect x="445.2" y="599.1" width="19" height="19" fill="#88CCEE" stroke="none" stroke-width="0" />
<rect x="445.2" y="615.1" width="19" height="19" fill="#88CCEE" stroke="none" stroke-width="0" />
<rect x="506" y="553.5" width="19" height="19" fill="#88CCEE" stroke="none" stroke-width="0" />
<rect x="506" y="580.1" width="19" height="19" fill="#88CCEE" stroke="none" stroke-width="0" />
<line x1="199.9" y1="749.9" x2="233.3" y2="749.9" stroke="#332288" stroke-width="4.6" />
<line x1="199.9" y1="742.4" x2="199.9" y2="757.4" stroke="#332288" stroke-width="4.6" />
<line x1="233.3" y1="742.4" x2="233.3" y2="757.4" stroke="#332288" stroke-width="4.6" />
<line x1="216.6" y1="733.2" x2="216.6" y2="771.2" stroke="#332288" stroke-width="4.6" />
<line x1="209.1" y1="733.2" x2="224.1" y2="733.2" stroke="#332288" stroke-width="4.6" />
<line x1="209.1" y1="771.2" x2="224.1" y2="771.2" stroke="#332288" stroke-width="4.6" />
<line x1="247" y1="737" x2="322.2" y2="737" stroke="#332288" stroke-width="4.6" />
<line x1="247" y1="729.5" x2="247" y2="744.5" stroke="#332288" stroke-width="4.6" />
<line x1="322.2" y1="729.5" x2="322.2" y2="744.5" stroke="#332288" stroke-width="4.6" />
<line x1="284.2" y1="703.6" x2="284.2" y2="800" stroke="#332288" stroke-width="4.6" />
<line x1="276.7" y1="703.6" x2="291.7" y2="703.6" stroke="#332288" stroke-width="4.6" />
<line x1="276.7" y1="800" x2="291.7" y2="800" stroke="#332288" stroke-width="4.6" />
<line x1="247" y1="754.4" x2="322.2" y2="754.4" stroke="#332288" stroke-width="4.6" />
<line x1="247" y1="746.9" x2="247" y2="761.9" stroke="#332288" stroke-width="4.6" />
<line x1="322.2" y1="746.9" x2="322.2" y2="761.9" stroke="#332288" stroke-width="4.6" />
<line x1="284.2" y1="715.7" x2="284.2" y2="800" stroke="#332288" stroke-width="4.6" />
<line x1="276.7" y1="715.7" x2="291.7" y2="715.7" stroke="#332288" stroke-width="4.6" />
<line x1="276.7" y1="800" x2="291.7" y2="800" stroke="#332288" stroke-width="4.6" />
<path d="M216.6 736.7 L231.8 760.4 L201.4 760.4Z" fill="#332288" stroke="none" stroke-width="0" />
<path d="M284.2 723.8 L299.4 747.5 L269 747.5Z" fill="#332288" stroke="none" stroke-width="0" />
<path d="M284.2 741.2 L299.4 764.9 L269 764.9Z" fill="#332288" stroke="none" stroke-width="0" />
</g>
<g>
<rect x="731.4" y="306" width="85.3" height="196.7" fill="#a6a6a6" stroke="none" stroke-width="0" filter="url(#noise1)"/>
<rect x="764" y="305" width="27" height="56.3" fill="url(#gi1a)" stroke="none" stroke-width="0" />
<rect x="755" y="361.3" width="36.8" height="81.2" fill="url(#gi1b)" stroke="none" stroke-width="0" />
<rect x="755" y="442.5" width="36.8" height="61.2" fill="url(#gi1c)" stroke="none" stroke-width="0" />
<rect x="732.1" y="306.7" width="83.9" height="52.9" fill="none" stroke="#CC6677" stroke-width="3.4" />
<rect x="732.1" y="363" width="83.9" height="77.8" fill="none" stroke="#44AA99" stroke-width="3.4" />
<rect x="732.1" y="444.2" width="83.9" height="57.8" fill="none" stroke="#88CCEE" stroke-width="3.4" />
</g>
<g>
<rect x="648" y="573.5" width="85" height="207.2" fill="#f6f6f6" stroke="none" stroke-width="0" filter="url(#noise2)"/>
<rect x="672.3" y="572.5" width="40.7" height="209.2" fill="url(#gi2)" stroke="none" stroke-width="0" />
<rect x="648.7" y="574.2" width="83.6" height="53.2" fill="none" stroke="#CC6677" stroke-width="3.4" />
<rect x="648.7" y="630.8" width="83.6" height="79.4" fill="none" stroke="#44AA99" stroke-width="3.4" />
<rect x="648.7" y="713.6" width="83.6" height="66.4" fill="none" stroke="#88CCEE" stroke-width="3.4" />
</g>
<rect x="140" y="77.5" width="713.4" height="713" fill="none" stroke="#262626" stroke-width="2.5" />
<line x1="168.5" y1="790.5" x2="168.5" y2="786" stroke="#262626" stroke-width="2.2" />
<line x1="168.5" y1="77.5" x2="168.5" y2="82" stroke="#262626" stroke-width="2.2" />
<line x1="197.1" y1="790.5" x2="197.1" y2="786" stroke="#262626" stroke-width="2.2" />
<line x1="197.1" y1="77.5" x2="197.1" y2="82" stroke="#262626" stroke-width="2.2" />
<line x1="225.6" y1="790.5" x2="225.6" y2="786" stroke="#262626" stroke-width="2.2" />
<line x1="225.6" y1="77.5" x2="225.6" y2="82" stroke="#262626" stroke-width="2.2" />
<line x1="254.1" y1="790.5" x2="254.1" y2="786" stroke="#262626" stroke-width="2.2" />
<line x1="254.1" y1="77.5" x2="254.1" y2="82" stroke="#262626" stroke-width="2.2" />
<line x1="282.7" y1="790.5" x2="282.7" y2="782" stroke="#262626" stroke-width="2.2" />
<line x1="282.7" y1="77.5" x2="282.7" y2="86" stroke="#262626" stroke-width="2.2" />
<line x1="311.2" y1="790.5" x2="311.2" y2="786" stroke="#262626" stroke-width="2.2" />
<line x1="311.2" y1="77.5" x2="311.2" y2="82" stroke="#262626" stroke-width="2.2" />
<line x1="339.8" y1="790.5" x2="339.8" y2="786" stroke="#262626" stroke-width="2.2" />
<line x1="339.8" y1="77.5" x2="339.8" y2="82" stroke="#262626" stroke-width="2.2" />
<line x1="368.3" y1="790.5" x2="368.3" y2="786" stroke="#262626" stroke-width="2.2" />
<line x1="368.3" y1="77.5" x2="368.3" y2="82" stroke="#262626" stroke-width="2.2" />
<line x1="396.8" y1="790.5" x2="396.8" y2="786" stroke="#262626" stroke-width="2.2" />
<line x1="396.8" y1="77.5" x2="396.8" y2="82" stroke="#262626" stroke-width="2.2" />
<line x1="425.4" y1="790.5" x2="425.4" y2="782" stroke="#262626" stroke-width="2.2" />
<line x1="425.4" y1="77.5" x2="425.4" y2="86" stroke="#262626" stroke-width="2.2" />
<line x1="453.9" y1="790.5" x2="453.9" y2="786" stroke="#262626" stroke-width="2.2" />
<line x1="453.9" y1="77.5" x2="453.9" y2="82" stroke="#262626" stroke-width="2.2" />
<line x1="482.4" y1="790.5" x2="482.4" y2="786" stroke="#262626" stroke-width="2.2" />
<line x1="482.4" y1="77.5" x2="482.4" y2="82" stroke="#262626" stroke-width="2.2" />
<line x1="511" y1="790.5" x2="511" y2="786" stroke="#262626" stroke-width="2.2" />
<line x1="511" y1="77.5" x2="511" y2="82" stroke="#262626" stroke-width="2.2" />
<line x1="539.5" y1="790.5" x2="539.5" y2="786" stroke="#262626" stroke-width="2.2" />
<line x1="539.5" y1="77.5" x2="539.5" y2="82" stroke="#262626" stroke-width="2.2" />
<line x1="568" y1="790.5" x2="568" y2="782" stroke="#262626" stroke-width="2.2" />
<line x1="568" y1="77.5" x2="568" y2="86" stroke="#262626" stroke-width="2.2" />
<line x1="596.6" y1="790.5" x2="596.6" y2="786" stroke="#262626" stroke-width="2.2" />
<line x1="596.6" y1="77.5" x2="596.6" y2="82" stroke="#262626" stroke-width="2.2" />
<line x1="625.1" y1="790.5" x2="625.1" y2="786" stroke="#262626" stroke-width="2.2" />
<line x1="625.1" y1="77.5" x2="625.1" y2="82" stroke="#262626" stroke-width="2.2" />
<line x1="653.6" y1="790.5" x2="653.6" y2="786" stroke="#262626" stroke-width="2.2" />
<line x1="653.6" y1="77.5" x2="653.6" y2="82" stroke="#262626" stroke-width="2.2" />
<line x1="682.2" y1="790.5" x2="682.2" y2="786" stroke="#262626" stroke-width="2.2" />
<line x1="682.2" y1="77.5" x2="682.2" y2="82" stroke="#262626" stroke-width="2.2" />
<line x1="710.7" y1="790.5" x2="710.7" y2="782" stroke="#262626" stroke-width="2.2" />
<line x1="710.7" y1="77.5" x2="710.7" y2="86" stroke="#262626" stroke-width="2.2" />
<line x1="739.3" y1="790.5" x2="739.3" y2="786" stroke="#262626" stroke-width="2.2" />
<line x1="739.3" y1="77.5" x2="739.3" y2="82" stroke="#262626" stroke-width="2.2" />
<line x1="767.8" y1="790.5" x2="767.8" y2="786" stroke="#262626" stroke-width="2.2" />
<line x1="767.8" y1="77.5" x2="767.8" y2="82" stroke="#262626" stroke-width="2.2" />
<line x1="796.3" y1="790.5" x2="796.3" y2="786" stroke="#262626" stroke-width="2.2" />
<line x1="796.3" y1="77.5" x2="796.3" y2="82" stroke="#262626" stroke-width="2.2" />
<line x1="824.9" y1="790.5" x2="824.9" y2="786" stroke="#262626" stroke-width="2.2" />
<line x1="824.9" y1="77.5" x2="824.9" y2="82" stroke="#262626" stroke-width="2.2" />
<line x1="140" y1="754.9" x2="144.5" y2="754.9" stroke="#262626" stroke-width="2.2" />
<line x1="853.4" y1="754.9" x2="848.9" y2="754.9" stroke="#262626" stroke-width="2.2" />
<line x1="140" y1="719.2" x2="144.5" y2="719.2" stroke="#262626" stroke-width="2.2" />
<line x1="853.4" y1="719.2" x2="848.9" y2="719.2" stroke="#262626" stroke-width="2.2" />
<line x1="140" y1="683.5" x2="144.5" y2="683.5" stroke="#262626" stroke-width="2.2" />
<line x1="853.4" y1="683.5" x2="848.9" y2="683.5" stroke="#262626" stroke-width="2.2" />
<line x1="140" y1="647.9" x2="148.5" y2="647.9" stroke="#262626" stroke-width="2.2" />
<line x1="853.4" y1="647.9" x2="844.9" y2="647.9" stroke="#262626" stroke-width="2.2" />
<line x1="140" y1="612.2" x2="144.5" y2="612.2" stroke="#262626" stroke-width="2.2" />
<line x1="853.4" y1="612.2" x2="848.9" y2="612.2" stroke="#262626" stroke-width="2.2" />
<line x1="140" y1="576.6" x2="144.5" y2="576.6" stroke="#262626" stroke-width="2.2" />
<line x1="853.4" y1="576.6" x2="848.9" y2="576.6" stroke="#262626" stroke-width="2.2" />
<line x1="140" y1="541" x2="144.5" y2="541" stroke="#262626" stroke-width="2.2" />
<line x1="853.4" y1="541" x2="848.9" y2="541" stroke="#262626" stroke-width="2.2" />
<line x1="140" y1="505.3" x2="148.5" y2="505.3" stroke="#262626" stroke-width="2.2" />
<line x1="853.4" y1="505.3" x2="844.9" y2="505.3" stroke="#262626" stroke-width="2.2" />
<line x1="140" y1="469.7" x2="144.5" y2="469.7" stroke="#262626" stroke-width="2.2" />
<line x1="853.4" y1="469.7" x2="848.9" y2="469.7" stroke="#262626" stroke-width="2.2" />
<line x1="140" y1="434" x2="144.5" y2="434" stroke="#262626" stroke-width="2.2" />
<line x1="853.4" y1="434" x2="848.9" y2="434" stroke="#262626" stroke-width="2.2" />
<line x1="140" y1="398.4" x2="144.5" y2="398.4" stroke="#262626" stroke-width="2.2" />
<line x1="853.4" y1="398.4" x2="848.9" y2="398.4" stroke="#262626" stroke-width="2.2" />
<line x1="140" y1="362.7" x2="148.5" y2="362.7" stroke="#262626" stroke-width="2.2" />
<line x1="853.4" y1="362.7" x2="844.9" y2="362.7" stroke="#262626" stroke-width="2.2" />
<line x1="140" y1="327.1" x2="144.5" y2="327.1" stroke="#262626" stroke-width="2.2" />
<line x1="853.4" y1="327.1" x2="848.9" y2="327.1" stroke="#262626" stroke-width="2.2" />
<line x1="140" y1="291.4" x2="144.5" y2="291.4" stroke="#262626" stroke-width="2.2" />
<line x1="853.4" y1="291.4" x2="848.9" y2="291.4" stroke="#262626" stroke-width="2.2" />
<line x1="140" y1="255.8" x2="144.5" y2="255.8" stroke="#262626" stroke-width="2.2" />
<line x1="853.4" y1="255.8" x2="848.9" y2="255.8" stroke="#262626" stroke-width="2.2" />
<line x1="140" y1="220.1" x2="148.5" y2="220.1" stroke="#262626" stroke-width="2.2" />
<line x1="853.4" y1="220.1" x2="844.9" y2="220.1" stroke="#262626" stroke-width="2.2" />
<line x1="140" y1="184.5" x2="144.5" y2="184.5" stroke="#262626" stroke-width="2.2" />
<line x1="853.4" y1="184.5" x2="848.9" y2="184.5" stroke="#262626" stroke-width="2.2" />
<line x1="140" y1="148.8" x2="144.5" y2="148.8" stroke="#262626" stroke-width="2.2" />
<line x1="853.4" y1="148.8" x2="848.9" y2="148.8" stroke="#262626" stroke-width="2.2" />
<line x1="140" y1="113.1" x2="144.5" y2="113.1" stroke="#262626" stroke-width="2.2" />
<line x1="853.4" y1="113.1" x2="848.9" y2="113.1" stroke="#262626" stroke-width="2.2" />
<text x="140" y="833.7" font-size="38.4" text-anchor="middle" font-weight="normal" font-style="normal" fill="#000" >0</text>
<text x="282.7" y="833.7" font-size="38.4" text-anchor="middle" font-weight="normal" font-style="normal" fill="#000" >10</text>
<text x="425.4" y="833.7" font-size="38.4" text-anchor="middle" font-weight="normal" font-style="normal" fill="#000" >20</text>
<text x="568" y="833.7" font-size="38.4" text-anchor="middle" font-weight="normal" font-style="normal" fill="#000" >30</text>
<text x="710.7" y="833.7" font-size="38.4" text-anchor="middle" font-weight="normal" font-style="normal" fill="#000" >40</text>
<text x="855.4" y="833.7" font-size="38.4" text-anchor="middle" font-weight="normal" font-style="normal" fill="#000" >50</text>
<text x="132" y="804.3" font-size="38.4" text-anchor="end" font-weight="normal" font-style="normal" fill="#000" >0</text>
<text x="132" y="661.7" font-size="38.4" text-anchor="end" font-weight="normal" font-style="normal" fill="#000" >200</text>
<text x="132" y="519.1" font-size="38.4" text-anchor="end" font-weight="normal" font-style="normal" fill="#000" >400</text>
<text x="132" y="376.5" font-size="38.4" text-anchor="end" font-weight="normal" font-style="normal" fill="#000" >600</text>
<text x="132" y="233.9" font-size="38.4" text-anchor="end" font-weight="normal" font-style="normal" fill="#000" >800</text>
<text x="132" y="91.3" font-size="38.4" text-anchor="end" font-weight="normal" font-style="normal" fill="#000" >1000</text>
<text x="507.5" y="888.5" font-size="38.8" text-anchor="middle" font-weight="normal" font-style="normal" fill="#000" >Measured temperature difference, Δ<tspan font-style="italic">T</tspan><tspan font-size="22" dy="11">meas</tspan><tspan dy="-11"> (K)</tspan></text>
<text transform="translate(49 430.5) rotate(-90)" font-size="38.7" text-anchor="middle" >Concentration difference, Δ<tspan font-style="italic">C</tspan> (ppm)</text>
<text x="188" y="511.6" font-size="38" text-anchor="start" font-weight="normal" font-style="normal" fill="#000" >c1</text>
<line x1="214.3" y1="515.5" x2="326" y2="618.7" stroke="#000" stroke-width="2.7" />
<path d="M336 628 L317.1 620.5 L326 618.7 L327 609.7Z" fill="#000" stroke="none" stroke-width="0" />
<line x1="774.4" y1="304.8" x2="681" y2="160" stroke="#000" stroke-width="2.7" />
<path d="M673.6 148.5 L690 160.5 L681 160 L677.8 168.4Z" fill="#000" stroke="none" stroke-width="0" />
<line x1="647" y1="684" x2="257.7" y2="699" stroke="#000" stroke-width="2.7" />
<path d="M244 699.5 L262.7 691.5 L257.7 699 L263.3 706.1Z" fill="#000" stroke="none" stroke-width="0" />
<rect x="152.8" y="88.6" width="274.3" height="291.1" fill="#fff" stroke="#262626" stroke-width="2.4" />
<line x1="152.8" y1="147.2" x2="427.1" y2="147.2" stroke="#000" stroke-width="1.6" />
<text x="153.5" y="131" font-size="39" text-anchor="start" font-weight="normal" font-style="normal" fill="#000" ><tspan font-style="italic">T</tspan><tspan font-size="22" dy="11.5">mean</tspan><tspan dy="-11.5"> </tspan></text>
<text x="252.5" y="131" font-size="39" text-anchor="start" font-weight="normal" font-style="normal" fill="#000" >Exp. CFD</text>
<text x="167.5" y="187.4" font-size="39" text-anchor="start" font-weight="normal" font-style="normal" fill="#000" >20 °C</text>
<line x1="284.2" y1="172.2" x2="322.3" y2="172.2" stroke="#332288" stroke-width="4.6" />
<line x1="284.2" y1="164.7" x2="284.2" y2="179.7" stroke="#332288" stroke-width="4.6" />
<line x1="322.3" y1="164.7" x2="322.3" y2="179.7" stroke="#332288" stroke-width="4.6" />
<line x1="303.3" y1="157.8" x2="303.3" y2="186.6" stroke="#332288" stroke-width="4.6" />
<line x1="295.8" y1="157.8" x2="310.8" y2="157.8" stroke="#332288" stroke-width="4.6" />
<line x1="295.8" y1="186.6" x2="310.8" y2="186.6" stroke="#332288" stroke-width="4.6" />
<path d="M303.3 159.2 L314.3 180.2 L292.3 180.2Z" fill="#332288" stroke="none" stroke-width="0" />
<line x1="339" y1="172.2" x2="419" y2="172.2" stroke="#332288" stroke-width="4.6" stroke-dasharray="18 11.5"/>
<text x="167.5" y="230" font-size="39" text-anchor="start" font-weight="normal" font-style="normal" fill="#000" >30 °C</text>
<line x1="284.2" y1="213" x2="322.3" y2="213" stroke="#88CCEE" stroke-width="4.6" />
<line x1="284.2" y1="205.5" x2="284.2" y2="220.5" stroke="#88CCEE" stroke-width="4.6" />
<line x1="322.3" y1="205.5" x2="322.3" y2="220.5" stroke="#88CCEE" stroke-width="4.6" />
<line x1="303.3" y1="198.6" x2="303.3" y2="227.4" stroke="#88CCEE" stroke-width="4.6" />
<line x1="295.8" y1="198.6" x2="310.8" y2="198.6" stroke="#88CCEE" stroke-width="4.6" />
<line x1="295.8" y1="227.4" x2="310.8" y2="227.4" stroke="#88CCEE" stroke-width="4.6" />
<rect x="295.3" y="205" width="16" height="16" fill="#88CCEE" stroke="none" stroke-width="0" />
<line x1="339" y1="213" x2="419" y2="213" stroke="#88CCEE" stroke-width="4.6" stroke-dasharray="18 11.5"/>
<text x="167.5" y="274" font-size="39" text-anchor="start" font-weight="normal" font-style="normal" fill="#000" >40 °C</text>
<line x1="284.2" y1="259.1" x2="322.3" y2="259.1" stroke="#44AA99" stroke-width="4.6" />
<line x1="284.2" y1="251.6" x2="284.2" y2="266.6" stroke="#44AA99" stroke-width="4.6" />
<line x1="322.3" y1="251.6" x2="322.3" y2="266.6" stroke="#44AA99" stroke-width="4.6" />
<line x1="303.3" y1="244.7" x2="303.3" y2="273.5" stroke="#44AA99" stroke-width="4.6" />
<line x1="295.8" y1="244.7" x2="310.8" y2="244.7" stroke="#44AA99" stroke-width="4.6" />
<line x1="295.8" y1="273.5" x2="310.8" y2="273.5" stroke="#44AA99" stroke-width="4.6" />
<path d="M292.3 251.1 L314.3 251.1 L303.3 272.1Z" fill="#44AA99" stroke="none" stroke-width="0" />
<line x1="339" y1="259.1" x2="419" y2="259.1" stroke="#44AA99" stroke-width="4.6" stroke-dasharray="18 11.5"/>
<text x="167.5" y="316" font-size="39" text-anchor="start" font-weight="normal" font-style="normal" fill="#000" >50 °C</text>
<line x1="284.2" y1="303.5" x2="322.3" y2="303.5" stroke="#DDCC77" stroke-width="4.6" />
<line x1="284.2" y1="296" x2="284.2" y2="311" stroke="#DDCC77" stroke-width="4.6" />
<line x1="322.3" y1="296" x2="322.3" y2="311" stroke="#DDCC77" stroke-width="4.6" />
<line x1="303.3" y1="289.1" x2="303.3" y2="317.9" stroke="#DDCC77" stroke-width="4.6" />
<line x1="295.8" y1="289.1" x2="310.8" y2="289.1" stroke="#DDCC77" stroke-width="4.6" />
<line x1="295.8" y1="317.9" x2="310.8" y2="317.9" stroke="#DDCC77" stroke-width="4.6" />
<line x1="293.3" y1="303.5" x2="313.3" y2="303.5" stroke="#DDCC77" stroke-width="4.2" />
<line x1="303.3" y1="293.5" x2="303.3" y2="313.5" stroke="#DDCC77" stroke-width="4.2" />
<line x1="296.2" y1="296.4" x2="310.4" y2="310.6" stroke="#DDCC77" stroke-width="4.2" />
<line x1="296.2" y1="310.6" x2="310.4" y2="296.4" stroke="#DDCC77" stroke-width="4.2" />
<line x1="339" y1="303.5" x2="419" y2="303.5" stroke="#DDCC77" stroke-width="4.6" stroke-dasharray="18 11.5"/>
<text x="167.5" y="358.2" font-size="39" text-anchor="start" font-weight="normal" font-style="normal" fill="#000" >60 °C</text>
<line x1="284.2" y1="346" x2="322.3" y2="346" stroke="#882255" stroke-width="4.6" />
<line x1="284.2" y1="338.5" x2="284.2" y2="353.5" stroke="#882255" stroke-width="4.6" />
<line x1="322.3" y1="338.5" x2="322.3" y2="353.5" stroke="#882255" stroke-width="4.6" />
<line x1="303.3" y1="331.6" x2="303.3" y2="360.4" stroke="#882255" stroke-width="4.6" />
<line x1="295.8" y1="331.6" x2="310.8" y2="331.6" stroke="#882255" stroke-width="4.6" />
<line x1="295.8" y1="360.4" x2="310.8" y2="360.4" stroke="#882255" stroke-width="4.6" />
<circle cx="303.3" cy="346" r="9" fill="#882255"/>
<line x1="339" y1="346" x2="419" y2="346" stroke="#882255" stroke-width="4.6" stroke-dasharray="18 11.5"/>
<text x="-0.5" y="44.2" font-size="51" text-anchor="start" font-weight="bold" font-style="normal" fill="#000" >a</text>
</g>
<g id="pb">
<line x1="370" y1="984.4" x2="370" y2="1426" stroke="#dddddd" stroke-width="2" />
<line x1="600" y1="984.4" x2="600" y2="1426" stroke="#dddddd" stroke-width="2" />
<line x1="830" y1="984.4" x2="830" y2="1426" stroke="#dddddd" stroke-width="2" />
<line x1="140" y1="1315.6" x2="876" y2="1315.6" stroke="#dddddd" stroke-width="2" />
<line x1="140" y1="1205.2" x2="876" y2="1205.2" stroke="#dddddd" stroke-width="2" />
<line x1="140" y1="1094.8" x2="876" y2="1094.8" stroke="#dddddd" stroke-width="2" />
<path d="M186.2 1032 L232.1 1056 L323.7 1120 L508 1242.8 L692 1312.7 L875.5 1358" fill="none" stroke="#44AA99" stroke-width="4.6" stroke-dasharray="15 11"/>
<line x1="186.2" y1="1040" x2="186.2" y2="1123.4" stroke="#88CCEE" stroke-width="4.6" />
<line x1="179.2" y1="1040" x2="193.2" y2="1040" stroke="#88CCEE" stroke-width="4.6" />
<line x1="179.2" y1="1123.4" x2="193.2" y2="1123.4" stroke="#88CCEE" stroke-width="4.6" />
<circle cx="186.2" cy="1081.7" r="13.7" fill="none" stroke="#88CCEE" stroke-width="2.3"/>
<line x1="232.1" y1="1131.8" x2="232.1" y2="1190.3" stroke="#88CCEE" stroke-width="4.6" />
<line x1="225.1" y1="1131.8" x2="239.1" y2="1131.8" stroke="#88CCEE" stroke-width="4.6" />
<line x1="225.1" y1="1190.3" x2="239.1" y2="1190.3" stroke="#88CCEE" stroke-width="4.6" />
<circle cx="232.1" cy="1160.6" r="13.7" fill="none" stroke="#88CCEE" stroke-width="2.3"/>
<line x1="323.7" y1="999.2" x2="323.7" y2="1076.3" stroke="#88CCEE" stroke-width="4.6" />
<line x1="316.7" y1="999.2" x2="330.7" y2="999.2" stroke="#88CCEE" stroke-width="4.6" />
<line x1="316.7" y1="1076.3" x2="330.7" y2="1076.3" stroke="#88CCEE" stroke-width="4.6" />
<circle cx="323.7" cy="1037.3" r="13.7" fill="none" stroke="#88CCEE" stroke-width="2.3"/>
<line x1="508" y1="1173.6" x2="508" y2="1237" stroke="#88CCEE" stroke-width="4.6" />
<line x1="501" y1="1173.6" x2="515" y2="1173.6" stroke="#88CCEE" stroke-width="4.6" />
<line x1="501" y1="1237" x2="515" y2="1237" stroke="#88CCEE" stroke-width="4.6" />
<circle cx="508" cy="1204.9" r="13.7" fill="none" stroke="#88CCEE" stroke-width="2.3"/>
<line x1="692" y1="1295" x2="692" y2="1346.5" stroke="#88CCEE" stroke-width="4.6" />
<line x1="685" y1="1295" x2="699" y2="1295" stroke="#88CCEE" stroke-width="4.6" />
<line x1="685" y1="1346.5" x2="699" y2="1346.5" stroke="#88CCEE" stroke-width="4.6" />
<circle cx="692" cy="1320.1" r="13.7" fill="none" stroke="#88CCEE" stroke-width="2.3"/>
<line x1="875.5" y1="1318.9" x2="875.5" y2="1380.6" stroke="#88CCEE" stroke-width="4.6" />
<line x1="868.5" y1="1318.9" x2="882.5" y2="1318.9" stroke="#88CCEE" stroke-width="4.6" />
<line x1="868.5" y1="1380.6" x2="882.5" y2="1380.6" stroke="#88CCEE" stroke-width="4.6" />
<circle cx="875.5" cy="1349" r="13.7" fill="none" stroke="#88CCEE" stroke-width="2.3"/>
<line x1="172.2" y1="1032" x2="200.2" y2="1032" stroke="#44AA99" stroke-width="4.4" />
<line x1="186.2" y1="1018" x2="186.2" y2="1046" stroke="#44AA99" stroke-width="4.4" />
<line x1="176.3" y1="1022.1" x2="196.1" y2="1041.9" stroke="#44AA99" stroke-width="4.4" />
<line x1="176.3" y1="1041.9" x2="196.1" y2="1022.1" stroke="#44AA99" stroke-width="4.4" />
<line x1="218.1" y1="1094.1" x2="246.1" y2="1094.1" stroke="#44AA99" stroke-width="4.4" />
<line x1="232.1" y1="1080.1" x2="232.1" y2="1108.1" stroke="#44AA99" stroke-width="4.4" />
<line x1="222.2" y1="1084.2" x2="242" y2="1104" stroke="#44AA99" stroke-width="4.4" />
<line x1="222.2" y1="1104" x2="242" y2="1084.2" stroke="#44AA99" stroke-width="4.4" />
<line x1="309.7" y1="1062.2" x2="337.7" y2="1062.2" stroke="#44AA99" stroke-width="4.4" />
<line x1="323.7" y1="1048.2" x2="323.7" y2="1076.2" stroke="#44AA99" stroke-width="4.4" />
<line x1="313.8" y1="1052.3" x2="333.6" y2="1072.1" stroke="#44AA99" stroke-width="4.4" />
<line x1="313.8" y1="1072.1" x2="333.6" y2="1052.3" stroke="#44AA99" stroke-width="4.4" />
<line x1="494" y1="1242.8" x2="522" y2="1242.8" stroke="#44AA99" stroke-width="4.4" />
<line x1="508" y1="1228.8" x2="508" y2="1256.8" stroke="#44AA99" stroke-width="4.4" />
<line x1="498.1" y1="1232.9" x2="517.9" y2="1252.7" stroke="#44AA99" stroke-width="4.4" />
<line x1="498.1" y1="1252.7" x2="517.9" y2="1232.9" stroke="#44AA99" stroke-width="4.4" />
<line x1="678" y1="1312.7" x2="706" y2="1312.7" stroke="#44AA99" stroke-width="4.4" />
<line x1="692" y1="1298.7" x2="692" y2="1326.7" stroke="#44AA99" stroke-width="4.4" />
<line x1="682.1" y1="1302.8" x2="701.9" y2="1322.6" stroke="#44AA99" stroke-width="4.4" />
<line x1="682.1" y1="1322.6" x2="701.9" y2="1302.8" stroke="#44AA99" stroke-width="4.4" />
<line x1="861.5" y1="1358" x2="889.5" y2="1358" stroke="#44AA99" stroke-width="4.4" />
<line x1="875.5" y1="1344" x2="875.5" y2="1372" stroke="#44AA99" stroke-width="4.4" />
<line x1="865.6" y1="1348.1" x2="885.4" y2="1367.9" stroke="#44AA99" stroke-width="4.4" />
<line x1="865.6" y1="1367.9" x2="885.4" y2="1348.1" stroke="#44AA99" stroke-width="4.4" />
<rect x="140" y="984.4" width="736" height="441.6" fill="none" stroke="#262626" stroke-width="2.5" />
<line x1="186" y1="1426" x2="186" y2="1421.5" stroke="#262626" stroke-width="2.2" />
<line x1="186" y1="984.4" x2="186" y2="988.9" stroke="#262626" stroke-width="2.2" />
<line x1="232" y1="1426" x2="232" y2="1421.5" stroke="#262626" stroke-width="2.2" />
<line x1="232" y1="984.4" x2="232" y2="988.9" stroke="#262626" stroke-width="2.2" />
<line x1="278" y1="1426" x2="278" y2="1421.5" stroke="#262626" stroke-width="2.2" />
<line x1="278" y1="984.4" x2="278" y2="988.9" stroke="#262626" stroke-width="2.2" />
<line x1="324" y1="1426" x2="324" y2="1421.5" stroke="#262626" stroke-width="2.2" />
<line x1="324" y1="984.4" x2="324" y2="988.9" stroke="#262626" stroke-width="2.2" />
<line x1="370" y1="1426" x2="370" y2="1417.5" stroke="#262626" stroke-width="2.2" />
<line x1="370" y1="984.4" x2="370" y2="992.9" stroke="#262626" stroke-width="2.2" />
<line x1="416" y1="1426" x2="416" y2="1421.5" stroke="#262626" stroke-width="2.2" />
<line x1="416" y1="984.4" x2="416" y2="988.9" stroke="#262626" stroke-width="2.2" />
<line x1="462" y1="1426" x2="462" y2="1421.5" stroke="#262626" stroke-width="2.2" />
<line x1="462" y1="984.4" x2="462" y2="988.9" stroke="#262626" stroke-width="2.2" />
<line x1="508" y1="1426" x2="508" y2="1421.5" stroke="#262626" stroke-width="2.2" />
<line x1="508" y1="984.4" x2="508" y2="988.9" stroke="#262626" stroke-width="2.2" />
<line x1="554" y1="1426" x2="554" y2="1421.5" stroke="#262626" stroke-width="2.2" />
<line x1="554" y1="984.4" x2="554" y2="988.9" stroke="#262626" stroke-width="2.2" />
<line x1="600" y1="1426" x2="600" y2="1417.5" stroke="#262626" stroke-width="2.2" />
<line x1="600" y1="984.4" x2="600" y2="992.9" stroke="#262626" stroke-width="2.2" />
<line x1="646" y1="1426" x2="646" y2="1421.5" stroke="#262626" stroke-width="2.2" />
<line x1="646" y1="984.4" x2="646" y2="988.9" stroke="#262626" stroke-width="2.2" />
<line x1="692" y1="1426" x2="692" y2="1421.5" stroke="#262626" stroke-width="2.2" />
<line x1="692" y1="984.4" x2="692" y2="988.9" stroke="#262626" stroke-width="2.2" />
<line x1="738" y1="1426" x2="738" y2="1421.5" stroke="#262626" stroke-width="2.2" />
<line x1="738" y1="984.4" x2="738" y2="988.9" stroke="#262626" stroke-width="2.2" />
<line x1="784" y1="1426" x2="784" y2="1421.5" stroke="#262626" stroke-width="2.2" />
<line x1="784" y1="984.4" x2="784" y2="988.9" stroke="#262626" stroke-width="2.2" />
<line x1="830" y1="1426" x2="830" y2="1417.5" stroke="#262626" stroke-width="2.2" />
<line x1="830" y1="984.4" x2="830" y2="992.9" stroke="#262626" stroke-width="2.2" />
<line x1="140" y1="1398.4" x2="144.5" y2="1398.4" stroke="#262626" stroke-width="2.2" />
<line x1="876" y1="1398.4" x2="871.5" y2="1398.4" stroke="#262626" stroke-width="2.2" />
<line x1="140" y1="1370.8" x2="144.5" y2="1370.8" stroke="#262626" stroke-width="2.2" />
<line x1="876" y1="1370.8" x2="871.5" y2="1370.8" stroke="#262626" stroke-width="2.2" />
<line x1="140" y1="1343.2" x2="144.5" y2="1343.2" stroke="#262626" stroke-width="2.2" />
<line x1="876" y1="1343.2" x2="871.5" y2="1343.2" stroke="#262626" stroke-width="2.2" />
<line x1="140" y1="1315.6" x2="148.5" y2="1315.6" stroke="#262626" stroke-width="2.2" />
<line x1="876" y1="1315.6" x2="867.5" y2="1315.6" stroke="#262626" stroke-width="2.2" />
<line x1="140" y1="1288" x2="144.5" y2="1288" stroke="#262626" stroke-width="2.2" />
<line x1="876" y1="1288" x2="871.5" y2="1288" stroke="#262626" stroke-width="2.2" />
<line x1="140" y1="1260.4" x2="144.5" y2="1260.4" stroke="#262626" stroke-width="2.2" />
<line x1="876" y1="1260.4" x2="871.5" y2="1260.4" stroke="#262626" stroke-width="2.2" />
<line x1="140" y1="1232.8" x2="144.5" y2="1232.8" stroke="#262626" stroke-width="2.2" />
<line x1="876" y1="1232.8" x2="871.5" y2="1232.8" stroke="#262626" stroke-width="2.2" />
<line x1="140" y1="1205.2" x2="148.5" y2="1205.2" stroke="#262626" stroke-width="2.2" />
<line x1="876" y1="1205.2" x2="867.5" y2="1205.2" stroke="#262626" stroke-width="2.2" />
<line x1="140" y1="1177.6" x2="144.5" y2="1177.6" stroke="#262626" stroke-width="2.2" />
<line x1="876" y1="1177.6" x2="871.5" y2="1177.6" stroke="#262626" stroke-width="2.2" />
<line x1="140" y1="1150" x2="144.5" y2="1150" stroke="#262626" stroke-width="2.2" />
<line x1="876" y1="1150" x2="871.5" y2="1150" stroke="#262626" stroke-width="2.2" />
<line x1="140" y1="1122.4" x2="144.5" y2="1122.4" stroke="#262626" stroke-width="2.2" />
<line x1="876" y1="1122.4" x2="871.5" y2="1122.4" stroke="#262626" stroke-width="2.2" />
<line x1="140" y1="1094.8" x2="148.5" y2="1094.8" stroke="#262626" stroke-width="2.2" />
<line x1="876" y1="1094.8" x2="867.5" y2="1094.8" stroke="#262626" stroke-width="2.2" />
<line x1="140" y1="1067.2" x2="144.5" y2="1067.2" stroke="#262626" stroke-width="2.2" />
<line x1="876" y1="1067.2" x2="871.5" y2="1067.2" stroke="#262626" stroke-width="2.2" />
<line x1="140" y1="1039.6" x2="144.5" y2="1039.6" stroke="#262626" stroke-width="2.2" />
<line x1="876" y1="1039.6" x2="871.5" y2="1039.6" stroke="#262626" stroke-width="2.2" />
<line x1="140" y1="1012" x2="144.5" y2="1012" stroke="#262626" stroke-width="2.2" />
<line x1="876" y1="1012" x2="871.5" y2="1012" stroke="#262626" stroke-width="2.2" />
<text x="137.2" y="1468.2" font-size="38.4" text-anchor="middle" font-weight="normal" font-style="normal" fill="#000" >0</text>
<text x="373.9" y="1468.2" font-size="38.4" text-anchor="middle" font-weight="normal" font-style="normal" fill="#000" >5</text>
<text x="619.4" y="1468.2" font-size="38.4" text-anchor="middle" font-weight="normal" font-style="normal" fill="#000" >10</text>
<text x="863.7" y="1468.2" font-size="38.4" text-anchor="middle" font-weight="normal" font-style="normal" fill="#000" >15</text>
<text x="128.8" y="1438.6" font-size="38.4" text-anchor="end" font-weight="normal" font-style="normal" fill="#000" >200</text>
<text x="128.8" y="1328.2" font-size="38.4" text-anchor="end" font-weight="normal" font-style="normal" fill="#000" >400</text>
<text x="128.8" y="1217.8" font-size="38.4" text-anchor="end" font-weight="normal" font-style="normal" fill="#000" >600</text>
<text x="128.8" y="1107.4" font-size="38.4" text-anchor="end" font-weight="normal" font-style="normal" fill="#000" >800</text>
<text x="128.8" y="997" font-size="38.4" text-anchor="end" font-weight="normal" font-style="normal" fill="#000" >1000</text>
<text x="505" y="1514.4" font-size="40" text-anchor="middle" font-weight="normal" font-style="normal" fill="#000" >Volumetric flow rate, <tspan font-style="italic">Q</tspan> (mL min<tspan font-size="22" dy="-15">-1</tspan><tspan dy="15">)</tspan></text>
<text transform="translate(45.5 1187) rotate(-90)" font-size="39" text-anchor="middle" >Δ<tspan font-style="italic">C</tspan> (ppm)</text>
<rect x="545.9" y="1005.3" width="310.7" height="124.7" fill="#fff" stroke="#262626" stroke-width="2.4" />
<text x="637" y="1039" font-size="38" text-anchor="start" font-weight="normal" font-style="normal" fill="#1a1a1a" >Experiment</text>
<text x="637" y="1078" font-size="38" text-anchor="start" font-weight="normal" font-style="normal" fill="#1a1a1a" >CFD Case 1</text>
<text x="637" y="1118.5" font-size="38" text-anchor="start" font-weight="normal" font-style="normal" fill="#1a1a1a" >CFD Case 2</text>
<line x1="593.2" y1="1013.5" x2="593.2" y2="1042" stroke="#88CCEE" stroke-width="4.4" />
<line x1="586.2" y1="1013.5" x2="600.2" y2="1013.5" stroke="#88CCEE" stroke-width="4.4" />
<line x1="586.2" y1="1042" x2="600.2" y2="1042" stroke="#88CCEE" stroke-width="4.4" />
<circle cx="593.2" cy="1027.5" r="6.5" fill="none" stroke="#88CCEE" stroke-width="2.2"/>
<line x1="579.2" y1="1068" x2="607.2" y2="1068" stroke="#44AA99" stroke-width="4.4" />
<line x1="593.2" y1="1054" x2="593.2" y2="1082" stroke="#44AA99" stroke-width="4.4" />
<line x1="583.3" y1="1058.1" x2="603.1" y2="1077.9" stroke="#44AA99" stroke-width="4.4" />
<line x1="583.3" y1="1077.9" x2="603.1" y2="1058.1" stroke="#44AA99" stroke-width="4.4" />
<line x1="557.8" y1="1107" x2="622" y2="1107" stroke="#44AA99" stroke-width="4.6" stroke-dasharray="16 8"/>
<text x="239.5" y="1019.4" font-size="38" text-anchor="start" font-weight="normal" font-style="normal" fill="#000" >c2</text>
<line x1="231.8" y1="1013.7" x2="201.7" y2="1025.2" stroke="#000" stroke-width="2.0" />
<path d="M193 1028.5 L203.2 1018.7 L201.7 1025.2 L207.1 1029Z" fill="#000" stroke="none" stroke-width="0" />
<text x="677" y="1175" font-size="38" text-anchor="start" font-weight="normal" font-style="normal" fill="#000" >c3</text>
<line x1="668.1" y1="1178.1" x2="520.5" y2="1234.5" stroke="#000" stroke-width="2.0" />
<path d="M509.7 1238.6 L522.3 1226.8 L520.5 1234.5 L527 1239Z" fill="#000" stroke="none" stroke-width="0" />
<text x="0.5" y="981.8" font-size="51" text-anchor="start" font-weight="bold" font-style="normal" fill="#000" >b</text>
</g>
<g id="pc">
<g shape-rendering="crispEdges">
<rect x="1033.7" y="75.2" width="12.6" height="145.8" fill="url(#ca0)"/>
<rect x="1045.7" y="75.2" width="12.6" height="145.8" fill="url(#ca1)"/>
<rect x="1057.7" y="75.2" width="12.6" height="145.8" fill="url(#ca2)"/>
<rect x="1069.7" y="75.2" width="12.6" height="145.8" fill="url(#ca3)"/>
<rect x="1081.7" y="75.2" width="12.6" height="145.8" fill="url(#ca4)"/>
<rect x="1093.7" y="75.2" width="12.6" height="145.8" fill="url(#ca5)"/>
<rect x="1105.7" y="75.2" width="12.6" height="145.8" fill="url(#ca6)"/>
<rect x="1117.7" y="75.2" width="12.6" height="145.8" fill="url(#ca7)"/>
<rect x="1129.7" y="75.2" width="12.6" height="145.8" fill="url(#ca8)"/>
<rect x="1141.7" y="75.2" width="12.6" height="145.8" fill="url(#ca9)"/>
<rect x="1153.7" y="75.2" width="12.6" height="145.8" fill="url(#ca10)"/>
<rect x="1165.7" y="75.2" width="12.6" height="145.8" fill="url(#ca11)"/>
<rect x="1177.7" y="75.2" width="12.6" height="145.8" fill="url(#ca12)"/>
<rect x="1189.7" y="75.2" width="12.6" height="145.8" fill="url(#ca13)"/>
<rect x="1201.7" y="75.2" width="12.6" height="145.8" fill="url(#ca14)"/>
<rect x="1213.7" y="75.2" width="12.6" height="145.8" fill="url(#ca15)"/>
<rect x="1225.7" y="75.2" width="12.6" height="145.8" fill="url(#ca16)"/>
<rect x="1237.7" y="75.2" width="12.6" height="145.8" fill="url(#ca17)"/>
<rect x="1249.7" y="75.2" width="12.6" height="145.8" fill="url(#ca18)"/>
<rect x="1261.7" y="75.2" width="12.6" height="145.8" fill="url(#ca19)"/>
<rect x="1273.7" y="75.2" width="12.6" height="145.8" fill="url(#ca20)"/>
<rect x="1285.7" y="75.2" width="12.6" height="145.8" fill="url(#ca21)"/>
<rect x="1297.7" y="75.2" width="12.6" height="145.8" fill="url(#ca22)"/>
<rect x="1309.7" y="75.2" width="12.6" height="145.8" fill="url(#ca23)"/>
<rect x="1321.7" y="75.2" width="12.6" height="145.8" fill="url(#ca24)"/>
<rect x="1333.7" y="75.2" width="12.6" height="145.8" fill="url(#ca25)"/>
<rect x="1345.7" y="75.2" width="12.6" height="145.8" fill="url(#ca26)"/>
<rect x="1357.7" y="75.2" width="12.6" height="145.8" fill="url(#ca27)"/>
<rect x="1369.7" y="75.2" width="12.6" height="145.8" fill="url(#ca28)"/>
<rect x="1381.7" y="75.2" width="12.6" height="145.8" fill="url(#ca29)"/>
<rect x="1393.7" y="75.2" width="12.6" height="145.8" fill="url(#ca30)"/>
<rect x="1405.7" y="75.2" width="12.6" height="145.8" fill="url(#ca31)"/>
<rect x="1417.7" y="75.2" width="12.6" height="145.8" fill="url(#ca32)"/>
<rect x="1429.7" y="75.2" width="12.6" height="145.8" fill="url(#ca33)"/>
<rect x="1441.7" y="75.2" width="12.6" height="145.8" fill="url(#ca34)"/>
<rect x="1453.7" y="75.2" width="12.6" height="145.8" fill="url(#ca35)"/>
<rect x="1465.7" y="75.2" width="12.6" height="145.8" fill="url(#ca36)"/>
<rect x="1477.7" y="75.2" width="12.6" height="145.8" fill="url(#ca37)"/>
<rect x="1489.7" y="75.2" width="12.6" height="145.8" fill="url(#ca38)"/>
<rect x="1501.7" y="75.2" width="12.6" height="145.8" fill="url(#ca39)"/>
<rect x="1513.7" y="75.2" width="12.6" height="145.8" fill="url(#ca40)"/>
<rect x="1525.7" y="75.2" width="12.6" height="145.8" fill="url(#ca41)"/>
<rect x="1537.7" y="75.2" width="12.6" height="145.8" fill="url(#ca42)"/>
<rect x="1549.7" y="75.2" width="12.6" height="145.8" fill="url(#ca43)"/>
<rect x="1561.7" y="75.2" width="12.6" height="145.8" fill="url(#ca44)"/>
<rect x="1573.7" y="75.2" width="12.6" height="145.8" fill="url(#ca45)"/>
<rect x="1585.7" y="75.2" width="12.6" height="145.8" fill="url(#ca46)"/>
<rect x="1597.7" y="75.2" width="12.6" height="145.8" fill="url(#ca47)"/>
<rect x="1609.7" y="75.2" width="12.6" height="145.8" fill="url(#ca48)"/>
<rect x="1621.7" y="75.2" width="12.6" height="145.8" fill="url(#ca49)"/>
<rect x="1633.7" y="75.2" width="12.6" height="145.8" fill="url(#ca50)"/>
<rect x="1645.7" y="75.2" width="12.6" height="145.8" fill="url(#ca51)"/>
<rect x="1657.7" y="75.2" width="12.6" height="145.8" fill="url(#ca52)"/>
<rect x="1669.7" y="75.2" width="12.6" height="145.8" fill="url(#ca53)"/>
<rect x="1681.7" y="75.2" width="12.6" height="145.8" fill="url(#ca54)"/>
<rect x="1693.7" y="75.2" width="12.6" height="145.8" fill="url(#ca55)"/>
<rect x="1705.7" y="75.2" width="12.6" height="145.8" fill="url(#ca56)"/>
<rect x="1717.7" y="75.2" width="12.6" height="145.8" fill="url(#ca57)"/>
<rect x="1729.7" y="75.2" width="12.6" height="145.8" fill="url(#ca58)"/>
<rect x="1741.7" y="75.2" width="12.6" height="145.8" fill="url(#ca59)"/>
<rect x="1753.7" y="75.2" width="12.6" height="145.8" fill="url(#ca60)"/>
<rect x="1765.7" y="75.2" width="6" height="145.8" fill="url(#ca61)"/>
</g>
<clipPath id="clipca"><rect x="1033.7" y="75.2" width="738" height="145.8"/></clipPath>
<g clip-path="url(#clipca)">
<path d="M1059 115.1 L1063.8 117 L1069.6 119.3 L1076 121.7 L1082.8 124.2 L1089.5 126.5 L1096 128.4 L1102.2 129.9 L1108.2 131.2 L1114.3 132.3 L1120.6 133.2 L1127.1 134.1 L1134 135 L1141.4 135.8 L1149.1 136.5 L1157.2 137.2 L1165.3 137.8 L1173.5 138.3 L1181.5 138.9 L1189.3 139.5 L1197 140.1 L1204.7 140.7 L1212.5 141.2 L1220.5 141.7 L1229 142.1 L1238 142.5 L1247.3 142.7 L1256.9 143 L1266.6 143.2 L1276.4 143.4 L1286 143.6 L1295.5 143.8 L1305 144 L1314.5 144.1 L1324 144.3 L1333.5 144.4 L1343 144.6" fill="none" stroke="#000" stroke-width="2.2" stroke-linecap="butt"/>
<path d="M1400 145.9 L1435.5 146.1 L1483.4 146.3 L1537.2 146.5 L1590.5 146.7 L1636.8 146.8 L1669.8 147" fill="none" stroke="#000" stroke-width="2.2" stroke-linecap="butt"/>
<path d="M1715.8 147.9 L1732.5 147.9 L1748.9 147.8 L1763 147.8 L1772.7 147.8" fill="none" stroke="#000" stroke-width="2.2" />
<path d="M1099.8 75.2 L1103.6 75.7 L1108.9 76.5 L1115.2 77.4 L1121.9 78.3 L1128.3 79.2 L1134 80 L1138.8 80.6 L1143.3 81.2 L1147.5 81.7 L1151.7 82.2 L1156 82.7 L1160.6 83.2" fill="none" stroke="#000" stroke-width="2.2" stroke-linecap="butt"/>
<path d="M1224.3 88.1 L1232.9 88.5 L1242.9 89.1 L1253.6 89.6 L1264.7 90.2 L1275.6 90.8 L1286 91.4 L1295.8 91.9 L1305.3 92.5 L1314.8 93.1 L1324.2 93.6 L1333.6 94.1 L1343 94.6 L1352.2 95 L1360.9 95.4 L1369.7 95.8 L1378.9 96.2 L1388.9 96.6 L1400 97 L1413.2 97.5 L1428.4 98.1 L1444.3 98.7 L1459.9 99.3 L1474 99.8 L1485.5 100.3" fill="none" stroke="#000" stroke-width="2.2" stroke-linecap="butt"/>
<path d="M1552 102.8 L1580.5 103.5 L1619.9 104.5 L1664.5 105.7 L1708.6 106.8 L1746.5 107.8 L1772.7 108.5" fill="none" stroke="#000" stroke-width="2.2" />
<path d="M1202.4 221.1 L1207.1 220.6 L1213.6 219.9 L1221.3 219.1 L1229.4 218.3 L1237.3 217.5 L1244.2 216.8" fill="none" stroke="#000" stroke-width="2.2" stroke-linecap="butt"/>
<path d="M1308.8 211.6 L1320.7 210.8 L1335 209.9 L1351.1 208.9 L1367.8 207.8 L1384.4 206.8 L1400 205.9 L1414.6 205.1 L1429 204.4 L1443.2 203.7 L1457.4 203 L1471.4 202.3 L1485.5 201.6 L1500.1 200.9 L1515.3 200.1 L1530.5 199.3 L1544.9 198.6 L1558 197.9 L1569 197.4" fill="none" stroke="#000" stroke-width="2.2" stroke-linecap="butt"/>
<path d="M1635.6 194 L1654 193.4 L1678.6 192.6 L1706.2 191.7 L1733.3 190.8 L1756.6 190.1 L1772.7 189.6" fill="none" stroke="#000" stroke-width="2.2" />
</g>
<text transform="translate(1363 145.1) rotate(1.3)" font-size="23" text-anchor="middle" y="8.2">30</text>
<text transform="translate(1689.8 147.8) rotate(1.1)" font-size="23" text-anchor="middle" y="8.2">30</text>
<text transform="translate(1192 86.6) rotate(4.4)" font-size="23" text-anchor="middle" y="8.2">29.8</text>
<text transform="translate(1517.8 102) rotate(2.2)" font-size="23" text-anchor="middle" y="8.2">29.8</text>
<text transform="translate(1276.5 214.2) rotate(-4.6)" font-size="23" text-anchor="middle" y="8.2">30.2</text>
<text transform="translate(1603 195.8) rotate(-2.9)" font-size="23" text-anchor="middle" y="8.2">30.2</text>
<text transform="translate(1044.5 108.5) rotate(33)" font-size="23" text-anchor="middle" y="8.2">30</text>
<rect x="1033.7" y="75.2" width="738" height="145.8" fill="none" stroke="#262626" stroke-width="2.4" />
<line x1="1107.5" y1="221" x2="1107.5" y2="216.5" stroke="#262626" stroke-width="2" />
<line x1="1107.5" y1="75.2" x2="1107.5" y2="79.7" stroke="#262626" stroke-width="2" />
<line x1="1181.3" y1="221" x2="1181.3" y2="213" stroke="#262626" stroke-width="2" />
<line x1="1181.3" y1="75.2" x2="1181.3" y2="83.2" stroke="#262626" stroke-width="2" />
<line x1="1255.1" y1="221" x2="1255.1" y2="216.5" stroke="#262626" stroke-width="2" />
<line x1="1255.1" y1="75.2" x2="1255.1" y2="79.7" stroke="#262626" stroke-width="2" />
<line x1="1328.9" y1="221" x2="1328.9" y2="213" stroke="#262626" stroke-width="2" />
<line x1="1328.9" y1="75.2" x2="1328.9" y2="83.2" stroke="#262626" stroke-width="2" />
<line x1="1402.7" y1="221" x2="1402.7" y2="216.5" stroke="#262626" stroke-width="2" />
<line x1="1402.7" y1="75.2" x2="1402.7" y2="79.7" stroke="#262626" stroke-width="2" />
<line x1="1476.5" y1="221" x2="1476.5" y2="213" stroke="#262626" stroke-width="2" />
<line x1="1476.5" y1="75.2" x2="1476.5" y2="83.2" stroke="#262626" stroke-width="2" />
<line x1="1550.3" y1="221" x2="1550.3" y2="216.5" stroke="#262626" stroke-width="2" />
<line x1="1550.3" y1="75.2" x2="1550.3" y2="79.7" stroke="#262626" stroke-width="2" />
<line x1="1624.1" y1="221" x2="1624.1" y2="213" stroke="#262626" stroke-width="2" />
<line x1="1624.1" y1="75.2" x2="1624.1" y2="83.2" stroke="#262626" stroke-width="2" />
<line x1="1697.9" y1="221" x2="1697.9" y2="216.5" stroke="#262626" stroke-width="2" />
<line x1="1697.9" y1="75.2" x2="1697.9" y2="79.7" stroke="#262626" stroke-width="2" />
<line x1="1033.7" y1="111.7" x2="1038.2" y2="111.7" stroke="#262626" stroke-width="2" />
<line x1="1771.7" y1="111.7" x2="1767.2" y2="111.7" stroke="#262626" stroke-width="2" />
<line x1="1033.7" y1="148.1" x2="1041.7" y2="148.1" stroke="#262626" stroke-width="2" />
<line x1="1771.7" y1="148.1" x2="1763.7" y2="148.1" stroke="#262626" stroke-width="2" />
<line x1="1033.7" y1="184.6" x2="1038.2" y2="184.6" stroke="#262626" stroke-width="2" />
<line x1="1771.7" y1="184.6" x2="1767.2" y2="184.6" stroke="#262626" stroke-width="2" />
<text x="1018.4" y="86.5" font-size="38.4" text-anchor="end" font-weight="normal" font-style="normal" fill="#000" >1.0</text>
<text x="1018.4" y="159.8" font-size="38.4" text-anchor="end" font-weight="normal" font-style="normal" fill="#000" >0.5</text>
<text x="1018.4" y="233.6" font-size="38.4" text-anchor="end" font-weight="normal" font-style="normal" fill="#000" >0</text>
<g shape-rendering="crispEdges">
<rect x="1024.6" y="309.8" width="12.6" height="145.8" fill="url(#cb0)"/>
<rect x="1036.6" y="309.8" width="12.6" height="145.8" fill="url(#cb1)"/>
<rect x="1048.6" y="309.8" width="12.6" height="145.8" fill="url(#cb2)"/>
<rect x="1060.6" y="309.8" width="12.6" height="145.8" fill="url(#cb3)"/>
<rect x="1072.6" y="309.8" width="12.6" height="145.8" fill="url(#cb4)"/>
<rect x="1084.6" y="309.8" width="12.6" height="145.8" fill="url(#cb5)"/>
<rect x="1096.6" y="309.8" width="12.6" height="145.8" fill="url(#cb6)"/>
<rect x="1108.6" y="309.8" width="12.6" height="145.8" fill="url(#cb7)"/>
<rect x="1120.6" y="309.8" width="12.6" height="145.8" fill="url(#cb8)"/>
<rect x="1132.6" y="309.8" width="12.6" height="145.8" fill="url(#cb9)"/>
<rect x="1144.6" y="309.8" width="12.6" height="145.8" fill="url(#cb10)"/>
<rect x="1156.6" y="309.8" width="12.6" height="145.8" fill="url(#cb11)"/>
<rect x="1168.6" y="309.8" width="12.6" height="145.8" fill="url(#cb12)"/>
<rect x="1180.6" y="309.8" width="12.6" height="145.8" fill="url(#cb13)"/>
<rect x="1192.6" y="309.8" width="12.6" height="145.8" fill="url(#cb14)"/>
<rect x="1204.6" y="309.8" width="12.6" height="145.8" fill="url(#cb15)"/>
<rect x="1216.6" y="309.8" width="12.6" height="145.8" fill="url(#cb16)"/>
<rect x="1228.6" y="309.8" width="12.6" height="145.8" fill="url(#cb17)"/>
<rect x="1240.6" y="309.8" width="12.6" height="145.8" fill="url(#cb18)"/>
<rect x="1252.6" y="309.8" width="12.6" height="145.8" fill="url(#cb19)"/>
<rect x="1264.6" y="309.8" width="12.6" height="145.8" fill="url(#cb20)"/>
<rect x="1276.6" y="309.8" width="12.6" height="145.8" fill="url(#cb21)"/>
<rect x="1288.6" y="309.8" width="12.6" height="145.8" fill="url(#cb22)"/>
<rect x="1300.6" y="309.8" width="12.6" height="145.8" fill="url(#cb23)"/>
<rect x="1312.6" y="309.8" width="12.6" height="145.8" fill="url(#cb24)"/>
<rect x="1324.6" y="309.8" width="12.6" height="145.8" fill="url(#cb25)"/>
<rect x="1336.6" y="309.8" width="12.6" height="145.8" fill="url(#cb26)"/>
<rect x="1348.6" y="309.8" width="12.6" height="145.8" fill="url(#cb27)"/>
<rect x="1360.6" y="309.8" width="12.6" height="145.8" fill="url(#cb28)"/>
<rect x="1372.6" y="309.8" width="12.6" height="145.8" fill="url(#cb29)"/>
<rect x="1384.6" y="309.8" width="12.6" height="145.8" fill="url(#cb30)"/>
<rect x="1396.6" y="309.8" width="12.6" height="145.8" fill="url(#cb31)"/>
<rect x="1408.6" y="309.8" width="12.6" height="145.8" fill="url(#cb32)"/>
<rect x="1420.6" y="309.8" width="12.6" height="145.8" fill="url(#cb33)"/>
<rect x="1432.6" y="309.8" width="12.6" height="145.8" fill="url(#cb34)"/>
<rect x="1444.6" y="309.8" width="12.6" height="145.8" fill="url(#cb35)"/>
<rect x="1456.6" y="309.8" width="12.6" height="145.8" fill="url(#cb36)"/>
<rect x="1468.6" y="309.8" width="12.6" height="145.8" fill="url(#cb37)"/>
<rect x="1480.6" y="309.8" width="12.6" height="145.8" fill="url(#cb38)"/>
<rect x="1492.6" y="309.8" width="12.6" height="145.8" fill="url(#cb39)"/>
<rect x="1504.6" y="309.8" width="12.6" height="145.8" fill="url(#cb40)"/>
<rect x="1516.6" y="309.8" width="12.6" height="145.8" fill="url(#cb41)"/>
<rect x="1528.6" y="309.8" width="12.6" height="145.8" fill="url(#cb42)"/>
<rect x="1540.6" y="309.8" width="12.6" height="145.8" fill="url(#cb43)"/>
<rect x="1552.6" y="309.8" width="12.6" height="145.8" fill="url(#cb44)"/>
<rect x="1564.6" y="309.8" width="12.6" height="145.8" fill="url(#cb45)"/>
<rect x="1576.6" y="309.8" width="12.6" height="145.8" fill="url(#cb46)"/>
<rect x="1588.6" y="309.8" width="12.6" height="145.8" fill="url(#cb47)"/>
<rect x="1600.6" y="309.8" width="12.6" height="145.8" fill="url(#cb48)"/>
<rect x="1612.6" y="309.8" width="12.6" height="145.8" fill="url(#cb49)"/>
<rect x="1624.6" y="309.8" width="12.6" height="145.8" fill="url(#cb50)"/>
<rect x="1636.6" y="309.8" width="12.6" height="145.8" fill="url(#cb51)"/>
<rect x="1648.6" y="309.8" width="12.6" height="145.8" fill="url(#cb52)"/>
<rect x="1660.6" y="309.8" width="12.6" height="145.8" fill="url(#cb53)"/>
<rect x="1672.6" y="309.8" width="12.6" height="145.8" fill="url(#cb54)"/>
<rect x="1684.6" y="309.8" width="12.6" height="145.8" fill="url(#cb55)"/>
<rect x="1696.6" y="309.8" width="12.6" height="145.8" fill="url(#cb56)"/>
<rect x="1708.6" y="309.8" width="12.6" height="145.8" fill="url(#cb57)"/>
<rect x="1720.6" y="309.8" width="12.6" height="145.8" fill="url(#cb58)"/>
<rect x="1732.6" y="309.8" width="12.6" height="145.8" fill="url(#cb59)"/>
<rect x="1744.6" y="309.8" width="12.6" height="145.8" fill="url(#cb60)"/>
<rect x="1756.6" y="309.8" width="6" height="145.8" fill="url(#cb61)"/>
</g>
<clipPath id="clipcb"><rect x="1024.6" y="309.8" width="738" height="145.8"/></clipPath>
<g clip-path="url(#clipcb)">
<path d="M1240 309.8 L1245.9 310.1 L1254.3 310.6 L1264.1 311.1 L1274.2 311.7 L1283.2 312.1" fill="none" stroke="#000" stroke-width="2.2" stroke-linecap="butt"/>
<path d="M1323.5 313 L1330 313 L1337.9 313.1 L1346.9 313.1 L1356.9 313.2 L1367.6 313.3 L1378.7 313.4 L1390 313.5 L1402.5 313.5 L1416.5 313.5 L1430.9 313.5 L1444.7 313.6 L1456.8 313.7 L1466 314 L1471.3 314.4 L1473.2 315 L1473.5 315.7 L1473.5 316.4 L1475 317.1 L1479.3 317.8 L1486.8 318.4 L1496.4 319.1 L1507.3 319.7 L1519 320.4 L1530.8 321 L1542 321.6 L1553.4 322.2 L1565.6 322.9 L1577.9 323.6 L1589.6 324.2 L1600.1 324.7 L1608.5 325" fill="none" stroke="#000" stroke-width="2.2" stroke-linecap="butt"/>
<path d="M1648.4 322.6 L1663.4 322.8 L1684 323.2 L1707.2 323.7 L1730.2 324.2 L1750 324.7 L1763.6 325" fill="none" stroke="#000" stroke-width="2.2" />
<path d="M1036 309.8 L1036.4 310 L1036.9 310.2 L1037.5 310.5 L1038.2 310.8 L1039.1 311.2 L1040 311.5 L1040.9 311.8 L1041.6 312.1 L1042.5 312.4 L1043.7 312.8 L1045.4 313.2 L1048 313.6 L1051.4 314.1 L1055.5 314.6 L1060.1 315.2 L1065.3 315.8 L1070.7 316.3 L1076.5 316.9 L1082.8 317.5 L1089.8 318 L1097.2 318.6 L1104.6 319.2 L1111.7 319.6 L1118.3 320" fill="none" stroke="#000" stroke-width="2.2" stroke-linecap="butt"/>
<path d="M1182.9 319.7 L1192.1 319.8 L1202.3 320.1 L1213.7 320.4 L1226.4 320.7 L1240.8 321.1 L1257 321.6 L1276.7 322.2 L1299.9 322.8 L1324.7 323.6 L1349.3 324.3 L1371.7 324.9 L1390 325.4 L1403.9 325.7 L1414.9 325.9 L1423.8 326 L1431.2 326 L1438 326.2 L1445 326.4" fill="none" stroke="#000" stroke-width="2.2" stroke-linecap="butt"/>
<path d="M1509.7 331.1 L1523.7 331.8 L1541.5 332.7 L1561.4 333.7 L1581.3 334.7 L1599.6 335.5 L1614.2 335.9 L1624 335.9 L1630.3 335.7 L1634.9 335.2 L1639.5 334.7 L1646 334.2 L1656 334 L1671.4 334 L1691 334.1 L1712.4 334.3 L1733.3 334.6 L1751.1 334.8 L1763.6 334.9" fill="none" stroke="#000" stroke-width="2.2" />
<path d="M1033.2 309.8 L1033.4 310.1 L1033.6 310.6 L1033.9 311.1 L1034.2 311.7 L1034.6 312.3 L1035 313 L1035.3 313.7 L1035.5 314.4 L1035.7 315.2 L1036.1 316.1 L1037 316.9 L1038.5 317.8 L1040.7 318.7 L1043.3 319.7 L1046.4 320.7 L1049.9 321.7 L1053.6 322.6 L1057.5 323.5 L1061.8 324.3 L1066.6 325.1 L1071.8 325.8 L1076.9 326.5 L1081.7 327.1 L1086 327.7 L1089.6 328.2 L1092.5 328.6 L1095.3 328.9 L1098 329.2 L1101.2 329.5 L1105 329.8 L1109.6 330.2" fill="none" stroke="#000" stroke-width="2.2" stroke-linecap="butt"/>
<path d="M1169.6 333 L1180.5 333.4 L1193 333.8 L1207 334.3 L1222.4 334.8 L1239.2 335.3 L1257 335.9 L1277.6 336.5 L1301.3 337.3 L1326.3 338 L1350.7 338.7 L1372.6 339.3 L1390 339.7 L1402.4 339.8 L1411 339.7 L1417.2 339.5 L1421.9 339.3 L1426.4 339.1 L1431.8 339.1" fill="none" stroke="#000" stroke-width="2.2" stroke-linecap="butt"/>
<path d="M1496.4 341.6 L1512 342.2 L1532.1 343.1 L1554.7 344.1 L1577.4 345.1 L1598 345.8 L1614.2 346.3 L1624.8 346.4 L1631.3 346.2 L1635.7 345.8 L1640 345.4 L1646.1 345 L1656 344.8 L1671.4 344.7 L1691 344.7 L1712.4 344.7 L1733.3 344.7 L1751.1 344.8 L1763.6 344.8" fill="none" stroke="#000" stroke-width="2.2" />
<path d="M1030.6 309.8 L1030.7 310.3 L1030.9 311.1 L1031.1 312 L1031.4 313 L1031.7 314 L1032 315 L1032.3 316 L1032.4 317.1 L1032.6 318.2 L1033 319.3 L1033.6 320.4 L1034.7 321.6 L1036.2 322.8 L1038.1 324.1 L1040.3 325.5 L1042.8 326.8 L1045.3 328 L1048 329.2 L1050.7 330.3 L1053.5 331.2 L1056.5 332.2 L1059.7 333.1 L1063.2 334 L1067 334.9 L1071.3 335.9 L1076 336.9 L1081 337.9 L1086.1 338.9 L1091.4 339.8 L1096.5 340.6" fill="none" stroke="#000" stroke-width="2.2" stroke-linecap="butt"/>
<path d="M1161 345.4 L1172.9 345.9 L1187 346.5 L1202.8 347.1 L1219.9 347.8 L1238.1 348.5 L1257 349.2 L1278.2 350 L1302.3 351 L1327.5 351.9 L1351.8 352.8 L1373.2 353.5 L1390 353.9 L1401.2 353.9 L1408.2 353.5 L1412.4 353 L1415.3 352.4 L1418.1 351.9 L1422.3 351.6" fill="none" stroke="#000" stroke-width="2.2" stroke-linecap="butt"/>
<path d="M1486.9 352.4 L1502.4 353 L1521.5 353.9 L1543.2 355 L1566.6 356 L1590.6 356.8 L1614.2 357.3 L1639.6 357.4 L1667.9 357.1 L1696.9 356.7 L1724 356.1 L1747.1 355.7 L1763.6 355.4" fill="none" stroke="#000" stroke-width="2.2" />
<path d="M1028 309.8 L1028.1 310.5 L1028.2 311.4 L1028.4 312.4 L1028.6 313.6 L1028.8 314.8 L1029 316 L1029.2 317.1 L1029.3 318.3 L1029.4 319.4 L1029.7 320.7 L1030.1 322 L1030.9 323.5 L1032 325.2 L1033.2 327.1 L1034.7 329.1 L1036.4 331.2 L1038.3 333.1 L1040.4 334.9 L1042.7 336.5 L1045.1 338 L1047.8 339.4 L1050.7 340.7 L1053.9 342.1 L1057.5 343.5 L1061.5 345 L1065.8 346.4 L1070.4 347.9 L1075.4 349.4 L1080.6 350.7 L1086 352 L1091.6 353.1 L1097.3 354.2 L1103.2 355.2 L1109.6 356.1 L1116.5 356.9 L1124 357.7 L1132.2 358.4 L1140.9 359 L1150.1 359.6 L1159.9 360.1 L1170.2 360.6 L1181 361.1 L1192.6 361.6 L1205.1 362 L1218 362.4 L1231.2 362.7 L1244.3 363.1 L1257 363.4 L1269.7 363.7 L1282.8 364 L1295.8 364.3 L1308.2 364.5 L1319.5 364.7 L1329.2 364.9" fill="none" stroke="#000" stroke-width="2.2" stroke-linecap="butt"/>
<path d="M1390 364.9 L1408.6 365.1 L1432.9 365.4 L1460.6 365.7 L1489.5 366.1 L1517.4 366.5 L1542 366.8 L1564.1 367.1 L1585.8 367.4 L1606.4 367.6 L1625.4 367.9 L1642.1 368.1 L1656 368.2" fill="none" stroke="#000" stroke-width="2.2" stroke-linecap="butt"/>
<path d="M1721.6 367.2 L1728.5 367 L1736.4 366.7 L1744.6 366.5 L1752.4 366.3 L1758.9 366 L1763.6 365.9" fill="none" stroke="#000" stroke-width="2.2" />
<path d="M1044.2 356.8 L1047.5 358.5 L1051 360.2 L1054.8 361.8 L1058.7 363.4 L1062.8 364.9 L1067 366.3 L1071.4 367.5 L1076.1 368.6 L1080.9 369.6 L1085.8 370.5 L1090.7 371.3 L1095.5 372 L1099.9 372.6 L1103.9 373.1 L1108 373.6 L1112.4 374 L1117.6 374.4 L1124 374.8 L1131.6 375.3 L1140.2 375.8 L1149.5 376.4 L1159.5 376.9 L1170.1 377.3 L1181 377.7 L1192.7 378 L1205.3 378.2 L1218.4 378.3 L1231.7 378.4 L1244.7 378.5 L1257 378.6 L1269.1 378.7 L1281.4 378.8 L1293.5 378.9 L1304.8 379 L1314.9 379.1 L1323.5 379.2 L1330.1 379.3" fill="none" stroke="#000" stroke-width="2.2" stroke-linecap="butt"/>
<path d="M1369 380.1 L1371.9 380 L1373.9 379.8 L1376 379.5 L1378.9 379.3 L1383.3 379.1 L1390 379 L1399 379 L1409.9 379.1 L1422.2 379.2 L1435.8 379.3 L1450.5 379.5 L1466 379.6 L1483.3 379.7 L1502.6 379.8 L1523.1 379.8 L1543.5 379.9 L1562.8 380 L1580 380.1 L1595.4 380.2 L1609.9 380.4 L1623.4 380.5 L1635.5 380.7 L1646.1 380.8 L1655 380.9" fill="none" stroke="#000" stroke-width="2.2" stroke-linecap="butt"/>
<path d="M1695 380.1 L1704.4 379.8 L1716.8 379.5 L1730.5 379.1 L1744 378.7 L1755.6 378.4 L1763.6 378.2" fill="none" stroke="#000" stroke-width="2.2" />
<path d="M1049 455.6 L1049.7 454.5 L1050.7 452.9 L1051.8 451.1 L1053.1 449.1 L1054.5 447 L1056 445 L1057.5 443 L1059.1 441 L1060.8 438.9 L1062.6 436.7 L1064.7 434.3 L1067 431.8 L1069.7 429 L1072.9 425.8 L1076.2 422.5 L1079.7 419.3 L1083 416.3 L1086 413.8 L1088.6 411.8 L1090.7 410.1 L1092.8 408.7 L1095 407.4 L1097.7 406.3 L1101.2 405.2 L1105.6 404.1" fill="none" stroke="#000" stroke-width="2.2" stroke-linecap="butt"/>
<path d="M1165.8 398.2 L1177.1 398 L1190.3 397.8 L1205.1 397.7 L1221.3 397.5 L1238.7 397.4 L1257 397.2 L1277.9 396.9 L1301.8 396.6 L1326.9 396.3 L1351.2 396 L1372.9 395.7 L1390 395.5 L1401.8 395.4 L1409.6 395.4 L1414.8 395.5 L1418.5 395.6 L1422.2 395.6 L1427 395.7" fill="none" stroke="#000" stroke-width="2.2" stroke-linecap="butt"/>
<path d="M1492.6 394.8 L1507.9 394.5 L1526.8 394.1 L1548.2 393.7 L1571.3 393.2 L1594.9 392.8 L1618 392.3 L1642.8 391.8 L1670.4 391.1 L1698.6 390.5 L1725.1 389.9 L1747.5 389.4 L1763.6 389" fill="none" stroke="#000" stroke-width="2.2" />
<path d="M1089.8 455.6 L1091.4 454.2 L1093.6 452.3 L1096.2 450 L1099.1 447.6 L1102.1 445.2 L1105 443.2 L1107.9 441.4 L1110.9 439.7 L1114.1 438.1 L1117.3 436.6 L1120.6 435.1 L1124 433.7 L1127.4 432.4 L1130.7 431.2 L1134.1 430 L1137.7 428.9 L1141.6 427.9 L1145.9 427 L1150.7 426.2" fill="none" stroke="#000" stroke-width="2.2" stroke-linecap="butt"/>
<path d="M1210.5 420.4 L1218.9 419.8 L1228.1 419.2 L1238.1 418.5 L1249.3 417.9 L1261.9 417.2 L1276 416.6 L1292.6 416 L1311.6 415.5 L1332 414.9 L1352.6 414.4 L1372.3 413.9 L1390 413.5 L1406.1 413.1 L1421.5 412.9 L1436 412.6 L1449.3 412.4 L1461.3 412.1 L1471.7 411.9" fill="none" stroke="#000" stroke-width="2.2" stroke-linecap="butt"/>
<path d="M1536.3 408.6 L1551.3 408.2 L1570.2 407.7 L1591.4 407.2 L1613.8 406.6 L1635.7 406.1 L1656 405.6 L1675.9 405.1 L1696.7 404.6 L1717.3 404.1 L1736.2 403.6 L1752 403.2 L1763.6 402.9" fill="none" stroke="#000" stroke-width="2.2" />
<path d="M1156.3 455.6 L1157.7 455 L1159.5 454.1 L1161.8 453 L1164.5 451.9 L1167.7 450.8 L1171.5 449.9 L1176.1 449.1 L1181.6 448.4 L1187.5 447.7 L1193.7 447.1 L1199.9 446.5 L1205.7 446" fill="none" stroke="#000" stroke-width="2.2" stroke-linecap="butt"/>
<path d="M1269.4 440.4 L1278.2 439.8 L1288.5 439.2 L1299.6 438.5 L1311.1 437.8 L1322.4 437.2 L1333 436.6 L1342.6 436 L1351.6 435.5 L1360.5 435 L1369.6 434.4 L1379.3 433.9 L1390 433.4 L1402.2 432.9 L1415.6 432.5 L1429.7 432 L1443.8 431.5 L1457.3 431 L1469.8 430.3 L1481.4 429.5 L1492.5 428.4 L1503.1 427.4 L1513.1 426.3 L1522.3 425.4 L1530.6 424.6" fill="none" stroke="#000" stroke-width="2.2" stroke-linecap="butt"/>
<path d="M1591.4 421.1 L1596.2 420.8 L1600.1 420.5 L1603 420.2 L1605.6 420 L1608.5 419.7 L1612.5 419.6 L1618 419.5 L1625.1 419.6 L1633.2 419.8 L1642.3 420.2 L1652.4 420.4 L1663.3 420.5 L1675 420.4 L1689 419.9 L1705.5 419.1 L1722.9 418.1 L1739.5 417.1 L1753.6 416.3 L1763.6 415.7" fill="none" stroke="#000" stroke-width="2.2" />
<path d="M1370 455.6 L1371.7 455.4 L1373.5 455.1 L1376 454.8 L1379.3 454.4 L1383.9 454.1 L1390 453.7 L1398.5 453.3 L1409.4 453 L1421.5 452.6 L1433.7 452.2 L1445.1 451.7 L1454.6 451.2" fill="none" stroke="#000" stroke-width="2.2" stroke-linecap="butt"/>
<path d="M1519.2 442.3 L1532.2 441.2 L1548.8 439.8 L1567.2 438.3 L1585.5 437 L1601.8 435.9 L1614.2 435.2 L1621.8 435 L1625.9 435.3 L1628 435.7 L1629.5 436.3 L1632.1 436.8 L1637 437.1 L1644.4 437.2 L1653 437.3 L1662.6 437.4 L1672.8 437.3 L1683.4 437.1 L1694 436.6 L1705.7 435.8 L1718.8 434.6 L1732.4 433.2 L1745.1 431.9 L1755.9 430.7 L1763.6 429.9" fill="none" stroke="#000" stroke-width="2.2" />
<path d="M1555.3 455.6 L1559.9 455.1 L1566.5 454.5 L1574.1 453.7 L1582 452.9 L1589.3 452.3 L1595.2 451.8" fill="none" stroke="#000" stroke-width="2.2" stroke-linecap="butt"/>
<path d="M1634.2 452.7 L1641.8 452.7 L1650.9 452.7 L1661.1 452.7 L1671.9 452.6 L1683 452.3 L1694 451.8 L1705.8 451 L1719.1 449.9 L1732.5 448.6 L1745.2 447.3 L1755.9 446.2 L1763.6 445.5" fill="none" stroke="#000" stroke-width="2.2" />
</g>
<text transform="translate(1303.6 313) rotate(1.1)" font-size="23" text-anchor="middle" y="8.2">29</text>
<text transform="translate(1628.5 324.4) rotate(-3.4)" font-size="23" text-anchor="middle" y="8.2">29</text>
<text transform="translate(1150.6 320.6) rotate(-0.3)" font-size="23" text-anchor="middle" y="8.2">29.2</text>
<text transform="translate(1477.4 329.2) rotate(4.2)" font-size="23" text-anchor="middle" y="8.2">29.2</text>
<text transform="translate(1137.3 332) rotate(2.8)" font-size="23" text-anchor="middle" y="8.2">29.4</text>
<text transform="translate(1464.1 340.6) rotate(2.2)" font-size="23" text-anchor="middle" y="8.2">29.4</text>
<text transform="translate(1127.8 344) rotate(4.3)" font-size="23" text-anchor="middle" y="8.2">29.6</text>
<text transform="translate(1454.6 352.4) rotate(0.7)" font-size="23" text-anchor="middle" y="8.2">29.6</text>
<text transform="translate(1362.5 365.3) rotate(-0.1)" font-size="23" text-anchor="middle" y="8.2">29.8</text>
<text transform="translate(1689.3 368.1) rotate(-0.9)" font-size="23" text-anchor="middle" y="8.2">29.8</text>
<text transform="translate(1348.2 379.9) rotate(1.1)" font-size="23" text-anchor="middle" y="8.2">30</text>
<text transform="translate(1675 381) rotate(-1.1)" font-size="23" text-anchor="middle" y="8.2">30</text>
<text transform="translate(1133.5 400.4) rotate(-6.2)" font-size="23" text-anchor="middle" y="8.2">30.2</text>
<text transform="translate(1459.9 396) rotate(-0.8)" font-size="23" text-anchor="middle" y="8.2">30.2</text>
<text transform="translate(1178.2 423.2) rotate(-5.8)" font-size="23" text-anchor="middle" y="8.2">30.4</text>
<text transform="translate(1504 410.3) rotate(-2.9)" font-size="23" text-anchor="middle" y="8.2">30.4</text>
<text transform="translate(1238 443.6) rotate(-5)" font-size="23" text-anchor="middle" y="8.2">30.6</text>
<text transform="translate(1563.3 422.8) rotate(-3.3)" font-size="23" text-anchor="middle" y="8.2">30.6</text>
<text transform="translate(1487.9 447) rotate(-7.9)" font-size="23" text-anchor="middle" y="8.2">30.8</text>
<text transform="translate(1613.3 451.8) rotate(1.2)" font-size="23" text-anchor="middle" y="8.2">31</text>
<text transform="translate(1029.5 347.5) rotate(55)" font-size="23" text-anchor="middle" y="8.2">30</text>
<rect x="1024.6" y="309.8" width="738" height="145.8" fill="none" stroke="#262626" stroke-width="2.4" />
<line x1="1098.4" y1="455.6" x2="1098.4" y2="451.1" stroke="#262626" stroke-width="2" />
<line x1="1098.4" y1="309.8" x2="1098.4" y2="314.3" stroke="#262626" stroke-width="2" />
<line x1="1172.2" y1="455.6" x2="1172.2" y2="447.6" stroke="#262626" stroke-width="2" />
<line x1="1172.2" y1="309.8" x2="1172.2" y2="317.8" stroke="#262626" stroke-width="2" />
<line x1="1246" y1="455.6" x2="1246" y2="451.1" stroke="#262626" stroke-width="2" />
<line x1="1246" y1="309.8" x2="1246" y2="314.3" stroke="#262626" stroke-width="2" />
<line x1="1319.8" y1="455.6" x2="1319.8" y2="447.6" stroke="#262626" stroke-width="2" />
<line x1="1319.8" y1="309.8" x2="1319.8" y2="317.8" stroke="#262626" stroke-width="2" />
<line x1="1393.6" y1="455.6" x2="1393.6" y2="451.1" stroke="#262626" stroke-width="2" />
<line x1="1393.6" y1="309.8" x2="1393.6" y2="314.3" stroke="#262626" stroke-width="2" />
<line x1="1467.4" y1="455.6" x2="1467.4" y2="447.6" stroke="#262626" stroke-width="2" />
<line x1="1467.4" y1="309.8" x2="1467.4" y2="317.8" stroke="#262626" stroke-width="2" />
<line x1="1541.2" y1="455.6" x2="1541.2" y2="451.1" stroke="#262626" stroke-width="2" />
<line x1="1541.2" y1="309.8" x2="1541.2" y2="314.3" stroke="#262626" stroke-width="2" />
<line x1="1615" y1="455.6" x2="1615" y2="447.6" stroke="#262626" stroke-width="2" />
<line x1="1615" y1="309.8" x2="1615" y2="317.8" stroke="#262626" stroke-width="2" />
<line x1="1688.8" y1="455.6" x2="1688.8" y2="451.1" stroke="#262626" stroke-width="2" />
<line x1="1688.8" y1="309.8" x2="1688.8" y2="314.3" stroke="#262626" stroke-width="2" />
<line x1="1024.6" y1="346.2" x2="1029.1" y2="346.2" stroke="#262626" stroke-width="2" />
<line x1="1762.6" y1="346.2" x2="1758.1" y2="346.2" stroke="#262626" stroke-width="2" />
<line x1="1024.6" y1="382.7" x2="1032.6" y2="382.7" stroke="#262626" stroke-width="2" />
<line x1="1762.6" y1="382.7" x2="1754.6" y2="382.7" stroke="#262626" stroke-width="2" />
<line x1="1024.6" y1="419.2" x2="1029.1" y2="419.2" stroke="#262626" stroke-width="2" />
<line x1="1762.6" y1="419.2" x2="1758.1" y2="419.2" stroke="#262626" stroke-width="2" />
<text x="1011.4" y="318.6" font-size="38.4" text-anchor="end" font-weight="normal" font-style="normal" fill="#000" >1.0</text>
<text x="1011.4" y="392.7" font-size="38.4" text-anchor="end" font-weight="normal" font-style="normal" fill="#000" >0.5</text>
<text x="1011.4" y="466.7" font-size="38.4" text-anchor="end" font-weight="normal" font-style="normal" fill="#000" >0</text>
<g shape-rendering="crispEdges">
<rect x="1028.7" y="566.2" width="12.6" height="145.8" fill="url(#cc0)"/>
<rect x="1040.7" y="566.2" width="12.6" height="145.8" fill="url(#cc1)"/>
<rect x="1052.7" y="566.2" width="12.6" height="145.8" fill="url(#cc2)"/>
<rect x="1064.7" y="566.2" width="12.6" height="145.8" fill="url(#cc3)"/>
<rect x="1076.7" y="566.2" width="12.6" height="145.8" fill="url(#cc4)"/>
<rect x="1088.7" y="566.2" width="12.6" height="145.8" fill="url(#cc5)"/>
<rect x="1100.7" y="566.2" width="12.6" height="145.8" fill="url(#cc6)"/>
<rect x="1112.7" y="566.2" width="12.6" height="145.8" fill="url(#cc7)"/>
<rect x="1124.7" y="566.2" width="12.6" height="145.8" fill="url(#cc8)"/>
<rect x="1136.7" y="566.2" width="12.6" height="145.8" fill="url(#cc9)"/>
<rect x="1148.7" y="566.2" width="12.6" height="145.8" fill="url(#cc10)"/>
<rect x="1160.7" y="566.2" width="12.6" height="145.8" fill="url(#cc11)"/>
<rect x="1172.7" y="566.2" width="12.6" height="145.8" fill="url(#cc12)"/>
<rect x="1184.7" y="566.2" width="12.6" height="145.8" fill="url(#cc13)"/>
<rect x="1196.7" y="566.2" width="12.6" height="145.8" fill="url(#cc14)"/>
<rect x="1208.7" y="566.2" width="12.6" height="145.8" fill="url(#cc15)"/>
<rect x="1220.7" y="566.2" width="12.6" height="145.8" fill="url(#cc16)"/>
<rect x="1232.7" y="566.2" width="12.6" height="145.8" fill="url(#cc17)"/>
<rect x="1244.7" y="566.2" width="12.6" height="145.8" fill="url(#cc18)"/>
<rect x="1256.7" y="566.2" width="12.6" height="145.8" fill="url(#cc19)"/>
<rect x="1268.7" y="566.2" width="12.6" height="145.8" fill="url(#cc20)"/>
<rect x="1280.7" y="566.2" width="12.6" height="145.8" fill="url(#cc21)"/>
<rect x="1292.7" y="566.2" width="12.6" height="145.8" fill="url(#cc22)"/>
<rect x="1304.7" y="566.2" width="12.6" height="145.8" fill="url(#cc23)"/>
<rect x="1316.7" y="566.2" width="12.6" height="145.8" fill="url(#cc24)"/>
<rect x="1328.7" y="566.2" width="12.6" height="145.8" fill="url(#cc25)"/>
<rect x="1340.7" y="566.2" width="12.6" height="145.8" fill="url(#cc26)"/>
<rect x="1352.7" y="566.2" width="12.6" height="145.8" fill="url(#cc27)"/>
<rect x="1364.7" y="566.2" width="12.6" height="145.8" fill="url(#cc28)"/>
<rect x="1376.7" y="566.2" width="12.6" height="145.8" fill="url(#cc29)"/>
<rect x="1388.7" y="566.2" width="12.6" height="145.8" fill="url(#cc30)"/>
<rect x="1400.7" y="566.2" width="12.6" height="145.8" fill="url(#cc31)"/>
<rect x="1412.7" y="566.2" width="12.6" height="145.8" fill="url(#cc32)"/>
<rect x="1424.7" y="566.2" width="12.6" height="145.8" fill="url(#cc33)"/>
<rect x="1436.7" y="566.2" width="12.6" height="145.8" fill="url(#cc34)"/>
<rect x="1448.7" y="566.2" width="12.6" height="145.8" fill="url(#cc35)"/>
<rect x="1460.7" y="566.2" width="12.6" height="145.8" fill="url(#cc36)"/>
<rect x="1472.7" y="566.2" width="12.6" height="145.8" fill="url(#cc37)"/>
<rect x="1484.7" y="566.2" width="12.6" height="145.8" fill="url(#cc38)"/>
<rect x="1496.7" y="566.2" width="12.6" height="145.8" fill="url(#cc39)"/>
<rect x="1508.7" y="566.2" width="12.6" height="145.8" fill="url(#cc40)"/>
<rect x="1520.7" y="566.2" width="12.6" height="145.8" fill="url(#cc41)"/>
<rect x="1532.7" y="566.2" width="12.6" height="145.8" fill="url(#cc42)"/>
<rect x="1544.7" y="566.2" width="12.6" height="145.8" fill="url(#cc43)"/>
<rect x="1556.7" y="566.2" width="12.6" height="145.8" fill="url(#cc44)"/>
<rect x="1568.7" y="566.2" width="12.6" height="145.8" fill="url(#cc45)"/>
<rect x="1580.7" y="566.2" width="12.6" height="145.8" fill="url(#cc46)"/>
<rect x="1592.7" y="566.2" width="12.6" height="145.8" fill="url(#cc47)"/>
<rect x="1604.7" y="566.2" width="12.6" height="145.8" fill="url(#cc48)"/>
<rect x="1616.7" y="566.2" width="12.6" height="145.8" fill="url(#cc49)"/>
<rect x="1628.7" y="566.2" width="12.6" height="145.8" fill="url(#cc50)"/>
<rect x="1640.7" y="566.2" width="12.6" height="145.8" fill="url(#cc51)"/>
<rect x="1652.7" y="566.2" width="12.6" height="145.8" fill="url(#cc52)"/>
<rect x="1664.7" y="566.2" width="12.6" height="145.8" fill="url(#cc53)"/>
<rect x="1676.7" y="566.2" width="12.6" height="145.8" fill="url(#cc54)"/>
<rect x="1688.7" y="566.2" width="12.6" height="145.8" fill="url(#cc55)"/>
<rect x="1700.7" y="566.2" width="12.6" height="145.8" fill="url(#cc56)"/>
<rect x="1712.7" y="566.2" width="12.6" height="145.8" fill="url(#cc57)"/>
<rect x="1724.7" y="566.2" width="12.6" height="145.8" fill="url(#cc58)"/>
<rect x="1736.7" y="566.2" width="12.6" height="145.8" fill="url(#cc59)"/>
<rect x="1748.7" y="566.2" width="12.6" height="145.8" fill="url(#cc60)"/>
<rect x="1760.7" y="566.2" width="6" height="145.8" fill="url(#cc61)"/>
</g>
<clipPath id="clipcc"><rect x="1028.7" y="566.2" width="738" height="145.8"/></clipPath>
<g clip-path="url(#clipcc)">
<path d="M1471 566.2 L1474.1 566.5 L1478.4 566.9 L1483.6 567.4 L1489.1 567.9 L1494.7 568.4 L1500 568.8 L1505 569.1 L1510.1 569.3 L1515.2 569.4 L1520.4 569.6 L1525.6 569.8 L1530.9 570" fill="none" stroke="#000" stroke-width="2.2" stroke-linecap="butt"/>
<path d="M1595.5 573.8 L1618.1 574.5 L1648.9 575.3 L1683.6 576.2 L1717.9 577.2 L1747.3 578 L1767.7 578.5" fill="none" stroke="#000" stroke-width="2.2" />
<path d="M1224 566.2 L1228 566.4 L1233.5 566.7 L1240 567 L1247 567.4 L1253.8 567.7 L1260 568" fill="none" stroke="#000" stroke-width="2.2" stroke-linecap="butt"/>
<path d="M1324.7 570 L1334.2 570.5 L1345.2 571.1 L1357.2 571.8 L1369.8 572.6 L1382.5 573.2 L1395 573.8 L1408 574.2 L1422.2 574.5 L1436.4 574.8 L1450 575.1 L1461.8 575.4 L1471 575.7 L1476.1 576.1 L1477.5 576.5 L1479.5 577.9 L1486.2 578.5 L1498.6 579.3 L1515.4 580.2 L1534.5 581.3 L1553.9 582.3 L1571.4 583.1 L1585 583.8" fill="none" stroke="#000" stroke-width="2.2" stroke-linecap="butt"/>
<path d="M1650.6 585.2 L1666.6 585.7 L1687.8 586.5 L1711.2 587.4 L1734.2 588.2 L1754 589 L1767.7 589.5" fill="none" stroke="#000" stroke-width="2.2" />
<path d="M1048.2 566.2 L1050.5 566.7 L1053.5 567.3 L1057.2 568.1 L1061.5 568.9 L1066.4 569.7 L1072 570.5 L1078.6 571.2 L1086.3 572 L1094.7 572.8 L1103.2 573.5 L1111.3 574.1 L1118.5 574.7" fill="none" stroke="#000" stroke-width="2.2" stroke-linecap="butt"/>
<path d="M1183.2 577.6 L1195.5 578.1 L1210.3 578.6 L1227 579.2 L1244.8 579.9 L1263 580.7 L1281 581.4 L1299.8 582.2 L1320.2 583.1 L1341 584.1 L1361.2 585 L1379.6 585.8 L1395 586.5 L1407.2 587 L1416.9 587.3 L1424.8 587.4 L1431.6 587.6 L1437.9 587.8 L1444.4 588" fill="none" stroke="#000" stroke-width="2.2" stroke-linecap="butt"/>
<path d="M1509 590.9 L1542 592.2 L1588 594.1 L1640.3 596.2 L1692.2 598.3 L1736.9 600.1 L1767.7 601.3" fill="none" stroke="#000" stroke-width="2.2" />
<path d="M1036.9 566.2 L1037.1 566.6 L1037.4 567.1 L1037.7 567.6 L1038 568.3 L1038.5 568.9 L1039 569.5 L1039.4 570 L1039.8 570.5 L1040.2 571.1 L1040.8 571.6 L1041.9 572.2 L1043.5 572.8 L1045.5 573.5 L1047.8 574.2 L1050.5 574.9 L1053.8 575.7 L1057.7 576.6 L1062.5 577.6 L1068.5 578.8 L1075.7 580.1 L1083.6 581.5 L1091.6 582.9 L1099.3 584.2 L1106.2 585.2" fill="none" stroke="#000" stroke-width="2.2" stroke-linecap="butt"/>
<path d="M1169.9 589.9 L1183.8 590.6 L1201 591.5 L1220.3 592.5 L1240.8 593.5 L1261.4 594.6 L1281 595.6 L1300.7 596.7 L1321.6 597.8 L1342.6 599 L1362.6 600.1 L1380.4 601 L1395 601.8 L1405.7 602.3 L1413.2 602.6 L1418.6 602.8 L1422.9 602.9 L1427 603 L1432 603.2" fill="none" stroke="#000" stroke-width="2.2" stroke-linecap="butt"/>
<path d="M1496.7 605.7 L1531.2 606.9 L1579.4 608.7 L1634.3 610.7 L1688.6 612.7 L1735.5 614.4 L1767.7 615.6" fill="none" stroke="#000" stroke-width="2.2" />
<path d="M1062.5 598.5 L1068.6 599.9 L1075.8 601.6 L1083.8 603.5 L1092.4 605.4 L1101.2 607.3 L1110 608.9 L1119 610.4 L1128.3 611.8 L1137.9 613.1 L1147.6 614.3 L1157.4 615.5 L1167 616.5 L1176.3 617.4 L1185.3 618.2 L1194.3 618.9 L1203.6 619.5 L1213.4 620.1 L1224 620.7 L1235.9 621.3 L1249 621.8 L1262.6 622.4 L1276.1 622.9 L1288.8 623.3 L1300 623.7 L1309.9 624 L1318.9 624.3 L1327.2 624.5 L1334.7 624.7 L1341.5 624.9 L1347.5 625.1" fill="none" stroke="#000" stroke-width="2.2" stroke-linecap="butt"/>
<path d="M1387.4 626 L1395 626.4 L1428.8 627.2 L1477.6 628.3 L1533.8 629.6 L1590.3 630.8 L1639.6 631.9 L1674.3 632.7" fill="none" stroke="#000" stroke-width="2.2" stroke-linecap="butt"/>
<path d="M1715.2 633.2 L1722.7 633.4 L1732.3 633.6 L1742.7 633.9 L1752.9 634.2 L1761.6 634.4 L1767.7 634.6" fill="none" stroke="#000" stroke-width="2.2" />
<path d="M1161.3 712 L1166.6 711.3 L1174.1 710.2 L1183 708.9 L1192.3 707.6 L1201.2 706.4 L1208.8 705.4" fill="none" stroke="#000" stroke-width="2.2" stroke-linecap="butt"/>
<path d="M1274.4 697.3 L1289.2 695.7 L1307.4 693.8 L1328 691.7 L1350.1 689.5 L1372.8 687.2 L1395 685 L1418.4 682.7 L1444.1 680.2 L1470.4 677.7 L1495.4 675.3 L1517.4 673.2 L1534.7 671.6" fill="none" stroke="#000" stroke-width="2.2" stroke-linecap="butt"/>
<path d="M1599.3 666.5 L1621.4 665.4 L1651.6 663.9 L1685.5 662.2 L1719 660.6 L1747.8 659.3 L1767.7 658.3" fill="none" stroke="#000" stroke-width="2.2" />
<path d="M1395 712 L1402.4 711.3 L1413 710.4 L1425.3 709.3 L1438.1 708.2 L1450 707.1 L1459.6 706.2" fill="none" stroke="#000" stroke-width="2.2" stroke-linecap="butt"/>
<path d="M1523.3 699.2 L1554.6 697.2 L1598.1 694.4 L1647.5 691.4 L1696.5 688.4 L1738.7 685.8 L1767.7 684" fill="none" stroke="#000" stroke-width="2.2" />
<path d="M1577.4 712 L1581.2 711.7 L1586.4 711.2 L1592.5 710.7 L1599.1 710.1 L1605.7 709.6 L1611.6 709.2" fill="none" stroke="#000" stroke-width="2.2" stroke-linecap="butt"/>
<path d="M1675.3 706.8 L1688.3 706 L1705.1 705 L1723.5 703.8 L1741.5 702.7 L1757 701.7 L1767.7 701" fill="none" stroke="#000" stroke-width="2.2" />
</g>
<text transform="translate(1563.2 572.3) rotate(3.4)" font-size="23" text-anchor="middle" y="8.2">29.2</text>
<text transform="translate(1291.5 569.5) rotate(1.8)" font-size="23" text-anchor="middle" y="8.2">29.4</text>
<text transform="translate(1617.3 584.7) rotate(1.2)" font-size="23" text-anchor="middle" y="8.2">29.4</text>
<text transform="translate(1150.9 576.6) rotate(2.6)" font-size="23" text-anchor="middle" y="8.2">29.6</text>
<text transform="translate(1477.1 589.9) rotate(2.6)" font-size="23" text-anchor="middle" y="8.2">29.6</text>
<text transform="translate(1137.6 588) rotate(4.2)" font-size="23" text-anchor="middle" y="8.2">29.8</text>
<text transform="translate(1463.8 605.1) rotate(2.2)" font-size="23" text-anchor="middle" y="8.2">29.8</text>
<text transform="translate(1368 625.8) rotate(1.3)" font-size="23" text-anchor="middle" y="8.2">30</text>
<text transform="translate(1694.8 633) rotate(0.7)" font-size="23" text-anchor="middle" y="8.2">30</text>
<text transform="translate(1242 701.5) rotate(-7)" font-size="23" text-anchor="middle" y="8.2">30.2</text>
<text transform="translate(1567 669) rotate(-4.5)" font-size="23" text-anchor="middle" y="8.2">30.2</text>
<text transform="translate(1491 702.9) rotate(-6.3)" font-size="23" text-anchor="middle" y="8.2">30.4</text>
<text transform="translate(1643 708) rotate(-2.2)" font-size="23" text-anchor="middle" y="8.2">30.6</text>
<text transform="translate(1045.5 594.5) rotate(14)" font-size="23" text-anchor="middle" y="8.2">30</text>
<rect x="1028.7" y="566.2" width="738" height="145.8" fill="none" stroke="#262626" stroke-width="2.4" />
<line x1="1102.5" y1="712" x2="1102.5" y2="707.5" stroke="#262626" stroke-width="2" />
<line x1="1102.5" y1="566.2" x2="1102.5" y2="570.7" stroke="#262626" stroke-width="2" />
<line x1="1176.3" y1="712" x2="1176.3" y2="704" stroke="#262626" stroke-width="2" />
<line x1="1176.3" y1="566.2" x2="1176.3" y2="574.2" stroke="#262626" stroke-width="2" />
<line x1="1250.1" y1="712" x2="1250.1" y2="707.5" stroke="#262626" stroke-width="2" />
<line x1="1250.1" y1="566.2" x2="1250.1" y2="570.7" stroke="#262626" stroke-width="2" />
<line x1="1323.9" y1="712" x2="1323.9" y2="704" stroke="#262626" stroke-width="2" />
<line x1="1323.9" y1="566.2" x2="1323.9" y2="574.2" stroke="#262626" stroke-width="2" />
<line x1="1397.7" y1="712" x2="1397.7" y2="707.5" stroke="#262626" stroke-width="2" />
<line x1="1397.7" y1="566.2" x2="1397.7" y2="570.7" stroke="#262626" stroke-width="2" />
<line x1="1471.5" y1="712" x2="1471.5" y2="704" stroke="#262626" stroke-width="2" />
<line x1="1471.5" y1="566.2" x2="1471.5" y2="574.2" stroke="#262626" stroke-width="2" />
<line x1="1545.3" y1="712" x2="1545.3" y2="707.5" stroke="#262626" stroke-width="2" />
<line x1="1545.3" y1="566.2" x2="1545.3" y2="570.7" stroke="#262626" stroke-width="2" />
<line x1="1619.1" y1="712" x2="1619.1" y2="704" stroke="#262626" stroke-width="2" />
<line x1="1619.1" y1="566.2" x2="1619.1" y2="574.2" stroke="#262626" stroke-width="2" />
<line x1="1692.9" y1="712" x2="1692.9" y2="707.5" stroke="#262626" stroke-width="2" />
<line x1="1692.9" y1="566.2" x2="1692.9" y2="570.7" stroke="#262626" stroke-width="2" />
<line x1="1028.7" y1="602.7" x2="1033.2" y2="602.7" stroke="#262626" stroke-width="2" />
<line x1="1766.7" y1="602.7" x2="1762.2" y2="602.7" stroke="#262626" stroke-width="2" />
<line x1="1028.7" y1="639.1" x2="1036.7" y2="639.1" stroke="#262626" stroke-width="2" />
<line x1="1766.7" y1="639.1" x2="1758.7" y2="639.1" stroke="#262626" stroke-width="2" />
<line x1="1028.7" y1="675.6" x2="1033.2" y2="675.6" stroke="#262626" stroke-width="2" />
<line x1="1766.7" y1="675.6" x2="1762.2" y2="675.6" stroke="#262626" stroke-width="2" />
<text x="1017" y="579.8" font-size="38.4" text-anchor="end" font-weight="normal" font-style="normal" fill="#000" >1.0</text>
<text x="1017" y="653.5" font-size="38.4" text-anchor="end" font-weight="normal" font-style="normal" fill="#000" >0.5</text>
<text x="1017" y="727.2" font-size="38.4" text-anchor="end" font-weight="normal" font-style="normal" fill="#000" >0</text>
<text x="1029.7" y="754.5" font-size="38.4" text-anchor="middle" font-weight="normal" font-style="normal" fill="#000" >0</text>
<text x="1174.9" y="754.5" font-size="38.4" text-anchor="middle" font-weight="normal" font-style="normal" fill="#000" >100</text>
<text x="1326.4" y="754.5" font-size="38.4" text-anchor="middle" font-weight="normal" font-style="normal" fill="#000" >200</text>
<text x="1469.5" y="754.5" font-size="38.4" text-anchor="middle" font-weight="normal" font-style="normal" fill="#000" >300</text>
<text x="1621.6" y="754.5" font-size="38.4" text-anchor="middle" font-weight="normal" font-style="normal" fill="#000" >400</text>
<text x="1764.7" y="754.5" font-size="38.4" text-anchor="middle" font-weight="normal" font-style="normal" fill="#000" >500</text>
<text x="1461.7" y="799" font-size="38.6" text-anchor="middle" font-weight="normal" font-style="normal" fill="#000" >Position along the channel, <tspan font-style="italic">x</tspan> (mm)</text>
<text transform="translate(937.7 400) rotate(-90)" font-size="38.7" text-anchor="middle" >Vertical position, <tspan font-style="italic">y</tspan> (mm)</text>
<text x="1032.5" y="57.8" font-size="39" text-anchor="start" font-weight="bold" font-style="normal" fill="#000" >c1</text>
<text x="1137.5" y="57.8" font-size="38.6" text-anchor="start" font-weight="normal" font-style="normal" fill="#000" ><tspan font-style="italic">Q</tspan> = 4 mL min<tspan font-size="22" dy="-13.5">-1</tspan><tspan dy="13.5">, Δ</tspan><tspan font-style="italic">T</tspan><tspan font-size="22" dy="13">meas</tspan><tspan dy="-13"> = 13.7 ± 0.9 K</tspan></text>
<text x="1026" y="291.8" font-size="39" text-anchor="start" font-weight="bold" font-style="normal" fill="#000" >c2</text>
<text x="1130.5" y="291.8" font-size="38.6" text-anchor="start" font-weight="normal" font-style="normal" fill="#000" ><tspan font-style="italic">Q</tspan> = 1 mL min<tspan font-size="22" dy="-13.5">-1</tspan><tspan dy="13.5">, Δ</tspan><tspan font-style="italic">T</tspan><tspan font-size="22" dy="13">meas</tspan><tspan dy="-13"> = 33.8 ± 7.0 K</tspan></text>
<text x="1027.5" y="547.7" font-size="39" text-anchor="start" font-weight="bold" font-style="normal" fill="#000" >c3</text>
<text x="1132.4" y="547.7" font-size="38.6" text-anchor="start" font-weight="normal" font-style="normal" fill="#000" ><tspan font-style="italic">Q</tspan> = 8 mL min<tspan font-size="22" dy="-13.5">-1</tspan><tspan dy="13.5">, Δ</tspan><tspan font-style="italic">T</tspan><tspan font-size="22" dy="13">meas</tspan><tspan dy="-13"> = 34.0 ± 6.6 K</tspan></text>
<rect x="1804.6" y="106.1" width="36.9" height="582.9" fill="url(#cbar)" stroke="#262626" stroke-width="2.4" />
<line x1="1841.5" y1="164.4" x2="1834.5" y2="164.4" stroke="#262626" stroke-width="2" />
<line x1="1841.5" y1="222.7" x2="1834.5" y2="222.7" stroke="#262626" stroke-width="2" />
<line x1="1841.5" y1="281" x2="1834.5" y2="281" stroke="#262626" stroke-width="2" />
<line x1="1841.5" y1="339.3" x2="1834.5" y2="339.3" stroke="#262626" stroke-width="2" />
<line x1="1841.5" y1="397.5" x2="1834.5" y2="397.5" stroke="#262626" stroke-width="2" />
<line x1="1841.5" y1="455.8" x2="1834.5" y2="455.8" stroke="#262626" stroke-width="2" />
<line x1="1841.5" y1="514.1" x2="1834.5" y2="514.1" stroke="#262626" stroke-width="2" />
<line x1="1841.5" y1="572.4" x2="1834.5" y2="572.4" stroke="#262626" stroke-width="2" />
<line x1="1841.5" y1="630.7" x2="1834.5" y2="630.7" stroke="#262626" stroke-width="2" />
<text x="1851.5" y="120.2" font-size="38.4" text-anchor="start" font-weight="normal" font-style="normal" fill="#000" >31.0</text>
<text x="1851.5" y="235.3" font-size="38.4" text-anchor="start" font-weight="normal" font-style="normal" fill="#000" >30.6</text>
<text x="1851.5" y="350.3" font-size="38.4" text-anchor="start" font-weight="normal" font-style="normal" fill="#000" >30.2</text>
<text x="1851.5" y="465.4" font-size="38.4" text-anchor="start" font-weight="normal" font-style="normal" fill="#000" >29.8</text>
<text x="1851.5" y="580.4" font-size="38.4" text-anchor="start" font-weight="normal" font-style="normal" fill="#000" >29.4</text>
<text x="1851.5" y="695.5" font-size="38.4" text-anchor="start" font-weight="normal" font-style="normal" fill="#000" >29.0</text>
<text x="1797" y="71.3" font-size="38" text-anchor="start" font-weight="normal" font-style="normal" fill="#000" ><tspan font-style="italic">C</tspan> (10<tspan font-size="22" dy="-15">3</tspan><tspan dy="15"> ppm)</tspan></text>
<text x="949.3" y="44.2" font-size="51" text-anchor="start" font-weight="bold" font-style="normal" fill="#000" >c</text>
</g>
<g id="pd">
<rect x="1062.3" y="848.4" width="337.5" height="269.9" fill="#fff" stroke="#262626" stroke-width="2.4" />
<line x1="1079.8" y1="1118.3" x2="1079.8" y2="1115.1" stroke="#262626" stroke-width="2" />
<line x1="1079.8" y1="848.4" x2="1079.8" y2="851.6" stroke="#262626" stroke-width="2" />
<line x1="1107.4" y1="1118.3" x2="1107.4" y2="1112.8" stroke="#262626" stroke-width="2" />
<line x1="1107.4" y1="848.4" x2="1107.4" y2="853.9" stroke="#262626" stroke-width="2" />
<line x1="1135" y1="1118.3" x2="1135" y2="1115.1" stroke="#262626" stroke-width="2" />
<line x1="1135" y1="848.4" x2="1135" y2="851.6" stroke="#262626" stroke-width="2" />
<line x1="1162.6" y1="1118.3" x2="1162.6" y2="1115.1" stroke="#262626" stroke-width="2" />
<line x1="1162.6" y1="848.4" x2="1162.6" y2="851.6" stroke="#262626" stroke-width="2" />
<line x1="1190.2" y1="1118.3" x2="1190.2" y2="1115.1" stroke="#262626" stroke-width="2" />
<line x1="1190.2" y1="848.4" x2="1190.2" y2="851.6" stroke="#262626" stroke-width="2" />
<line x1="1217.8" y1="1118.3" x2="1217.8" y2="1115.1" stroke="#262626" stroke-width="2" />
<line x1="1217.8" y1="848.4" x2="1217.8" y2="851.6" stroke="#262626" stroke-width="2" />
<line x1="1245.4" y1="1118.3" x2="1245.4" y2="1112.8" stroke="#262626" stroke-width="2" />
<line x1="1245.4" y1="848.4" x2="1245.4" y2="853.9" stroke="#262626" stroke-width="2" />
<line x1="1273" y1="1118.3" x2="1273" y2="1115.1" stroke="#262626" stroke-width="2" />
<line x1="1273" y1="848.4" x2="1273" y2="851.6" stroke="#262626" stroke-width="2" />
<line x1="1300.6" y1="1118.3" x2="1300.6" y2="1115.1" stroke="#262626" stroke-width="2" />
<line x1="1300.6" y1="848.4" x2="1300.6" y2="851.6" stroke="#262626" stroke-width="2" />
<line x1="1328.2" y1="1118.3" x2="1328.2" y2="1115.1" stroke="#262626" stroke-width="2" />
<line x1="1328.2" y1="848.4" x2="1328.2" y2="851.6" stroke="#262626" stroke-width="2" />
<line x1="1355.8" y1="1118.3" x2="1355.8" y2="1115.1" stroke="#262626" stroke-width="2" />
<line x1="1355.8" y1="848.4" x2="1355.8" y2="851.6" stroke="#262626" stroke-width="2" />
<line x1="1383.4" y1="1118.3" x2="1383.4" y2="1112.8" stroke="#262626" stroke-width="2" />
<line x1="1383.4" y1="848.4" x2="1383.4" y2="853.9" stroke="#262626" stroke-width="2" />
<line x1="1062.3" y1="915.9" x2="1065.5" y2="915.9" stroke="#262626" stroke-width="2" />
<line x1="1399.8" y1="915.9" x2="1396.6" y2="915.9" stroke="#262626" stroke-width="2" />
<line x1="1062.3" y1="983.3" x2="1067.8" y2="983.3" stroke="#262626" stroke-width="2" />
<line x1="1399.8" y1="983.3" x2="1394.3" y2="983.3" stroke="#262626" stroke-width="2" />
<line x1="1062.3" y1="1050.8" x2="1065.5" y2="1050.8" stroke="#262626" stroke-width="2" />
<line x1="1399.8" y1="1050.8" x2="1396.6" y2="1050.8" stroke="#262626" stroke-width="2" />
<path d="M1062.3 848.4 L1068.6 852.6 L1077.6 858.5 L1088.1 865.5 L1098.9 872.7 L1109 879.5 L1118.3 885.8 L1127.4 892.1 L1136.7 898.4 L1146.1 905 L1156 911.8 L1166.4 919 L1177.4 926.5 L1188.5 934.2 L1199.4 942 L1210 949.6 L1219.9 956.9 L1229.3 964.1 L1238.6 971.3 L1248.3 979 L1258.6 987.4 L1269.9 996.8 L1281.8 1007 L1294.1 1017.6 L1306.3 1028.3 L1318 1038.7 L1329.6 1049.1 L1341.2 1059.8 L1352.5 1070.2 L1363 1080 L1372 1088.7 L1379.7 1096.4 L1386.3 1103.4 L1391.9 1109.6 L1396.4 1114.6 L1399.8 1118.3" fill="none" stroke="#332288" stroke-width="4.2" stroke-linejoin="round"/>
<path d="M1237 984 L1296.4 974.4 L1296.4 993.6Z" fill="#4d4d4d" stroke="none" stroke-width="0" />
<text x="1267" y="961.7" font-size="38" text-anchor="start" font-weight="normal" font-style="normal" fill="#000" >Spacer</text>
<text x="1393.5" y="886.7" font-size="39.5" text-anchor="end" font-weight="bold" font-style="normal" fill="#000" >d1</text>
<text x="1059.5" y="866" font-size="38.4" text-anchor="end" font-weight="normal" font-style="normal" fill="#000" >1.0</text>
<text x="1059.5" y="995.5" font-size="38.4" text-anchor="end" font-weight="normal" font-style="normal" fill="#000" >0.5</text>
<text x="1059.5" y="1132" font-size="38.4" text-anchor="end" font-weight="normal" font-style="normal" fill="#000" >0.0</text>
<text x="1110.8" y="1150.8" font-size="38" text-anchor="middle" font-weight="normal" font-style="normal" fill="#000" >29</text>
<text x="1248.4" y="1150.8" font-size="38" text-anchor="middle" font-weight="normal" font-style="normal" fill="#000" >30</text>
<text x="1386.9" y="1150.8" font-size="38" text-anchor="middle" font-weight="normal" font-style="normal" fill="#000" >31</text>
<text x="1037" y="1188.5" font-size="34.4" text-anchor="start" font-weight="normal" font-style="normal" fill="#000" >Concentration, <tspan font-style="italic">C</tspan> (10<tspan font-size="20" dy="-13">3</tspan><tspan dy="13"> ppm)</tspan></text>
<text transform="translate(991.5 1002) rotate(-90)" font-size="38" text-anchor="middle" ><tspan font-style="italic">y</tspan> (mm)</text>
<text x="952.3" y="866.6" font-size="51" text-anchor="start" font-weight="bold" font-style="normal" fill="#000" >d</text>
<rect x="1071.5" y="1218.6" width="338.3" height="269.2" fill="#fff" stroke="#262626" stroke-width="2.4" />
<line x1="1088.4" y1="1487.8" x2="1088.4" y2="1484.6" stroke="#262626" stroke-width="2" />
<line x1="1088.4" y1="1218.6" x2="1088.4" y2="1221.8" stroke="#262626" stroke-width="2" />
<line x1="1105.3" y1="1487.8" x2="1105.3" y2="1484.6" stroke="#262626" stroke-width="2" />
<line x1="1105.3" y1="1218.6" x2="1105.3" y2="1221.8" stroke="#262626" stroke-width="2" />
<line x1="1122.2" y1="1487.8" x2="1122.2" y2="1484.6" stroke="#262626" stroke-width="2" />
<line x1="1122.2" y1="1218.6" x2="1122.2" y2="1221.8" stroke="#262626" stroke-width="2" />
<line x1="1139.2" y1="1487.8" x2="1139.2" y2="1484.6" stroke="#262626" stroke-width="2" />
<line x1="1139.2" y1="1218.6" x2="1139.2" y2="1221.8" stroke="#262626" stroke-width="2" />
<line x1="1156.1" y1="1487.8" x2="1156.1" y2="1484.6" stroke="#262626" stroke-width="2" />
<line x1="1156.1" y1="1218.6" x2="1156.1" y2="1221.8" stroke="#262626" stroke-width="2" />
<line x1="1173" y1="1487.8" x2="1173" y2="1484.6" stroke="#262626" stroke-width="2" />
<line x1="1173" y1="1218.6" x2="1173" y2="1221.8" stroke="#262626" stroke-width="2" />
<line x1="1189.9" y1="1487.8" x2="1189.9" y2="1484.6" stroke="#262626" stroke-width="2" />
<line x1="1189.9" y1="1218.6" x2="1189.9" y2="1221.8" stroke="#262626" stroke-width="2" />
<line x1="1206.8" y1="1487.8" x2="1206.8" y2="1484.6" stroke="#262626" stroke-width="2" />
<line x1="1206.8" y1="1218.6" x2="1206.8" y2="1221.8" stroke="#262626" stroke-width="2" />
<line x1="1223.7" y1="1487.8" x2="1223.7" y2="1484.6" stroke="#262626" stroke-width="2" />
<line x1="1223.7" y1="1218.6" x2="1223.7" y2="1221.8" stroke="#262626" stroke-width="2" />
<line x1="1240.7" y1="1487.8" x2="1240.7" y2="1482.3" stroke="#262626" stroke-width="2" />
<line x1="1240.7" y1="1218.6" x2="1240.7" y2="1224.1" stroke="#262626" stroke-width="2" />
<line x1="1257.6" y1="1487.8" x2="1257.6" y2="1484.6" stroke="#262626" stroke-width="2" />
<line x1="1257.6" y1="1218.6" x2="1257.6" y2="1221.8" stroke="#262626" stroke-width="2" />
<line x1="1274.5" y1="1487.8" x2="1274.5" y2="1484.6" stroke="#262626" stroke-width="2" />
<line x1="1274.5" y1="1218.6" x2="1274.5" y2="1221.8" stroke="#262626" stroke-width="2" />
<line x1="1291.4" y1="1487.8" x2="1291.4" y2="1484.6" stroke="#262626" stroke-width="2" />
<line x1="1291.4" y1="1218.6" x2="1291.4" y2="1221.8" stroke="#262626" stroke-width="2" />
<line x1="1308.3" y1="1487.8" x2="1308.3" y2="1484.6" stroke="#262626" stroke-width="2" />
<line x1="1308.3" y1="1218.6" x2="1308.3" y2="1221.8" stroke="#262626" stroke-width="2" />
<line x1="1325.2" y1="1487.8" x2="1325.2" y2="1484.6" stroke="#262626" stroke-width="2" />
<line x1="1325.2" y1="1218.6" x2="1325.2" y2="1221.8" stroke="#262626" stroke-width="2" />
<line x1="1342.1" y1="1487.8" x2="1342.1" y2="1484.6" stroke="#262626" stroke-width="2" />
<line x1="1342.1" y1="1218.6" x2="1342.1" y2="1221.8" stroke="#262626" stroke-width="2" />
<line x1="1359.1" y1="1487.8" x2="1359.1" y2="1484.6" stroke="#262626" stroke-width="2" />
<line x1="1359.1" y1="1218.6" x2="1359.1" y2="1221.8" stroke="#262626" stroke-width="2" />
<line x1="1376" y1="1487.8" x2="1376" y2="1484.6" stroke="#262626" stroke-width="2" />
<line x1="1376" y1="1218.6" x2="1376" y2="1221.8" stroke="#262626" stroke-width="2" />
<line x1="1392.9" y1="1487.8" x2="1392.9" y2="1484.6" stroke="#262626" stroke-width="2" />
<line x1="1392.9" y1="1218.6" x2="1392.9" y2="1221.8" stroke="#262626" stroke-width="2" />
<line x1="1071.5" y1="1272.4" x2="1077" y2="1272.4" stroke="#262626" stroke-width="2" />
<line x1="1409.8" y1="1272.4" x2="1404.3" y2="1272.4" stroke="#262626" stroke-width="2" />
<line x1="1071.5" y1="1326.3" x2="1077" y2="1326.3" stroke="#262626" stroke-width="2" />
<line x1="1409.8" y1="1326.3" x2="1404.3" y2="1326.3" stroke="#262626" stroke-width="2" />
<line x1="1071.5" y1="1380.1" x2="1077" y2="1380.1" stroke="#262626" stroke-width="2" />
<line x1="1409.8" y1="1380.1" x2="1404.3" y2="1380.1" stroke="#262626" stroke-width="2" />
<line x1="1071.5" y1="1434" x2="1077" y2="1434" stroke="#262626" stroke-width="2" />
<line x1="1409.8" y1="1434" x2="1404.3" y2="1434" stroke="#262626" stroke-width="2" />
<line x1="1071.5" y1="1285.9" x2="1075" y2="1285.9" stroke="#262626" stroke-width="2" />
<line x1="1409.8" y1="1285.9" x2="1406.3" y2="1285.9" stroke="#262626" stroke-width="2" />
<line x1="1071.5" y1="1353.2" x2="1075" y2="1353.2" stroke="#262626" stroke-width="2" />
<line x1="1409.8" y1="1353.2" x2="1406.3" y2="1353.2" stroke="#262626" stroke-width="2" />
<line x1="1071.5" y1="1420.5" x2="1075" y2="1420.5" stroke="#262626" stroke-width="2" />
<line x1="1409.8" y1="1420.5" x2="1406.3" y2="1420.5" stroke="#262626" stroke-width="2" />
<path d="M1071.5 1487.8 L1088.7 1483.3 L1105.3 1478.8 L1121.3 1474.3 L1136.8 1469.9 L1151.6 1465.4 L1165.9 1460.9 L1179.6 1456.4 L1192.7 1451.9 L1205.3 1447.4 L1217.2 1442.9 L1228.6 1438.4 L1239.4 1434 L1249.6 1429.5 L1259.2 1425 L1268.2 1420.5 L1276.7 1416 L1284.5 1411.5 L1291.8 1407 L1298.5 1402.6 L1304.7 1398.1 L1310.2 1393.6 L1315.1 1389.1 L1319.5 1384.6 L1323.3 1380.1 L1326.5 1375.6 L1329.1 1371.1 L1331.2 1366.7 L1332.6 1362.2 L1333.5 1357.7 L1333.8 1353.2 L1333.5 1348.7 L1332.6 1344.2 L1331.2 1339.7 L1329.1 1335.3 L1326.5 1330.8 L1323.3 1326.3 L1319.5 1321.8 L1315.1 1317.3 L1310.2 1312.8 L1304.7 1308.3 L1298.5 1303.8 L1291.8 1299.4 L1284.5 1294.9 L1276.7 1290.4 L1268.2 1285.9 L1259.2 1281.4 L1249.6 1276.9 L1239.4 1272.4 L1228.6 1268 L1217.2 1263.5 L1205.3 1259 L1192.7 1254.5 L1179.6 1250 L1165.9 1245.5 L1151.6 1241 L1136.8 1236.5 L1121.3 1232.1 L1105.3 1227.6 L1088.7 1223.1 L1071.5 1218.6" fill="none" stroke="#332288" stroke-width="4.2" stroke-linejoin="round"/>
<path d="M1316.6 1352.3 L1375.2 1343.2 L1375.2 1362.3Z" fill="#4d4d4d" stroke="none" stroke-width="0" />
<text x="1190.5" y="1352.3" font-size="38" text-anchor="start" font-weight="normal" font-style="normal" fill="#000" >Spacer</text>
<text x="1402" y="1254.3" font-size="39.5" text-anchor="end" font-weight="bold" font-style="normal" fill="#000" >d2</text>
<text x="1061.5" y="1226.5" font-size="38.4" text-anchor="end" font-weight="normal" font-style="normal" fill="#000" >1.0</text>
<text x="1061.5" y="1361.5" font-size="38.4" text-anchor="end" font-weight="normal" font-style="normal" fill="#000" >0.5</text>
<text x="1083.6" y="1525.2" font-size="38" text-anchor="middle" font-weight="normal" font-style="normal" fill="#000" >0.0</text>
<text x="1238.4" y="1525.2" font-size="38" text-anchor="middle" font-weight="normal" font-style="normal" fill="#000" >1.0</text>
<text x="1409.8" y="1525.2" font-size="38" text-anchor="middle" font-weight="normal" font-style="normal" fill="#000" >2.0</text>
<text x="1080.4" y="1568.8" font-size="38.7" text-anchor="start" font-weight="normal" font-style="normal" fill="#000" >Velocity, <tspan font-style="italic">u</tspan> (mm s<tspan font-size="22" dy="-15">-1</tspan><tspan dy="15">)</tspan></text>
<text transform="translate(1002 1365.6) rotate(-90)" font-size="38" text-anchor="middle" ><tspan font-style="italic">y</tspan> (mm)</text>
<path d="M1573 1187.5 L1875.8 1187.5 L1876 1182.2 L1875.8 1176.4 L1875.2 1170.7 L1874.3 1164.9 L1873 1159.1 L1871.3 1153.3 L1869.2 1147.6 L1866.7 1141.8 L1863.9 1136 L1860.7 1130.2 L1857.1 1124.5 L1853.1 1118.7 L1848.7 1112.9 L1844 1107.1 L1838.9 1101.3 L1833.4 1095.6 L1827.5 1089.8 L1821.3 1084 L1814.6 1078.2 L1807.6 1072.5 L1800.2 1066.7 L1792.5 1060.9 L1784.3 1055.2 L1775.8 1049.4 L1766.9 1043.6 L1757.6 1037.8 L1748 1032.1 L1737.9 1026.3 L1727.5 1020.5 L1716.7 1014.7 L1705.6 1009 L1694 1003.2 L1682.1 997.4 L1669.8 991.6 L1657.1 985.9 L1644 980.1 L1630.6 974.3 L1616.7 968.5 L1602.5 962.8 L1588 957 L1573 951.2Z" fill="#e6b3bb" stroke="none" stroke-width="0" />
<path d="M1573 1413.2 L1588 1407.4 L1602.5 1401.7 L1616.7 1395.9 L1630.6 1390.1 L1644 1384.3 L1657.1 1378.5 L1669.8 1372.8 L1682.1 1367 L1694 1361.2 L1705.6 1355.5 L1716.7 1349.7 L1727.5 1343.9 L1737.9 1338.1 L1748 1332.4 L1757.6 1326.6 L1766.9 1320.8 L1775.8 1315 L1784.3 1309.2 L1792.5 1303.5 L1800.2 1297.7 L1807.6 1291.9 L1814.6 1286.2 L1821.3 1280.4 L1827.5 1274.6 L1833.4 1268.8 L1838.9 1263 L1844 1257.3 L1848.7 1251.5 L1853.1 1245.7 L1857.1 1240 L1860.7 1234.2 L1863.9 1228.4 L1866.7 1222.6 L1869.2 1216.9 L1871.3 1211.1 L1873 1205.3 L1874.3 1199.5 L1875.2 1193.8 L1875.8 1188 L1875.8 1187.5 L1573 1187.5Z" fill="#88CCEE" stroke="none" stroke-width="0" />
<rect x="1573" y="951.2" width="329.3" height="462" fill="none" stroke="#262626" stroke-width="2.0" />
<path d="M1573 1413.2 L1588 1407.4 L1602.5 1401.7 L1616.7 1395.9 L1630.6 1390.1 L1644 1384.3 L1657.1 1378.5 L1669.8 1372.8 L1682.1 1367 L1694 1361.2 L1705.6 1355.5 L1716.7 1349.7 L1727.5 1343.9 L1737.9 1338.1 L1748 1332.4 L1757.6 1326.6 L1766.9 1320.8 L1775.8 1315 L1784.3 1309.2 L1792.5 1303.5 L1800.2 1297.7 L1807.6 1291.9 L1814.6 1286.2 L1821.3 1280.4 L1827.5 1274.6 L1833.4 1268.8 L1838.9 1263 L1844 1257.3 L1848.7 1251.5 L1853.1 1245.7 L1857.1 1240 L1860.7 1234.2 L1863.9 1228.4 L1866.7 1222.6 L1869.2 1216.9 L1871.3 1211.1 L1873 1205.3 L1874.3 1199.5 L1875.2 1193.8 L1875.8 1188 L1876 1182.2 L1875.8 1176.4 L1875.2 1170.7 L1874.3 1164.9 L1873 1159.1 L1871.3 1153.3 L1869.2 1147.6 L1866.7 1141.8 L1863.9 1136 L1860.7 1130.2 L1857.1 1124.5 L1853.1 1118.7 L1848.7 1112.9 L1844 1107.1 L1838.9 1101.3 L1833.4 1095.6 L1827.5 1089.8 L1821.3 1084 L1814.6 1078.2 L1807.6 1072.5 L1800.2 1066.7 L1792.5 1060.9 L1784.3 1055.2 L1775.8 1049.4 L1766.9 1043.6 L1757.6 1037.8 L1748 1032.1 L1737.9 1026.3 L1727.5 1020.5 L1716.7 1014.7 L1705.6 1009 L1694 1003.2 L1682.1 997.4 L1669.8 991.6 L1657.1 985.9 L1644 980.1 L1630.6 974.3 L1616.7 968.5 L1602.5 962.8 L1588 957 L1573 951.2" fill="none" stroke="#332288" stroke-width="4.4" stroke-linejoin="round"/>
<path d="M1843.3 1187.5 L1903.4 1177.4 L1903.4 1197.8Z" fill="#4d4d4d" stroke="none" stroke-width="0" />
<line x1="1614.2" y1="1413.2" x2="1614.2" y2="1409.8" stroke="#262626" stroke-width="2" />
<line x1="1614.2" y1="951.2" x2="1614.2" y2="954.6" stroke="#262626" stroke-width="2" />
<line x1="1655.3" y1="1413.2" x2="1655.3" y2="1409.8" stroke="#262626" stroke-width="2" />
<line x1="1655.3" y1="951.2" x2="1655.3" y2="954.6" stroke="#262626" stroke-width="2" />
<line x1="1696.5" y1="1413.2" x2="1696.5" y2="1409.8" stroke="#262626" stroke-width="2" />
<line x1="1696.5" y1="951.2" x2="1696.5" y2="954.6" stroke="#262626" stroke-width="2" />
<line x1="1737.7" y1="1413.2" x2="1737.7" y2="1407.2" stroke="#262626" stroke-width="2" />
<line x1="1737.7" y1="951.2" x2="1737.7" y2="957.2" stroke="#262626" stroke-width="2" />
<line x1="1778.8" y1="1413.2" x2="1778.8" y2="1409.8" stroke="#262626" stroke-width="2" />
<line x1="1778.8" y1="951.2" x2="1778.8" y2="954.6" stroke="#262626" stroke-width="2" />
<line x1="1820" y1="1413.2" x2="1820" y2="1409.8" stroke="#262626" stroke-width="2" />
<line x1="1820" y1="951.2" x2="1820" y2="954.6" stroke="#262626" stroke-width="2" />
<line x1="1861.1" y1="1413.2" x2="1861.1" y2="1409.8" stroke="#262626" stroke-width="2" />
<line x1="1861.1" y1="951.2" x2="1861.1" y2="954.6" stroke="#262626" stroke-width="2" />
<line x1="1902.3" y1="1043.6" x2="1897.3" y2="1043.6" stroke="#262626" stroke-width="2" />
<line x1="1902.3" y1="1136" x2="1897.3" y2="1136" stroke="#262626" stroke-width="2" />
<line x1="1902.3" y1="1228.4" x2="1897.3" y2="1228.4" stroke="#262626" stroke-width="2" />
<line x1="1902.3" y1="1320.8" x2="1897.3" y2="1320.8" stroke="#262626" stroke-width="2" />
<text x="1566" y="964" font-size="38.5" text-anchor="end" font-weight="normal" font-style="normal" fill="#000" >1.0</text>
<text x="1566" y="1054.2" font-size="38.5" text-anchor="end" font-weight="normal" font-style="normal" fill="#000" >0.8</text>
<text x="1566" y="1145.2" font-size="38.5" text-anchor="end" font-weight="normal" font-style="normal" fill="#000" >0.6</text>
<text x="1566" y="1235.1" font-size="38.5" text-anchor="end" font-weight="normal" font-style="normal" fill="#000" >0.4</text>
<text x="1566" y="1326.4" font-size="38.5" text-anchor="end" font-weight="normal" font-style="normal" fill="#000" >0.2</text>
<text x="1566" y="1416.6" font-size="38.5" text-anchor="end" font-weight="normal" font-style="normal" fill="#000" >0.0</text>
<text x="1586" y="1447.8" font-size="38.8" text-anchor="middle" font-weight="normal" font-style="normal" fill="#000" >0.00</text>
<text x="1749.5" y="1447.8" font-size="38.8" text-anchor="middle" font-weight="normal" font-style="normal" fill="#000" >0.02</text>
<text x="1914.4" y="1447.8" font-size="38.8" text-anchor="middle" font-weight="normal" font-style="normal" fill="#000" >0.04</text>
<text x="1540.5" y="1486.6" font-size="38.8" text-anchor="start" font-weight="normal" font-style="normal" fill="#000" >Ion mass flux (g mm<tspan font-size="22" dy="-15">-1</tspan><tspan dy="15"> s</tspan><tspan font-size="22" dy="-15">-1</tspan><tspan dy="15">)</tspan></text>
<text transform="translate(1492.8 1177.6) rotate(-90)" font-size="38" text-anchor="middle" ><tspan font-style="italic">y</tspan> (mm)</text>
<text x="1898" y="985.2" font-size="39" text-anchor="end" font-weight="bold" font-style="normal" fill="#000" >d3</text>
<text x="1576.5" y="1073.2" font-size="38.6" text-anchor="start" font-weight="normal" font-style="normal" fill="#000" >Top stream</text>
<text x="1576.5" y="1107.8" font-size="38.6" text-anchor="start" font-weight="normal" font-style="normal" fill="#000" >average <tspan font-style="italic">C</tspan></text>
<text x="1576.5" y="1149.7" font-size="38.6" text-anchor="start" font-weight="normal" font-style="normal" fill="#000" >29,600 ppm</text>
<text x="1583" y="1260.8" font-size="38.6" text-anchor="start" font-weight="normal" font-style="normal" fill="#000" >Bottom stream</text>
<text x="1583" y="1298.6" font-size="38.6" text-anchor="start" font-weight="normal" font-style="normal" fill="#000" >average <tspan font-style="italic">C</tspan></text>
<text x="1583" y="1337.4" font-size="38.6" text-anchor="start" font-weight="normal" font-style="normal" fill="#000" >30,500 ppm</text>
<line x1="1425.6" y1="987.4" x2="1470.7" y2="1015.9" stroke="#808080" stroke-width="8.5" />
<path d="M1498.3 1033.3 L1457.7 1026.4 L1470.7 1015.9 L1474.6 999.7Z" fill="#808080" stroke="none" stroke-width="0" />
<line x1="1424.2" y1="1359.2" x2="1469.2" y2="1330.6" stroke="#808080" stroke-width="8.5" />
<path d="M1496.8 1313.1 L1473.2 1346.8 L1469.2 1330.6 L1456.3 1320.1Z" fill="#808080" stroke="none" stroke-width="0" />
</g>
</svg>
</body></html>
